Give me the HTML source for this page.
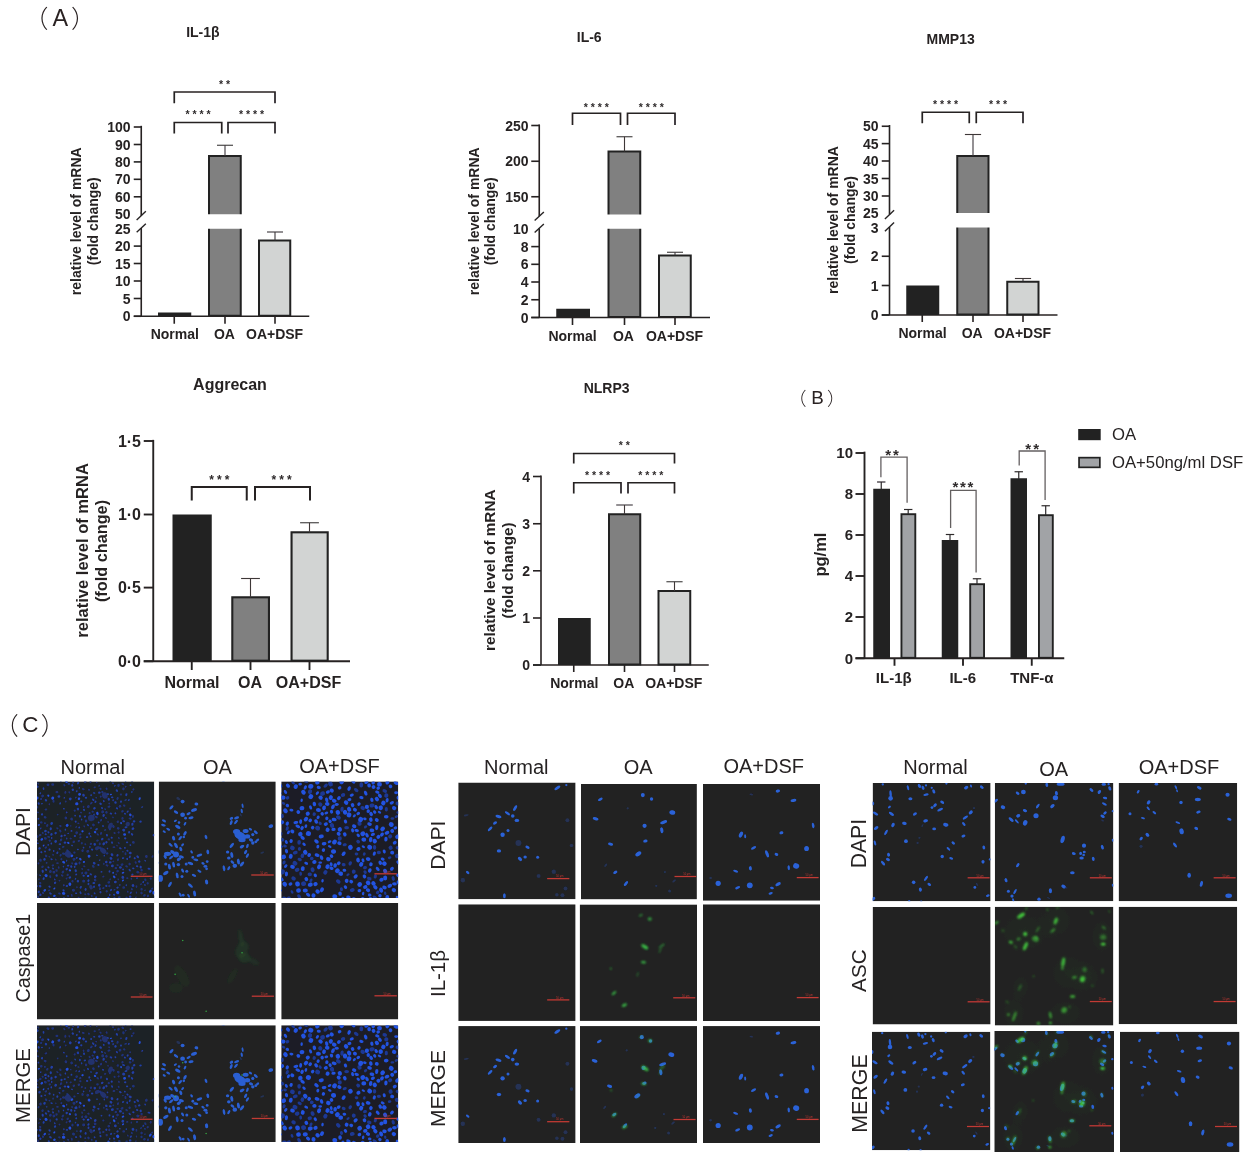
<!DOCTYPE html>
<html lang="en"><head><meta charset="utf-8"><title>Figure</title>
<style>html,body{margin:0;padding:0;background:#fff;overflow:hidden}svg{display:block}text{font-family:"Liberation Sans","Noto Sans CJK SC",sans-serif}</style></head><body>
<svg width="1248" height="1152" viewBox="0 0 1248 1152">
<defs><filter id="b1" x="-5%" y="-5%" width="110%" height="110%"><feGaussianBlur stdDeviation="0.55"/></filter><filter id="b0" filterUnits="userSpaceOnUse" x="0" y="0" width="1248" height="1152"><feGaussianBlur stdDeviation="0.38"/></filter><filter id="b2" x="-5%" y="-5%" width="110%" height="110%"><feGaussianBlur stdDeviation="0.9"/></filter><filter id="b3" x="-5%" y="-5%" width="110%" height="110%"><feGaussianBlur stdDeviation="1.6"/></filter><filter id="b4" x="-20%" y="-20%" width="140%" height="140%"><feGaussianBlur stdDeviation="7"/></filter></defs>
<rect width="1248" height="1152" fill="#fff"/>
<g id="charts" filter="url(#b0)">
<rect x="158" y="312.5" width="33.25" height="3.75" fill="#222222"/>
<rect x="209" y="156" width="31.75" height="159.75" fill="#808080" stroke="#222222" stroke-width="2"/>
<rect x="259" y="240.5" width="31.25" height="75.25" fill="#d2d4d3" stroke="#222222" stroke-width="2"/>
<rect x="145.25" y="214.25" width="164" height="14.5" fill="#fff"/>
<line x1="141.25" y1="125.8" x2="141.25" y2="215.6" stroke="#262324" stroke-width="1.6"/>
<line x1="141.25" y1="228" x2="141.25" y2="316.25" stroke="#262324" stroke-width="1.6"/>
<line x1="136.65" y1="219.9" x2="145.85" y2="211.3" stroke="#262324" stroke-width="1.4"/>
<line x1="136.65" y1="232.3" x2="145.85" y2="223.7" stroke="#262324" stroke-width="1.4"/>
<line x1="133.75" y1="316.25" x2="309.25" y2="316.25" stroke="#262324" stroke-width="1.6"/>
<line x1="133.75" y1="127" x2="141.25" y2="127" stroke="#262324" stroke-width="1.6"/>
<text x="130.5" y="132.01" font-size="14" font-weight="bold" text-anchor="end" fill="#262324">100</text>
<line x1="133.75" y1="144.5" x2="141.25" y2="144.5" stroke="#262324" stroke-width="1.6"/>
<text x="130.5" y="149.51" font-size="14" font-weight="bold" text-anchor="end" fill="#262324">90</text>
<line x1="133.75" y1="161.9" x2="141.25" y2="161.9" stroke="#262324" stroke-width="1.6"/>
<text x="130.5" y="166.91" font-size="14" font-weight="bold" text-anchor="end" fill="#262324">80</text>
<line x1="133.75" y1="179.3" x2="141.25" y2="179.3" stroke="#262324" stroke-width="1.6"/>
<text x="130.5" y="184.31" font-size="14" font-weight="bold" text-anchor="end" fill="#262324">70</text>
<line x1="133.75" y1="196.8" x2="141.25" y2="196.8" stroke="#262324" stroke-width="1.6"/>
<text x="130.5" y="201.81" font-size="14" font-weight="bold" text-anchor="end" fill="#262324">60</text>
<text x="130.5" y="219.26" font-size="14" font-weight="bold" text-anchor="end" fill="#262324">50</text>
<text x="130.5" y="233.76" font-size="14" font-weight="bold" text-anchor="end" fill="#262324">25</text>
<line x1="133.75" y1="246.1" x2="141.25" y2="246.1" stroke="#262324" stroke-width="1.6"/>
<text x="130.5" y="251.11" font-size="14" font-weight="bold" text-anchor="end" fill="#262324">20</text>
<line x1="133.75" y1="263.5" x2="141.25" y2="263.5" stroke="#262324" stroke-width="1.6"/>
<text x="130.5" y="268.51" font-size="14" font-weight="bold" text-anchor="end" fill="#262324">15</text>
<line x1="133.75" y1="281" x2="141.25" y2="281" stroke="#262324" stroke-width="1.6"/>
<text x="130.5" y="286.01" font-size="14" font-weight="bold" text-anchor="end" fill="#262324">10</text>
<line x1="133.75" y1="298.5" x2="141.25" y2="298.5" stroke="#262324" stroke-width="1.6"/>
<text x="130.5" y="303.51" font-size="14" font-weight="bold" text-anchor="end" fill="#262324">5</text>
<line x1="133.75" y1="316.25" x2="141.25" y2="316.25" stroke="#262324" stroke-width="1.6"/>
<text x="130.5" y="321.26" font-size="14" font-weight="bold" text-anchor="end" fill="#262324">0</text>
<line x1="174.25" y1="316.25" x2="174.25" y2="323.75" stroke="#262324" stroke-width="1.6"/>
<text x="174.75" y="338.75" font-size="14" font-weight="bold" text-anchor="middle" fill="#262324">Normal</text>
<line x1="225" y1="316.25" x2="225" y2="323.75" stroke="#262324" stroke-width="1.6"/>
<text x="224.4" y="338.75" font-size="14" font-weight="bold" text-anchor="middle" fill="#262324">OA</text>
<line x1="275" y1="316.25" x2="275" y2="323.75" stroke="#262324" stroke-width="1.6"/>
<text x="274.6" y="338.75" font-size="14" font-weight="bold" text-anchor="middle" fill="#262324">OA+DSF</text>
<line x1="225" y1="145.25" x2="225" y2="156" stroke="#3c3839" stroke-width="1.1"/>
<line x1="217" y1="145.25" x2="233" y2="145.25" stroke="#3c3839" stroke-width="1.1"/>
<line x1="275" y1="232" x2="275" y2="240.5" stroke="#3c3839" stroke-width="1.1"/>
<line x1="267" y1="232" x2="283" y2="232" stroke="#3c3839" stroke-width="1.1"/>
<polyline points="174.25,103.2 174.25,92 275,92 275,103.2" fill="none" stroke="#262324" stroke-width="1.7" stroke-linejoin="miter"/>
<polyline points="174.25,133.4 174.25,122.5 221.75,122.5 221.75,133.4" fill="none" stroke="#262324" stroke-width="1.7" stroke-linejoin="miter"/>
<polyline points="228,133.4 228,122.5 275,122.5 275,133.4" fill="none" stroke="#262324" stroke-width="1.7" stroke-linejoin="miter"/>
<text x="225.95" y="88.36" font-size="10.5" font-weight="bold" text-anchor="middle" fill="#2e2a2b" letter-spacing="2.9">**</text>
<text x="199.45" y="118.36" font-size="10.5" font-weight="bold" text-anchor="middle" fill="#2e2a2b" letter-spacing="2.9">****</text>
<text x="252.95" y="118.36" font-size="10.5" font-weight="bold" text-anchor="middle" fill="#2e2a2b" letter-spacing="2.9">****</text>
<text x="81.25" y="221.25" font-size="14" font-weight="bold" text-anchor="middle" fill="#262324" transform="rotate(-90 81.25 221.25)">relative level of mRNA</text>
<text x="98" y="221.2" font-size="14" font-weight="bold" text-anchor="middle" fill="#262324" transform="rotate(-90 98 221.2)">(fold change)</text>
<text x="202.9" y="37" font-size="14" font-weight="bold" text-anchor="middle" fill="#262324">IL-1β</text>
<rect x="556.25" y="308.75" width="33.75" height="8.75" fill="#222222"/>
<rect x="608.5" y="151.5" width="31.75" height="165.5" fill="#808080" stroke="#222222" stroke-width="2"/>
<rect x="659" y="255.5" width="31.75" height="61.5" fill="#d2d4d3" stroke="#222222" stroke-width="2"/>
<rect x="543.25" y="214.5" width="166.75" height="14.25" fill="#fff"/>
<line x1="539.25" y1="124.4" x2="539.25" y2="216.3" stroke="#262324" stroke-width="1.6"/>
<line x1="539.25" y1="228.3" x2="539.25" y2="317.5" stroke="#262324" stroke-width="1.6"/>
<line x1="534.65" y1="220.6" x2="543.85" y2="212" stroke="#262324" stroke-width="1.4"/>
<line x1="534.65" y1="232.6" x2="543.85" y2="224" stroke="#262324" stroke-width="1.4"/>
<line x1="531.25" y1="317.5" x2="710" y2="317.5" stroke="#262324" stroke-width="1.6"/>
<line x1="531.25" y1="125.5" x2="539.25" y2="125.5" stroke="#262324" stroke-width="1.6"/>
<text x="528.5" y="130.51" font-size="14" font-weight="bold" text-anchor="end" fill="#262324">250</text>
<line x1="531.25" y1="161.25" x2="539.25" y2="161.25" stroke="#262324" stroke-width="1.6"/>
<text x="528.5" y="166.26" font-size="14" font-weight="bold" text-anchor="end" fill="#262324">200</text>
<line x1="531.25" y1="196.75" x2="539.25" y2="196.75" stroke="#262324" stroke-width="1.6"/>
<text x="528.5" y="201.76" font-size="14" font-weight="bold" text-anchor="end" fill="#262324">150</text>
<text x="528.5" y="234.26" font-size="14" font-weight="bold" text-anchor="end" fill="#262324">10</text>
<line x1="531.25" y1="246.6" x2="539.25" y2="246.6" stroke="#262324" stroke-width="1.6"/>
<text x="528.5" y="251.61" font-size="14" font-weight="bold" text-anchor="end" fill="#262324">8</text>
<line x1="531.25" y1="264.3" x2="539.25" y2="264.3" stroke="#262324" stroke-width="1.6"/>
<text x="528.5" y="269.31" font-size="14" font-weight="bold" text-anchor="end" fill="#262324">6</text>
<line x1="531.25" y1="282" x2="539.25" y2="282" stroke="#262324" stroke-width="1.6"/>
<text x="528.5" y="287.01" font-size="14" font-weight="bold" text-anchor="end" fill="#262324">4</text>
<line x1="531.25" y1="299.75" x2="539.25" y2="299.75" stroke="#262324" stroke-width="1.6"/>
<text x="528.5" y="304.76" font-size="14" font-weight="bold" text-anchor="end" fill="#262324">2</text>
<line x1="531.25" y1="317.5" x2="539.25" y2="317.5" stroke="#262324" stroke-width="1.6"/>
<text x="528.5" y="322.51" font-size="14" font-weight="bold" text-anchor="end" fill="#262324">0</text>
<line x1="572.5" y1="317.5" x2="572.5" y2="325" stroke="#262324" stroke-width="1.6"/>
<text x="572.5" y="340.5" font-size="14" font-weight="bold" text-anchor="middle" fill="#262324">Normal</text>
<line x1="624.5" y1="317.5" x2="624.5" y2="325" stroke="#262324" stroke-width="1.6"/>
<text x="623.4" y="340.5" font-size="14" font-weight="bold" text-anchor="middle" fill="#262324">OA</text>
<line x1="675" y1="317.5" x2="675" y2="325" stroke="#262324" stroke-width="1.6"/>
<text x="674.5" y="340.5" font-size="14" font-weight="bold" text-anchor="middle" fill="#262324">OA+DSF</text>
<line x1="624.5" y1="136.75" x2="624.5" y2="151.5" stroke="#3c3839" stroke-width="1.1"/>
<line x1="616.5" y1="136.75" x2="632.5" y2="136.75" stroke="#3c3839" stroke-width="1.1"/>
<line x1="675" y1="252.25" x2="675" y2="255.5" stroke="#3c3839" stroke-width="1.1"/>
<line x1="667" y1="252.25" x2="683" y2="252.25" stroke="#3c3839" stroke-width="1.1"/>
<polyline points="572.5,125 572.5,113.25 620.5,113.25 620.5,125" fill="none" stroke="#262324" stroke-width="1.7" stroke-linejoin="miter"/>
<polyline points="627.5,125 627.5,113.25 675,113.25 675,125" fill="none" stroke="#262324" stroke-width="1.7" stroke-linejoin="miter"/>
<text x="597.7" y="110.61" font-size="10.5" font-weight="bold" text-anchor="middle" fill="#2e2a2b" letter-spacing="2.9">****</text>
<text x="652.7" y="110.61" font-size="10.5" font-weight="bold" text-anchor="middle" fill="#2e2a2b" letter-spacing="2.9">****</text>
<text x="478.75" y="221.25" font-size="14" font-weight="bold" text-anchor="middle" fill="#262324" transform="rotate(-90 478.75 221.25)">relative level of mRNA</text>
<text x="495" y="221.2" font-size="14" font-weight="bold" text-anchor="middle" fill="#262324" transform="rotate(-90 495 221.2)">(fold change)</text>
<text x="589.2" y="42" font-size="14" font-weight="bold" text-anchor="middle" fill="#262324">IL-6</text>
<rect x="906.25" y="285.5" width="33" height="29.5" fill="#222222"/>
<rect x="957.25" y="156" width="31.25" height="158.5" fill="#808080" stroke="#222222" stroke-width="2"/>
<rect x="1007.25" y="281.75" width="31.25" height="32.75" fill="#d2d4d3" stroke="#222222" stroke-width="2"/>
<rect x="893.5" y="213" width="164" height="14.5" fill="#fff"/>
<line x1="889.5" y1="125" x2="889.5" y2="214.6" stroke="#262324" stroke-width="1.6"/>
<line x1="889.5" y1="226.9" x2="889.5" y2="315" stroke="#262324" stroke-width="1.6"/>
<line x1="884.9" y1="218.9" x2="894.1" y2="210.3" stroke="#262324" stroke-width="1.4"/>
<line x1="884.9" y1="231.2" x2="894.1" y2="222.6" stroke="#262324" stroke-width="1.4"/>
<line x1="881.75" y1="315" x2="1057.5" y2="315" stroke="#262324" stroke-width="1.6"/>
<line x1="881.75" y1="126.25" x2="889.5" y2="126.25" stroke="#262324" stroke-width="1.6"/>
<text x="878.5" y="131.26" font-size="14" font-weight="bold" text-anchor="end" fill="#262324">50</text>
<line x1="881.75" y1="143.6" x2="889.5" y2="143.6" stroke="#262324" stroke-width="1.6"/>
<text x="878.5" y="148.61" font-size="14" font-weight="bold" text-anchor="end" fill="#262324">45</text>
<line x1="881.75" y1="161" x2="889.5" y2="161" stroke="#262324" stroke-width="1.6"/>
<text x="878.5" y="166.01" font-size="14" font-weight="bold" text-anchor="end" fill="#262324">40</text>
<line x1="881.75" y1="178.5" x2="889.5" y2="178.5" stroke="#262324" stroke-width="1.6"/>
<text x="878.5" y="183.51" font-size="14" font-weight="bold" text-anchor="end" fill="#262324">35</text>
<line x1="881.75" y1="196" x2="889.5" y2="196" stroke="#262324" stroke-width="1.6"/>
<text x="878.5" y="201.01" font-size="14" font-weight="bold" text-anchor="end" fill="#262324">30</text>
<text x="878.5" y="218.01" font-size="14" font-weight="bold" text-anchor="end" fill="#262324">25</text>
<text x="878.5" y="232.51" font-size="14" font-weight="bold" text-anchor="end" fill="#262324">3</text>
<line x1="881.75" y1="256.25" x2="889.5" y2="256.25" stroke="#262324" stroke-width="1.6"/>
<text x="878.5" y="261.26" font-size="14" font-weight="bold" text-anchor="end" fill="#262324">2</text>
<line x1="881.75" y1="285.5" x2="889.5" y2="285.5" stroke="#262324" stroke-width="1.6"/>
<text x="878.5" y="290.51" font-size="14" font-weight="bold" text-anchor="end" fill="#262324">1</text>
<line x1="881.75" y1="315" x2="889.5" y2="315" stroke="#262324" stroke-width="1.6"/>
<text x="878.5" y="320.01" font-size="14" font-weight="bold" text-anchor="end" fill="#262324">0</text>
<line x1="922.25" y1="315" x2="922.25" y2="322" stroke="#262324" stroke-width="1.6"/>
<text x="922.5" y="337.5" font-size="14" font-weight="bold" text-anchor="middle" fill="#262324">Normal</text>
<line x1="973" y1="315" x2="973" y2="322" stroke="#262324" stroke-width="1.6"/>
<text x="972.2" y="337.5" font-size="14" font-weight="bold" text-anchor="middle" fill="#262324">OA</text>
<line x1="1023" y1="315" x2="1023" y2="322" stroke="#262324" stroke-width="1.6"/>
<text x="1022.5" y="337.5" font-size="14" font-weight="bold" text-anchor="middle" fill="#262324">OA+DSF</text>
<line x1="973" y1="134.5" x2="973" y2="156" stroke="#3c3839" stroke-width="1.1"/>
<line x1="964.9" y1="134.5" x2="981.1" y2="134.5" stroke="#3c3839" stroke-width="1.1"/>
<line x1="1023" y1="278.5" x2="1023" y2="281.5" stroke="#3c3839" stroke-width="1.1"/>
<line x1="1014.9" y1="278.5" x2="1031.1" y2="278.5" stroke="#3c3839" stroke-width="1.1"/>
<polyline points="922.25,123.2 922.25,112.25 969.25,112.25 969.25,123.2" fill="none" stroke="#262324" stroke-width="1.7" stroke-linejoin="miter"/>
<polyline points="976.25,123.2 976.25,112.25 1023,112.25 1023,123.2" fill="none" stroke="#262324" stroke-width="1.7" stroke-linejoin="miter"/>
<text x="946.95" y="107.86" font-size="10.5" font-weight="bold" text-anchor="middle" fill="#2e2a2b" letter-spacing="2.9">****</text>
<text x="999.45" y="107.86" font-size="10.5" font-weight="bold" text-anchor="middle" fill="#2e2a2b" letter-spacing="2.9">***</text>
<text x="837.5" y="220" font-size="14" font-weight="bold" text-anchor="middle" fill="#262324" transform="rotate(-90 837.5 220)">relative level of mRNA</text>
<text x="855" y="220" font-size="14" font-weight="bold" text-anchor="middle" fill="#262324" transform="rotate(-90 855 220)">(fold change)</text>
<text x="950.6" y="44.2" font-size="14" font-weight="bold" text-anchor="middle" fill="#262324">MMP13</text>
<rect x="172.5" y="514.5" width="39.25" height="146.75" fill="#222222"/>
<rect x="232.3" y="597.3" width="36.65" height="63.4" fill="#808080" stroke="#222222" stroke-width="2.1"/>
<rect x="291.55" y="532.3" width="36.15" height="128.4" fill="#d2d4d3" stroke="#222222" stroke-width="2.1"/>
<line x1="153.25" y1="439.85" x2="153.25" y2="661.25" stroke="#262324" stroke-width="1.9"/>
<line x1="143.75" y1="661.25" x2="350" y2="661.25" stroke="#262324" stroke-width="1.9"/>
<line x1="143.75" y1="441" x2="153.25" y2="441" stroke="#262324" stroke-width="1.9"/>
<text x="141" y="446.73" font-size="16" font-weight="bold" text-anchor="end" fill="#262324">1·5</text>
<line x1="143.75" y1="514.5" x2="153.25" y2="514.5" stroke="#262324" stroke-width="1.9"/>
<text x="141" y="520.23" font-size="16" font-weight="bold" text-anchor="end" fill="#262324">1·0</text>
<line x1="143.75" y1="587.6" x2="153.25" y2="587.6" stroke="#262324" stroke-width="1.9"/>
<text x="141" y="593.33" font-size="16" font-weight="bold" text-anchor="end" fill="#262324">0·5</text>
<line x1="143.75" y1="661.25" x2="153.25" y2="661.25" stroke="#262324" stroke-width="1.9"/>
<text x="141" y="666.98" font-size="16" font-weight="bold" text-anchor="end" fill="#262324">0·0</text>
<line x1="191.75" y1="661.25" x2="191.75" y2="670" stroke="#262324" stroke-width="1.9"/>
<text x="192" y="687.5" font-size="16" font-weight="bold" text-anchor="middle" fill="#262324">Normal</text>
<line x1="250.5" y1="661.25" x2="250.5" y2="670" stroke="#262324" stroke-width="1.9"/>
<text x="250" y="687.5" font-size="16" font-weight="bold" text-anchor="middle" fill="#262324">OA</text>
<line x1="309.5" y1="661.25" x2="309.5" y2="670" stroke="#262324" stroke-width="1.9"/>
<text x="308.5" y="687.5" font-size="16" font-weight="bold" text-anchor="middle" fill="#262324">OA+DSF</text>
<line x1="250.5" y1="578.5" x2="250.5" y2="597.5" stroke="#3c3839" stroke-width="1.1"/>
<line x1="241.1" y1="578.5" x2="259.9" y2="578.5" stroke="#3c3839" stroke-width="1.1"/>
<line x1="309.5" y1="522.75" x2="309.5" y2="532.5" stroke="#3c3839" stroke-width="1.1"/>
<line x1="300.1" y1="522.75" x2="318.9" y2="522.75" stroke="#3c3839" stroke-width="1.1"/>
<polyline points="191.75,500.5 191.75,487 246.75,487 246.75,500.5" fill="none" stroke="#262324" stroke-width="2" stroke-linejoin="miter"/>
<polyline points="255,500.5 255,487 310,487 310,500.5" fill="none" stroke="#262324" stroke-width="2" stroke-linejoin="miter"/>
<text x="220.8" y="483.62" font-size="12" font-weight="bold" text-anchor="middle" fill="#2e2a2b" letter-spacing="3.1">***</text>
<text x="283.05" y="483.62" font-size="12" font-weight="bold" text-anchor="middle" fill="#2e2a2b" letter-spacing="3.1">***</text>
<text x="88" y="550.4" font-size="16.55" font-weight="bold" text-anchor="middle" fill="#262324" transform="rotate(-90 88 550.4)">relative level of mRNA</text>
<text x="107.4" y="551" font-size="16.3" font-weight="bold" text-anchor="middle" fill="#262324" transform="rotate(-90 107.4 551)">(fold change)</text>
<text x="230" y="390.3" font-size="16" font-weight="bold" text-anchor="middle" fill="#262324">Aggrecan</text>
<rect x="558" y="618" width="32.75" height="47" fill="#222222"/>
<rect x="609" y="514.25" width="31.25" height="150.25" fill="#808080" stroke="#222222" stroke-width="2"/>
<rect x="658.5" y="591" width="31.75" height="73.5" fill="#d2d4d3" stroke="#222222" stroke-width="2"/>
<line x1="541" y1="475.6" x2="541" y2="665" stroke="#262324" stroke-width="1.6"/>
<line x1="533" y1="665" x2="708.75" y2="665" stroke="#262324" stroke-width="1.6"/>
<line x1="533" y1="476.5" x2="541" y2="476.5" stroke="#262324" stroke-width="1.6"/>
<text x="530" y="481.51" font-size="14" font-weight="bold" text-anchor="end" fill="#262324">4</text>
<line x1="533" y1="523.75" x2="541" y2="523.75" stroke="#262324" stroke-width="1.6"/>
<text x="530" y="528.76" font-size="14" font-weight="bold" text-anchor="end" fill="#262324">3</text>
<line x1="533" y1="570.8" x2="541" y2="570.8" stroke="#262324" stroke-width="1.6"/>
<text x="530" y="575.81" font-size="14" font-weight="bold" text-anchor="end" fill="#262324">2</text>
<line x1="533" y1="618" x2="541" y2="618" stroke="#262324" stroke-width="1.6"/>
<text x="530" y="623.01" font-size="14" font-weight="bold" text-anchor="end" fill="#262324">1</text>
<line x1="533" y1="665" x2="541" y2="665" stroke="#262324" stroke-width="1.6"/>
<text x="530" y="670.01" font-size="14" font-weight="bold" text-anchor="end" fill="#262324">0</text>
<line x1="573.75" y1="665" x2="573.75" y2="672" stroke="#262324" stroke-width="1.6"/>
<text x="574.25" y="687.5" font-size="14" font-weight="bold" text-anchor="middle" fill="#262324">Normal</text>
<line x1="624.5" y1="665" x2="624.5" y2="672" stroke="#262324" stroke-width="1.6"/>
<text x="623.75" y="687.5" font-size="14" font-weight="bold" text-anchor="middle" fill="#262324">OA</text>
<line x1="674.5" y1="665" x2="674.5" y2="672" stroke="#262324" stroke-width="1.6"/>
<text x="673.75" y="687.5" font-size="14" font-weight="bold" text-anchor="middle" fill="#262324">OA+DSF</text>
<line x1="624.5" y1="505" x2="624.5" y2="514.3" stroke="#3c3839" stroke-width="1.1"/>
<line x1="616.2" y1="505" x2="632.8" y2="505" stroke="#3c3839" stroke-width="1.1"/>
<line x1="674.5" y1="581.75" x2="674.5" y2="591" stroke="#3c3839" stroke-width="1.1"/>
<line x1="666.4" y1="581.75" x2="682.6" y2="581.75" stroke="#3c3839" stroke-width="1.1"/>
<polyline points="573.75,463.4 573.75,453.5 674.5,453.5 674.5,463.4" fill="none" stroke="#262324" stroke-width="1.7" stroke-linejoin="miter"/>
<polyline points="573.75,493.4 573.75,482.75 621,482.75 621,493.4" fill="none" stroke="#262324" stroke-width="1.7" stroke-linejoin="miter"/>
<polyline points="628,493.4 628,482.75 674.5,482.75 674.5,493.4" fill="none" stroke="#262324" stroke-width="1.7" stroke-linejoin="miter"/>
<text x="625.7" y="448.61" font-size="10.5" font-weight="bold" text-anchor="middle" fill="#2e2a2b" letter-spacing="2.9">**</text>
<text x="598.95" y="478.61" font-size="10.5" font-weight="bold" text-anchor="middle" fill="#2e2a2b" letter-spacing="2.9">****</text>
<text x="652.2" y="478.61" font-size="10.5" font-weight="bold" text-anchor="middle" fill="#2e2a2b" letter-spacing="2.9">****</text>
<text x="495" y="570.25" font-size="15.3" font-weight="bold" text-anchor="middle" fill="#262324" transform="rotate(-90 495 570.25)">relative level of mRNA</text>
<text x="512.6" y="570.4" font-size="15.3" font-weight="bold" text-anchor="middle" fill="#262324" transform="rotate(-90 512.6 570.4)">(fold change)</text>
<text x="606.6" y="392.6" font-size="14" font-weight="bold" text-anchor="middle" fill="#262324">NLRP3</text>
<rect x="873.25" y="488.75" width="16.75" height="169.5" fill="#222222"/>
<rect x="901.45" y="514.2" width="13.85" height="143.6" fill="#a1a3a6" stroke="#222222" stroke-width="1.9"/>
<rect x="941.75" y="540" width="16.5" height="118.25" fill="#222222"/>
<rect x="970.2" y="584.2" width="13.85" height="73.6" fill="#a1a3a6" stroke="#222222" stroke-width="1.9"/>
<rect x="1010.5" y="478.25" width="16.5" height="180" fill="#222222"/>
<rect x="1038.95" y="515.2" width="13.85" height="142.6" fill="#a1a3a6" stroke="#222222" stroke-width="1.9"/>
<line x1="864.5" y1="451.65" x2="864.5" y2="658.25" stroke="#262324" stroke-width="1.9"/>
<line x1="855.5" y1="658.25" x2="1064.25" y2="658.25" stroke="#262324" stroke-width="1.9"/>
<line x1="855.5" y1="453" x2="864.5" y2="453" stroke="#262324" stroke-width="1.9"/>
<text x="853" y="458.3" font-size="15" font-weight="bold" text-anchor="end" fill="#262324">10</text>
<line x1="855.5" y1="494" x2="864.5" y2="494" stroke="#262324" stroke-width="1.9"/>
<text x="853" y="499.3" font-size="15" font-weight="bold" text-anchor="end" fill="#262324">8</text>
<line x1="855.5" y1="535" x2="864.5" y2="535" stroke="#262324" stroke-width="1.9"/>
<text x="853" y="540.3" font-size="15" font-weight="bold" text-anchor="end" fill="#262324">6</text>
<line x1="855.5" y1="576" x2="864.5" y2="576" stroke="#262324" stroke-width="1.9"/>
<text x="853" y="581.3" font-size="15" font-weight="bold" text-anchor="end" fill="#262324">4</text>
<line x1="855.5" y1="617" x2="864.5" y2="617" stroke="#262324" stroke-width="1.9"/>
<text x="853" y="622.3" font-size="15" font-weight="bold" text-anchor="end" fill="#262324">2</text>
<line x1="855.5" y1="658.25" x2="864.5" y2="658.25" stroke="#262324" stroke-width="1.9"/>
<text x="853" y="663.55" font-size="15" font-weight="bold" text-anchor="end" fill="#262324">0</text>
<line x1="894.5" y1="658.25" x2="894.5" y2="665.75" stroke="#262324" stroke-width="1.9"/>
<text x="893.75" y="682.5" font-size="15" font-weight="bold" text-anchor="middle" fill="#262324">IL-1β</text>
<line x1="963" y1="658.25" x2="963" y2="665.75" stroke="#262324" stroke-width="1.9"/>
<text x="962.75" y="682.5" font-size="15" font-weight="bold" text-anchor="middle" fill="#262324">IL-6</text>
<line x1="1031.75" y1="658.25" x2="1031.75" y2="665.75" stroke="#262324" stroke-width="1.9"/>
<text x="1031.9" y="682.5" font-size="15" font-weight="bold" text-anchor="middle" fill="#262324">TNF-α</text>
<line x1="881.25" y1="482" x2="881.25" y2="489.5" stroke="#2e2b2c" stroke-width="1.2"/>
<line x1="877.05" y1="482" x2="885.45" y2="482" stroke="#2e2b2c" stroke-width="1.2"/>
<line x1="908.2" y1="509.5" x2="908.2" y2="514" stroke="#2e2b2c" stroke-width="1.2"/>
<line x1="904" y1="509.5" x2="912.4" y2="509.5" stroke="#2e2b2c" stroke-width="1.2"/>
<line x1="950" y1="534.5" x2="950" y2="541" stroke="#2e2b2c" stroke-width="1.2"/>
<line x1="945.8" y1="534.5" x2="954.2" y2="534.5" stroke="#2e2b2c" stroke-width="1.2"/>
<line x1="977" y1="578.75" x2="977" y2="584" stroke="#2e2b2c" stroke-width="1.2"/>
<line x1="972.8" y1="578.75" x2="981.2" y2="578.75" stroke="#2e2b2c" stroke-width="1.2"/>
<line x1="1018.75" y1="471.75" x2="1018.75" y2="479" stroke="#2e2b2c" stroke-width="1.2"/>
<line x1="1014.55" y1="471.75" x2="1022.95" y2="471.75" stroke="#2e2b2c" stroke-width="1.2"/>
<line x1="1045.7" y1="505.75" x2="1045.7" y2="515" stroke="#2e2b2c" stroke-width="1.2"/>
<line x1="1041.5" y1="505.75" x2="1049.9" y2="505.75" stroke="#2e2b2c" stroke-width="1.2"/>
<polyline points="880.9,477.2 880.9,457.1 907.1,457.1 907.1,502.8" fill="none" stroke="#646061" stroke-width="1.3" stroke-linejoin="miter"/>
<polyline points="950.6,528 950.6,490.4 976.1,490.4 976.1,572.5" fill="none" stroke="#646061" stroke-width="1.3" stroke-linejoin="miter"/>
<polyline points="1019.2,465.5 1019.2,451 1045.1,451 1045.1,500" fill="none" stroke="#646061" stroke-width="1.3" stroke-linejoin="miter"/>
<text x="893" y="459.65" font-size="15" font-weight="bold" text-anchor="middle" fill="#2f2b2c" letter-spacing="2">**</text>
<text x="963.75" y="492.45" font-size="15" font-weight="bold" text-anchor="middle" fill="#2f2b2c" letter-spacing="1.7">***</text>
<text x="1033.2" y="453.65" font-size="15" font-weight="bold" text-anchor="middle" fill="#2f2b2c" letter-spacing="2">**</text>
<text x="826.4" y="554.6" font-size="16.5" font-weight="bold" text-anchor="middle" fill="#262324" transform="rotate(-90 826.4 554.6)">pg/ml</text>
<rect x="1078.2" y="429" width="22.5" height="11.2" fill="#222222"/>
<rect x="1079.05" y="457.65" width="20.8" height="9.7" fill="#a1a3a6" stroke="#222222" stroke-width="1.7"/>
<text x="1112" y="440.3" font-size="16.7" text-anchor="start" fill="#262324">OA</text>
<text x="1112" y="468.3" font-size="16.7" text-anchor="start" fill="#262324">OA+50ng/ml DSF</text>
<text font-size="24.7" fill="#2a2324" font-weight="300"><tspan x="23.71" y="28.49">（</tspan><tspan x="60.4" y="26.25" font-size="23.4" text-anchor="middle">A</tspan><tspan x="71.08" y="28.49">）</tspan></text>
<text font-size="18.3" fill="#2a2324" font-weight="300"><tspan x="788.31" y="404.95">（</tspan><tspan x="817.5" y="403.6" font-size="18.8" text-anchor="middle">B</tspan><tspan x="826.98" y="404.95">）</tspan></text>
<text font-size="24.2" fill="#2a2324" font-weight="300"><tspan x="-5.43" y="734.32">（</tspan><tspan x="30.4" y="732" font-size="22.4" text-anchor="middle">C</tspan><tspan x="40.72" y="734.32">）</tspan></text>
</g>
<g id="micro" filter="url(#b0)">
<defs>
<g id="g1c1" filter="url(#b1)">
<ellipse cx="52.83" cy="65.61" rx="1.2" ry="0.95" fill="#1f378c" opacity="0.85" transform="rotate(105.73 52.83 65.61)"/>
<ellipse cx="59.92" cy="73.96" rx="0.96" ry="0.69" fill="#2143b4" opacity="0.9" transform="rotate(16.32 59.92 73.96)"/>
<ellipse cx="81.52" cy="3.98" rx="1.53" ry="1.28" fill="#1f378c" opacity="0.85" transform="rotate(110.8 81.52 3.98)"/>
<ellipse cx="0.79" cy="61.88" rx="1.02" ry="0.72" fill="#2143b4" opacity="0.9" transform="rotate(5.41 0.79 61.88)"/>
<ellipse cx="51.42" cy="99.25" rx="1.32" ry="1.03" fill="#2143b4" opacity="0.9" transform="rotate(119.24 51.42 99.25)"/>
<ellipse cx="32.1" cy="117.72" rx="1.45" ry="1.23" fill="#1f378c" opacity="0.85" transform="rotate(56.75 32.1 117.72)"/>
<ellipse cx="46.65" cy="99.74" rx="1.52" ry="1.37" fill="#1f378c" opacity="0.85" transform="rotate(0.1 46.65 99.74)"/>
<ellipse cx="46.29" cy="7.69" rx="1.41" ry="1" fill="#1f378c" opacity="0.85" transform="rotate(15.69 46.29 7.69)"/>
<ellipse cx="28.32" cy="11.02" rx="1.42" ry="0.96" fill="#1f378c" opacity="0.85" transform="rotate(100.67 28.32 11.02)"/>
<ellipse cx="21.69" cy="86.1" rx="1.32" ry="0.87" fill="#1f378c" opacity="0.85" transform="rotate(75.74 21.69 86.1)"/>
<ellipse cx="31.11" cy="114.54" rx="1.1" ry="1" fill="#1f378c" opacity="0.85" transform="rotate(37.93 31.11 114.54)"/>
<ellipse cx="100.67" cy="75.38" rx="1.54" ry="1.07" fill="#2143b4" opacity="0.9" transform="rotate(46.49 100.67 75.38)"/>
<ellipse cx="38.15" cy="34.26" rx="0.96" ry="0.78" fill="#2143b4" opacity="0.9" transform="rotate(43.74 38.15 34.26)"/>
<ellipse cx="43.23" cy="52.93" rx="1.21" ry="0.98" fill="#1f378c" opacity="0.85" transform="rotate(155.97 43.23 52.93)"/>
<ellipse cx="17.34" cy="107.1" rx="1.22" ry="0.83" fill="#2450dc" transform="rotate(133.1 17.34 107.1)"/>
<ellipse cx="22.39" cy="112.07" rx="1.29" ry="0.98" fill="#1f378c" opacity="0.85" transform="rotate(18.69 22.39 112.07)"/>
<ellipse cx="29.58" cy="97.02" rx="1.09" ry="0.74" fill="#1f378c" opacity="0.85" transform="rotate(129.66 29.58 97.02)"/>
<ellipse cx="26.18" cy="65.56" rx="1.3" ry="0.93" fill="#1f378c" opacity="0.85" transform="rotate(165.12 26.18 65.56)"/>
<ellipse cx="0.97" cy="31.03" rx="0.94" ry="0.64" fill="#2143b4" opacity="0.9" transform="rotate(66.38 0.97 31.03)"/>
<ellipse cx="14.66" cy="42.1" rx="1.54" ry="1.29" fill="#2143b4" opacity="0.9" transform="rotate(124.42 14.66 42.1)"/>
<ellipse cx="15.7" cy="3.17" rx="1.49" ry="1.27" fill="#1f378c" opacity="0.85" transform="rotate(173.3 15.7 3.17)"/>
<ellipse cx="74.71" cy="56.39" rx="1.11" ry="1.05" fill="#2143b4" opacity="0.9" transform="rotate(13.55 74.71 56.39)"/>
<ellipse cx="86.7" cy="106.12" rx="1.36" ry="1.2" fill="#1f378c" opacity="0.85" transform="rotate(164.7 86.7 106.12)"/>
<ellipse cx="80.53" cy="106.2" rx="1.17" ry="1.03" fill="#2143b4" opacity="0.9" transform="rotate(155.43 80.53 106.2)"/>
<ellipse cx="73.37" cy="44.5" rx="3.37" ry="2.18" fill="#22388a" opacity="0.7" transform="rotate(115.09 73.37 44.5)"/>
<ellipse cx="103.7" cy="85.66" rx="1.38" ry="1.12" fill="#2143b4" opacity="0.9" transform="rotate(79.29 103.7 85.66)"/>
<ellipse cx="8.97" cy="88.28" rx="1.29" ry="1.01" fill="#2143b4" opacity="0.9" transform="rotate(41.44 8.97 88.28)"/>
<ellipse cx="29.44" cy="0.35" rx="1.54" ry="1.06" fill="#2450dc" transform="rotate(30.53 29.44 0.35)"/>
<ellipse cx="77.54" cy="51.59" rx="1.11" ry="0.93" fill="#1f378c" opacity="0.85" transform="rotate(35.73 77.54 51.59)"/>
<ellipse cx="94.91" cy="107.79" rx="1.15" ry="0.93" fill="#1f378c" opacity="0.85" transform="rotate(56.97 94.91 107.79)"/>
<ellipse cx="58.08" cy="98.61" rx="1.36" ry="1.27" fill="#1f378c" opacity="0.85" transform="rotate(49.82 58.08 98.61)"/>
<ellipse cx="52.63" cy="31.74" rx="1.17" ry="0.97" fill="#1f378c" opacity="0.85" transform="rotate(88.9 52.63 31.74)"/>
<ellipse cx="98.86" cy="115.86" rx="0.95" ry="0.6" fill="#1f378c" opacity="0.85" transform="rotate(157.11 98.86 115.86)"/>
<ellipse cx="83.33" cy="66.9" rx="1.41" ry="0.89" fill="#2143b4" opacity="0.9" transform="rotate(24.46 83.33 66.9)"/>
<ellipse cx="1.94" cy="97.73" rx="0.99" ry="0.63" fill="#1f378c" opacity="0.85" transform="rotate(113.25 1.94 97.73)"/>
<ellipse cx="73.97" cy="76.95" rx="1.52" ry="1.29" fill="#2143b4" opacity="0.9" transform="rotate(35.88 73.97 76.95)"/>
<ellipse cx="83.99" cy="20.31" rx="1.12" ry="0.96" fill="#2143b4" opacity="0.9" transform="rotate(93.68 83.99 20.31)"/>
<ellipse cx="88.99" cy="45.83" rx="1.49" ry="0.97" fill="#2143b4" opacity="0.9" transform="rotate(167.87 88.99 45.83)"/>
<ellipse cx="14.46" cy="52.97" rx="1.49" ry="1.11" fill="#2143b4" opacity="0.9" transform="rotate(102.39 14.46 52.97)"/>
<ellipse cx="93.82" cy="111.37" rx="1.32" ry="0.91" fill="#2143b4" opacity="0.9" transform="rotate(129.95 93.82 111.37)"/>
<ellipse cx="75.35" cy="84.4" rx="1.48" ry="1.4" fill="#2143b4" opacity="0.9" transform="rotate(175.92 75.35 84.4)"/>
<ellipse cx="93.1" cy="37.13" rx="1.46" ry="1.07" fill="#1f378c" opacity="0.85" transform="rotate(14.9 93.1 37.13)"/>
<ellipse cx="64.49" cy="90.42" rx="0.92" ry="0.81" fill="#2143b4" opacity="0.9" transform="rotate(11.53 64.49 90.42)"/>
<ellipse cx="15.72" cy="16.69" rx="1.58" ry="1.41" fill="#2450dc" transform="rotate(124.09 15.72 16.69)"/>
<ellipse cx="57.62" cy="111.95" rx="1.04" ry="0.83" fill="#2143b4" opacity="0.9" transform="rotate(52.23 57.62 111.95)"/>
<ellipse cx="75.03" cy="61.21" rx="1.26" ry="0.91" fill="#2143b4" opacity="0.9" transform="rotate(68.62 75.03 61.21)"/>
<ellipse cx="22.92" cy="62.77" rx="1.29" ry="0.81" fill="#2143b4" opacity="0.9" transform="rotate(174.49 22.92 62.77)"/>
<ellipse cx="46.67" cy="94.33" rx="1.22" ry="1.03" fill="#2143b4" opacity="0.9" transform="rotate(11.86 46.67 94.33)"/>
<ellipse cx="48.24" cy="112.87" rx="1.07" ry="0.83" fill="#1f378c" opacity="0.85" transform="rotate(22.85 48.24 112.87)"/>
<ellipse cx="1.71" cy="22.1" rx="1.35" ry="0.98" fill="#2143b4" opacity="0.9" transform="rotate(63.96 1.71 22.1)"/>
<ellipse cx="11.48" cy="85.98" rx="1.23" ry="0.87" fill="#2143b4" opacity="0.9" transform="rotate(35.59 11.48 85.98)"/>
<ellipse cx="50.98" cy="43.71" rx="1.24" ry="0.84" fill="#2143b4" opacity="0.9" transform="rotate(36.77 50.98 43.71)"/>
<ellipse cx="71.79" cy="100.95" rx="1.38" ry="1.23" fill="#1f378c" opacity="0.85" transform="rotate(162.48 71.79 100.95)"/>
<ellipse cx="36.48" cy="108.81" rx="1.55" ry="1.41" fill="#1f378c" opacity="0.85" transform="rotate(24.11 36.48 108.81)"/>
<ellipse cx="85.46" cy="29.88" rx="1.44" ry="1.09" fill="#1f378c" opacity="0.85" transform="rotate(142.19 85.46 29.88)"/>
<ellipse cx="46.93" cy="80.54" rx="1.19" ry="1" fill="#2450dc" transform="rotate(164.05 46.93 80.54)"/>
<ellipse cx="12.73" cy="59.18" rx="1.23" ry="1.04" fill="#1f378c" opacity="0.85" transform="rotate(34.02 12.73 59.18)"/>
<ellipse cx="60.26" cy="66.68" rx="2.65" ry="1.82" fill="#22388a" opacity="0.7" transform="rotate(151.24 60.26 66.68)"/>
<ellipse cx="37.89" cy="54.57" rx="1.18" ry="0.97" fill="#2143b4" opacity="0.9" transform="rotate(2.38 37.89 54.57)"/>
<ellipse cx="18.64" cy="59.99" rx="1.48" ry="1.31" fill="#2143b4" opacity="0.9" transform="rotate(126.84 18.64 59.99)"/>
<ellipse cx="59.01" cy="115.94" rx="1.07" ry="0.98" fill="#2143b4" opacity="0.9" transform="rotate(134 59.01 115.94)"/>
<ellipse cx="95.94" cy="47.27" rx="1.47" ry="1.25" fill="#2143b4" opacity="0.9" transform="rotate(138.11 95.94 47.27)"/>
<ellipse cx="47.28" cy="84.99" rx="1.12" ry="0.87" fill="#1f378c" opacity="0.85" transform="rotate(1.91 47.28 84.99)"/>
<ellipse cx="75.01" cy="73.26" rx="1.51" ry="1.27" fill="#2143b4" opacity="0.9" transform="rotate(60.81 75.01 73.26)"/>
<ellipse cx="66.78" cy="62.44" rx="1.55" ry="1.29" fill="#2143b4" opacity="0.9" transform="rotate(126.23 66.78 62.44)"/>
<ellipse cx="5" cy="22.26" rx="0.96" ry="0.68" fill="#2143b4" opacity="0.9" transform="rotate(163.02 5 22.26)"/>
<ellipse cx="8.07" cy="70.11" rx="0.93" ry="0.86" fill="#2143b4" opacity="0.9" transform="rotate(28.79 8.07 70.11)"/>
<ellipse cx="5.97" cy="111.49" rx="1.24" ry="1.02" fill="#1f378c" opacity="0.85" transform="rotate(65.8 5.97 111.49)"/>
<ellipse cx="76.96" cy="65.72" rx="1.37" ry="0.98" fill="#1f378c" opacity="0.85" transform="rotate(2.52 76.96 65.72)"/>
<ellipse cx="4.09" cy="17.63" rx="1.15" ry="1.06" fill="#1f378c" opacity="0.85" transform="rotate(134.71 4.09 17.63)"/>
<ellipse cx="116.66" cy="111.39" rx="1.71" ry="1.3" fill="#2450dc" transform="rotate(85.97 116.66 111.39)"/>
<ellipse cx="28" cy="61.28" rx="1.37" ry="1.06" fill="#2143b4" opacity="0.9" transform="rotate(176.19 28 61.28)"/>
<ellipse cx="70.83" cy="12.7" rx="1.2" ry="0.82" fill="#2143b4" opacity="0.9" transform="rotate(9.37 70.83 12.7)"/>
<ellipse cx="48.92" cy="91.58" rx="1.55" ry="1.45" fill="#1f378c" opacity="0.85" transform="rotate(132.17 48.92 91.58)"/>
<ellipse cx="12.55" cy="105.23" rx="1.31" ry="0.96" fill="#2143b4" opacity="0.9" transform="rotate(48.87 12.55 105.23)"/>
<ellipse cx="66.22" cy="69.41" rx="3.61" ry="2.47" fill="#22388a" opacity="0.7" transform="rotate(44.81 66.22 69.41)"/>
<ellipse cx="107.97" cy="103.57" rx="0.94" ry="0.67" fill="#2143b4" opacity="0.9" transform="rotate(76.53 107.97 103.57)"/>
<ellipse cx="11.19" cy="63.46" rx="0.96" ry="0.81" fill="#2143b4" opacity="0.9" transform="rotate(99.11 11.19 63.46)"/>
<ellipse cx="43.41" cy="55.95" rx="1.12" ry="0.97" fill="#1f378c" opacity="0.85" transform="rotate(150.94 43.41 55.95)"/>
<ellipse cx="13.25" cy="95.29" rx="1.4" ry="0.97" fill="#1f378c" opacity="0.85" transform="rotate(76.38 13.25 95.29)"/>
<ellipse cx="95.38" cy="42.91" rx="1.54" ry="1.12" fill="#2143b4" opacity="0.9" transform="rotate(98.75 95.38 42.91)"/>
<ellipse cx="8.88" cy="66.14" rx="1.35" ry="0.97" fill="#1f378c" opacity="0.85" transform="rotate(139.59 8.88 66.14)"/>
<ellipse cx="24.38" cy="77.79" rx="1.1" ry="0.94" fill="#1f378c" opacity="0.85" transform="rotate(124.92 24.38 77.79)"/>
<ellipse cx="42.6" cy="12.97" rx="1.46" ry="1.35" fill="#2450dc" transform="rotate(169.19 42.6 12.97)"/>
<ellipse cx="51.12" cy="94.56" rx="1.27" ry="0.96" fill="#2450dc" transform="rotate(168.24 51.12 94.56)"/>
<ellipse cx="42.23" cy="46.08" rx="1.03" ry="0.83" fill="#2143b4" opacity="0.9" transform="rotate(143.47 42.23 46.08)"/>
<ellipse cx="89.31" cy="103.83" rx="0.91" ry="0.72" fill="#2143b4" opacity="0.9" transform="rotate(97.95 89.31 103.83)"/>
<ellipse cx="6.62" cy="64.07" rx="1.1" ry="0.71" fill="#2450dc" transform="rotate(132.67 6.62 64.07)"/>
<ellipse cx="9.08" cy="74.46" rx="1.38" ry="1.16" fill="#1f378c" opacity="0.85" transform="rotate(44.18 9.08 74.46)"/>
<ellipse cx="90.08" cy="61.06" rx="1.16" ry="0.85" fill="#2143b4" opacity="0.9" transform="rotate(174.29 90.08 61.06)"/>
<ellipse cx="57.75" cy="62.94" rx="1.36" ry="1.25" fill="#2143b4" opacity="0.9" transform="rotate(73.91 57.75 62.94)"/>
<ellipse cx="78.34" cy="100.57" rx="1.44" ry="1.32" fill="#2143b4" opacity="0.9" transform="rotate(172.4 78.34 100.57)"/>
<ellipse cx="61.34" cy="83.5" rx="1.17" ry="0.89" fill="#2143b4" opacity="0.9" transform="rotate(26.31 61.34 83.5)"/>
<ellipse cx="23.32" cy="49.57" rx="1.53" ry="0.98" fill="#1f378c" opacity="0.85" transform="rotate(55.52 23.32 49.57)"/>
<ellipse cx="76.11" cy="91.34" rx="1.08" ry="0.83" fill="#2450dc" transform="rotate(105.13 76.11 91.34)"/>
<ellipse cx="3.33" cy="11.93" rx="1.04" ry="0.73" fill="#2143b4" opacity="0.9" transform="rotate(129.1 3.33 11.93)"/>
<ellipse cx="19.53" cy="89.14" rx="1.26" ry="1.12" fill="#1f378c" opacity="0.85" transform="rotate(86.31 19.53 89.14)"/>
<ellipse cx="104.6" cy="107.8" rx="1.26" ry="1.18" fill="#1f378c" opacity="0.85" transform="rotate(86.87 104.6 107.8)"/>
<ellipse cx="44.81" cy="61.78" rx="1.08" ry="1.02" fill="#1f378c" opacity="0.85" transform="rotate(118.36 44.81 61.78)"/>
<ellipse cx="0.29" cy="55.24" rx="1.42" ry="1.21" fill="#1f378c" opacity="0.85" transform="rotate(109.09 0.29 55.24)"/>
<ellipse cx="16.93" cy="90.67" rx="1.43" ry="1.29" fill="#1f378c" opacity="0.85" transform="rotate(147.98 16.93 90.67)"/>
<ellipse cx="31.12" cy="84.27" rx="1.21" ry="0.94" fill="#2143b4" opacity="0.9" transform="rotate(171.99 31.12 84.27)"/>
<ellipse cx="48.62" cy="108.09" rx="1.44" ry="0.99" fill="#2143b4" opacity="0.9" transform="rotate(97.81 48.62 108.09)"/>
<ellipse cx="17.75" cy="98.01" rx="1.1" ry="0.71" fill="#2143b4" opacity="0.9" transform="rotate(55.03 17.75 98.01)"/>
<ellipse cx="84.1" cy="41.81" rx="1.11" ry="0.84" fill="#2450dc" transform="rotate(83.12 84.1 41.81)"/>
<ellipse cx="97.74" cy="76.82" rx="1.15" ry="0.98" fill="#2143b4" opacity="0.9" transform="rotate(42.75 97.74 76.82)"/>
<ellipse cx="53.51" cy="0.25" rx="1.42" ry="0.98" fill="#1f378c" opacity="0.85" transform="rotate(110.89 53.51 0.25)"/>
<ellipse cx="39.15" cy="45.67" rx="1.07" ry="0.73" fill="#1f378c" opacity="0.85" transform="rotate(131.66 39.15 45.67)"/>
<ellipse cx="38.47" cy="97.4" rx="0.99" ry="0.65" fill="#2143b4" opacity="0.9" transform="rotate(121.99 38.47 97.4)"/>
<ellipse cx="20.4" cy="46.87" rx="1.29" ry="0.84" fill="#1f378c" opacity="0.85" transform="rotate(40.78 20.4 46.87)"/>
<ellipse cx="13.77" cy="47.41" rx="1.5" ry="1.14" fill="#2143b4" opacity="0.9" transform="rotate(92.08 13.77 47.41)"/>
<ellipse cx="90.26" cy="96.71" rx="1.12" ry="0.84" fill="#1f378c" opacity="0.85" transform="rotate(2.78 90.26 96.71)"/>
<ellipse cx="82.29" cy="115.85" rx="1.33" ry="1.09" fill="#1f378c" opacity="0.85" transform="rotate(3.34 82.29 115.85)"/>
<ellipse cx="39.73" cy="76.44" rx="1.15" ry="0.9" fill="#2143b4" opacity="0.9" transform="rotate(141.94 39.73 76.44)"/>
<ellipse cx="71.76" cy="17.84" rx="1.49" ry="1.19" fill="#2143b4" opacity="0.9" transform="rotate(63.46 71.76 17.84)"/>
<ellipse cx="15.87" cy="83.9" rx="1.24" ry="1.06" fill="#1f378c" opacity="0.85" transform="rotate(150.39 15.87 83.9)"/>
<ellipse cx="8.91" cy="28.11" rx="1.35" ry="0.99" fill="#1f378c" opacity="0.85" transform="rotate(167.23 8.91 28.11)"/>
<ellipse cx="54.1" cy="13.76" rx="0.99" ry="0.91" fill="#2143b4" opacity="0.9" transform="rotate(97.82 54.1 13.76)"/>
<ellipse cx="65.68" cy="30.46" rx="1.54" ry="1.37" fill="#1f378c" opacity="0.85" transform="rotate(108.27 65.68 30.46)"/>
<ellipse cx="78.88" cy="86.78" rx="1.28" ry="1.14" fill="#1f378c" opacity="0.85" transform="rotate(2.94 78.88 86.78)"/>
<ellipse cx="66.77" cy="19.67" rx="1.07" ry="0.87" fill="#2143b4" opacity="0.9" transform="rotate(59.78 66.77 19.67)"/>
<ellipse cx="3.51" cy="78.85" rx="1.52" ry="1.25" fill="#1f378c" opacity="0.85" transform="rotate(84.58 3.51 78.85)"/>
<ellipse cx="73.23" cy="81.03" rx="1.39" ry="1.08" fill="#2143b4" opacity="0.9" transform="rotate(179.03 73.23 81.03)"/>
<ellipse cx="66.35" cy="106.72" rx="1.24" ry="0.95" fill="#1f378c" opacity="0.85" transform="rotate(162.77 66.35 106.72)"/>
<ellipse cx="5.51" cy="85.34" rx="1.38" ry="1.12" fill="#1f378c" opacity="0.85" transform="rotate(135.34 5.51 85.34)"/>
<ellipse cx="69.62" cy="7.31" rx="1.19" ry="0.94" fill="#1f378c" opacity="0.85" transform="rotate(71.41 69.62 7.31)"/>
<ellipse cx="81.69" cy="61.62" rx="1.1" ry="0.82" fill="#1f378c" opacity="0.85" transform="rotate(42.46 81.69 61.62)"/>
<ellipse cx="107.44" cy="114.01" rx="1.46" ry="1.11" fill="#1f378c" opacity="0.85" transform="rotate(144.95 107.44 114.01)"/>
<ellipse cx="87.85" cy="66.45" rx="0.96" ry="0.85" fill="#2143b4" opacity="0.9" transform="rotate(22.28 87.85 66.45)"/>
<ellipse cx="34.61" cy="37.65" rx="1.48" ry="1.32" fill="#1f378c" opacity="0.85" transform="rotate(71.51 34.61 37.65)"/>
<ellipse cx="103.69" cy="117.45" rx="1.31" ry="0.9" fill="#1f378c" opacity="0.85" transform="rotate(158.43 103.69 117.45)"/>
<ellipse cx="51.97" cy="8.4" rx="1.1" ry="0.94" fill="#1f378c" opacity="0.85" transform="rotate(35.36 51.97 8.4)"/>
<ellipse cx="43.33" cy="77.78" rx="1.48" ry="1.03" fill="#2450dc" transform="rotate(54.17 43.33 77.78)"/>
<ellipse cx="78.38" cy="31.94" rx="0.96" ry="0.91" fill="#2143b4" opacity="0.9" transform="rotate(79.26 78.38 31.94)"/>
<ellipse cx="62.17" cy="4.4" rx="1.08" ry="0.76" fill="#1f378c" opacity="0.85" transform="rotate(144.58 62.17 4.4)"/>
<ellipse cx="32.93" cy="88.93" rx="1.24" ry="1" fill="#2450dc" transform="rotate(33.54 32.93 88.93)"/>
<ellipse cx="58.49" cy="20.41" rx="1.32" ry="0.97" fill="#2143b4" opacity="0.9" transform="rotate(118.49 58.49 20.41)"/>
<ellipse cx="60.49" cy="59.17" rx="1.34" ry="1.06" fill="#1f378c" opacity="0.85" transform="rotate(171.28 60.49 59.17)"/>
<ellipse cx="91.78" cy="18.66" rx="1.05" ry="0.81" fill="#2143b4" opacity="0.9" transform="rotate(139.15 91.78 18.66)"/>
<ellipse cx="93.14" cy="27.08" rx="1.04" ry="0.85" fill="#1f378c" opacity="0.85" transform="rotate(89.81 93.14 27.08)"/>
<ellipse cx="70.02" cy="84.05" rx="1.47" ry="1" fill="#1f378c" opacity="0.85" transform="rotate(27.33 70.02 84.05)"/>
<ellipse cx="58.04" cy="50.72" rx="1.23" ry="1.09" fill="#2450dc" transform="rotate(13.06 58.04 50.72)"/>
<ellipse cx="27.32" cy="16.4" rx="0.93" ry="0.67" fill="#2143b4" opacity="0.9" transform="rotate(111.82 27.32 16.4)"/>
<ellipse cx="30.5" cy="69.05" rx="1.43" ry="0.97" fill="#1f378c" opacity="0.85" transform="rotate(45.87 30.5 69.05)"/>
<ellipse cx="81.19" cy="97.88" rx="0.94" ry="0.71" fill="#1f378c" opacity="0.85" transform="rotate(65.6 81.19 97.88)"/>
<ellipse cx="89.59" cy="116.36" rx="1.2" ry="1.04" fill="#1f378c" opacity="0.85" transform="rotate(7.06 89.59 116.36)"/>
<circle cx="34.47" cy="49.51" r="0.92" fill="#2143b4" opacity="0.9"/>
<ellipse cx="27.76" cy="53.93" rx="1.14" ry="0.83" fill="#2143b4" opacity="0.9" transform="rotate(176.62 27.76 53.93)"/>
<ellipse cx="3.72" cy="46.96" rx="0.94" ry="0.69" fill="#2143b4" opacity="0.9" transform="rotate(125.04 3.72 46.96)"/>
<ellipse cx="69.29" cy="104.48" rx="1.16" ry="1.04" fill="#2143b4" opacity="0.9" transform="rotate(68.6 69.29 104.48)"/>
<ellipse cx="24.52" cy="54.66" rx="1.19" ry="1.13" fill="#2143b4" opacity="0.9" transform="rotate(122.26 24.52 54.66)"/>
<ellipse cx="23.35" cy="44.57" rx="1.35" ry="1" fill="#1f378c" opacity="0.85" transform="rotate(49.41 23.35 44.57)"/>
<ellipse cx="41.97" cy="17.27" rx="1.3" ry="1.14" fill="#2450dc" transform="rotate(130.22 41.97 17.27)"/>
<ellipse cx="1.43" cy="37.33" rx="0.95" ry="0.87" fill="#2143b4" opacity="0.9" transform="rotate(58.54 1.43 37.33)"/>
<ellipse cx="27.36" cy="3.86" rx="1.29" ry="0.81" fill="#1f378c" opacity="0.85" transform="rotate(56.21 27.36 3.86)"/>
<ellipse cx="63.73" cy="15.18" rx="1.07" ry="0.92" fill="#1f378c" opacity="0.85" transform="rotate(119.91 63.73 15.18)"/>
<ellipse cx="47.23" cy="44.99" rx="1.05" ry="0.75" fill="#1f378c" opacity="0.85" transform="rotate(62.09 47.23 44.99)"/>
<ellipse cx="66.35" cy="95.24" rx="1.09" ry="0.92" fill="#1f378c" opacity="0.85" transform="rotate(165.43 66.35 95.24)"/>
<ellipse cx="81.02" cy="78.32" rx="1.46" ry="1.02" fill="#1f378c" opacity="0.85" transform="rotate(113.85 81.02 78.32)"/>
<ellipse cx="44.62" cy="38.05" rx="1.08" ry="0.73" fill="#2143b4" opacity="0.9" transform="rotate(72.44 44.62 38.05)"/>
<ellipse cx="18.84" cy="78.16" rx="0.96" ry="0.7" fill="#1f378c" opacity="0.85" transform="rotate(76.01 18.84 78.16)"/>
<ellipse cx="42.35" cy="6.49" rx="0.94" ry="0.73" fill="#2143b4" opacity="0.9" transform="rotate(105.46 42.35 6.49)"/>
<ellipse cx="37.74" cy="29.15" rx="1.13" ry="1.03" fill="#1f378c" opacity="0.85" transform="rotate(101.83 37.74 29.15)"/>
<ellipse cx="78.5" cy="21.13" rx="1.3" ry="1.22" fill="#2143b4" opacity="0.9" transform="rotate(65.27 78.5 21.13)"/>
<ellipse cx="72.88" cy="47.9" rx="1.08" ry="0.96" fill="#1f378c" opacity="0.85" transform="rotate(158.35 72.88 47.9)"/>
<ellipse cx="59.34" cy="35.72" rx="1.54" ry="1.03" fill="#1f378c" opacity="0.85" transform="rotate(34.64 59.34 35.72)"/>
<ellipse cx="79.94" cy="26.91" rx="1.25" ry="0.94" fill="#2143b4" opacity="0.9" transform="rotate(43.08 79.94 26.91)"/>
<ellipse cx="38.69" cy="40.25" rx="1.1" ry="0.95" fill="#2143b4" opacity="0.9" transform="rotate(125.17 38.69 40.25)"/>
<ellipse cx="113.71" cy="97.1" rx="1.3" ry="1.02" fill="#1f378c" opacity="0.85" transform="rotate(101.49 113.71 97.1)"/>
<ellipse cx="6.53" cy="7.17" rx="1.36" ry="0.89" fill="#2143b4" opacity="0.9" transform="rotate(81.28 6.53 7.17)"/>
<ellipse cx="56.2" cy="18.35" rx="1.47" ry="0.93" fill="#2143b4" opacity="0.9" transform="rotate(45.7 56.2 18.35)"/>
<ellipse cx="38.73" cy="89.35" rx="1.44" ry="1.16" fill="#2143b4" opacity="0.9" transform="rotate(75.71 38.73 89.35)"/>
<ellipse cx="73.14" cy="97.89" rx="0.98" ry="0.73" fill="#1f378c" opacity="0.85" transform="rotate(120.48 73.14 97.89)"/>
<ellipse cx="110.98" cy="114.48" rx="1.35" ry="1.02" fill="#1f378c" opacity="0.85" transform="rotate(113.66 110.98 114.48)"/>
<ellipse cx="83.88" cy="13.09" rx="1.09" ry="0.94" fill="#1f378c" opacity="0.85" transform="rotate(178.85 83.88 13.09)"/>
<ellipse cx="56.48" cy="43.44" rx="1.42" ry="1.27" fill="#1f378c" opacity="0.85" transform="rotate(51.07 56.48 43.44)"/>
<ellipse cx="72.51" cy="90.08" rx="1.15" ry="0.98" fill="#2143b4" opacity="0.9" transform="rotate(98.27 72.51 90.08)"/>
<ellipse cx="16.48" cy="19.83" rx="1.51" ry="1.06" fill="#1f378c" opacity="0.85" transform="rotate(87.89 16.48 19.83)"/>
<ellipse cx="16.09" cy="73.41" rx="1.05" ry="0.82" fill="#1f378c" opacity="0.85" transform="rotate(65.85 16.09 73.41)"/>
<ellipse cx="35.81" cy="8.33" rx="1.21" ry="1.15" fill="#2143b4" opacity="0.9" transform="rotate(36.4 35.81 8.33)"/>
<ellipse cx="110.73" cy="101.89" rx="1.19" ry="1.06" fill="#1f378c" opacity="0.85" transform="rotate(130.49 110.73 101.89)"/>
<ellipse cx="7.88" cy="41.71" rx="1.1" ry="0.87" fill="#1f378c" opacity="0.85" transform="rotate(1.89 7.88 41.71)"/>
<ellipse cx="95.4" cy="93.28" rx="1.16" ry="1.03" fill="#2143b4" opacity="0.9" transform="rotate(148.98 95.4 93.28)"/>
<ellipse cx="77.18" cy="95.48" rx="1.51" ry="1.11" fill="#2450dc" transform="rotate(50.26 77.18 95.48)"/>
<ellipse cx="87.25" cy="24.15" rx="1.26" ry="1.06" fill="#1f378c" opacity="0.85" transform="rotate(31.91 87.25 24.15)"/>
<ellipse cx="0.12" cy="58.81" rx="1.11" ry="0.88" fill="#1f378c" opacity="0.85" transform="rotate(171.41 0.12 58.81)"/>
<ellipse cx="11.89" cy="116.51" rx="1.53" ry="1.06" fill="#2143b4" opacity="0.9" transform="rotate(73.48 11.89 116.51)"/>
<ellipse cx="41.51" cy="116.75" rx="1.31" ry="0.98" fill="#1f378c" opacity="0.85" transform="rotate(115.9 41.51 116.75)"/>
<ellipse cx="72.34" cy="104.63" rx="1.31" ry="1.03" fill="#1f378c" opacity="0.85" transform="rotate(102.19 72.34 104.63)"/>
<ellipse cx="98.66" cy="81.09" rx="1.33" ry="1.01" fill="#1f378c" opacity="0.85" transform="rotate(69.24 98.66 81.09)"/>
<ellipse cx="70.48" cy="67.16" rx="0.92" ry="0.76" fill="#2143b4" opacity="0.9" transform="rotate(80.43 70.48 67.16)"/>
<ellipse cx="69.75" cy="109.86" rx="1.2" ry="1.14" fill="#1f378c" opacity="0.85" transform="rotate(132.84 69.75 109.86)"/>
<ellipse cx="57.44" cy="26.86" rx="1.32" ry="1.23" fill="#2143b4" opacity="0.9" transform="rotate(149.27 57.44 26.86)"/>
<ellipse cx="95.05" cy="53.03" rx="1.46" ry="1" fill="#2143b4" opacity="0.9" transform="rotate(50.33 95.05 53.03)"/>
<ellipse cx="100.75" cy="90.73" rx="1.49" ry="1.31" fill="#1f378c" opacity="0.85" transform="rotate(27.32 100.75 90.73)"/>
<ellipse cx="10.94" cy="3.38" rx="1.46" ry="1.31" fill="#1f378c" opacity="0.85" transform="rotate(21.13 10.94 3.38)"/>
<ellipse cx="23.6" cy="73.88" rx="1.37" ry="0.94" fill="#1f378c" opacity="0.85" transform="rotate(120.31 23.6 73.88)"/>
<ellipse cx="73.94" cy="32.15" rx="1.35" ry="0.92" fill="#2143b4" opacity="0.9" transform="rotate(23.05 73.94 32.15)"/>
<ellipse cx="22.34" cy="117.39" rx="1.38" ry="1.02" fill="#1f378c" opacity="0.85" transform="rotate(55.85 22.34 117.39)"/>
<ellipse cx="32.9" cy="102.84" rx="1.67" ry="1.41" fill="#2450dc" transform="rotate(81.89 32.9 102.84)"/>
<ellipse cx="45.13" cy="87.45" rx="1.19" ry="0.76" fill="#1f378c" opacity="0.85" transform="rotate(75.44 45.13 87.45)"/>
<ellipse cx="51.47" cy="112.59" rx="1.35" ry="1.14" fill="#1f378c" opacity="0.85" transform="rotate(44.05 51.47 112.59)"/>
<ellipse cx="49.06" cy="39.65" rx="1.45" ry="1.18" fill="#1f378c" opacity="0.85" transform="rotate(98.27 49.06 39.65)"/>
<ellipse cx="39.92" cy="105.85" rx="0.92" ry="0.76" fill="#1f378c" opacity="0.85" transform="rotate(84.45 39.92 105.85)"/>
<ellipse cx="54.32" cy="36.61" rx="3.36" ry="3.16" fill="#22388a" opacity="0.7" transform="rotate(175.76 54.32 36.61)"/>
<ellipse cx="54.01" cy="46.75" rx="1.04" ry="0.99" fill="#1f378c" opacity="0.85" transform="rotate(37.7 54.01 46.75)"/>
<ellipse cx="8.94" cy="18.86" rx="1.3" ry="1.13" fill="#2143b4" opacity="0.9" transform="rotate(45.61 8.94 18.86)"/>
<ellipse cx="85.97" cy="91.34" rx="1.39" ry="0.87" fill="#2450dc" transform="rotate(154.74 85.97 91.34)"/>
<ellipse cx="62.77" cy="62.51" rx="1.41" ry="1.02" fill="#1f378c" opacity="0.85" transform="rotate(91.32 62.77 62.51)"/>
<ellipse cx="28.37" cy="48.26" rx="1.04" ry="0.8" fill="#2143b4" opacity="0.9" transform="rotate(100.46 28.37 48.26)"/>
<ellipse cx="17.43" cy="114.47" rx="1.34" ry="1.1" fill="#2450dc" transform="rotate(155.49 17.43 114.47)"/>
<ellipse cx="48.19" cy="0.27" rx="1.43" ry="1.23" fill="#1f378c" opacity="0.85" transform="rotate(128.27 48.19 0.27)"/>
<ellipse cx="34.79" cy="113.98" rx="1.45" ry="0.92" fill="#1f378c" opacity="0.85" transform="rotate(74.9 34.79 113.98)"/>
<ellipse cx="104.52" cy="111.63" rx="1.23" ry="1.13" fill="#1f378c" opacity="0.85" transform="rotate(71 104.52 111.63)"/>
<ellipse cx="50.08" cy="55.75" rx="1.18" ry="0.91" fill="#2143b4" opacity="0.9" transform="rotate(8.92 50.08 55.75)"/>
<ellipse cx="46.57" cy="25.5" rx="1.14" ry="0.83" fill="#1f378c" opacity="0.85" transform="rotate(87.12 46.57 25.5)"/>
<ellipse cx="88.19" cy="57" rx="1.16" ry="1.09" fill="#2143b4" opacity="0.9" transform="rotate(1.27 88.19 57)"/>
<ellipse cx="42.9" cy="34.84" rx="1.28" ry="0.93" fill="#2143b4" opacity="0.9" transform="rotate(89.57 42.9 34.84)"/>
<ellipse cx="88.7" cy="5.31" rx="1.06" ry="0.75" fill="#1f378c" opacity="0.85" transform="rotate(143.22 88.7 5.31)"/>
<ellipse cx="79.91" cy="9.17" rx="1.44" ry="1.05" fill="#2143b4" opacity="0.9" transform="rotate(57.13 79.91 9.17)"/>
<ellipse cx="92.81" cy="75.43" rx="1.4" ry="0.89" fill="#2143b4" opacity="0.9" transform="rotate(112.45 92.81 75.43)"/>
<ellipse cx="109.35" cy="75" rx="1.51" ry="1.31" fill="#1f378c" opacity="0.85" transform="rotate(104.37 109.35 75)"/>
<ellipse cx="86.69" cy="48.78" rx="1.54" ry="1.42" fill="#2143b4" opacity="0.9" transform="rotate(13.49 86.69 48.78)"/>
<ellipse cx="51.42" cy="88.44" rx="1.19" ry="0.91" fill="#1f378c" opacity="0.85" transform="rotate(21.24 51.42 88.44)"/>
<ellipse cx="86.43" cy="7.5" rx="1.44" ry="1.21" fill="#1f378c" opacity="0.85" transform="rotate(98.66 86.43 7.5)"/>
<ellipse cx="48.36" cy="62.82" rx="0.98" ry="0.89" fill="#1f378c" opacity="0.85" transform="rotate(85.03 48.36 62.82)"/>
<ellipse cx="45.17" cy="91.65" rx="1.38" ry="0.93" fill="#1f378c" opacity="0.85" transform="rotate(105.45 45.17 91.65)"/>
<ellipse cx="69.38" cy="60.88" rx="1.27" ry="1.14" fill="#2143b4" opacity="0.9" transform="rotate(64.49 69.38 60.88)"/>
<ellipse cx="6.64" cy="97.16" rx="1.37" ry="1.04" fill="#2143b4" opacity="0.9" transform="rotate(111.17 6.64 97.16)"/>
<ellipse cx="115.11" cy="107.25" rx="1.22" ry="0.85" fill="#1f378c" opacity="0.85" transform="rotate(135.56 115.11 107.25)"/>
<ellipse cx="35.48" cy="99.84" rx="1.35" ry="1.09" fill="#1f378c" opacity="0.85" transform="rotate(99.27 35.48 99.84)"/>
<ellipse cx="94.88" cy="10.62" rx="1.04" ry="0.71" fill="#2143b4" opacity="0.9" transform="rotate(96.29 94.88 10.62)"/>
<ellipse cx="13.38" cy="90.02" rx="1.48" ry="1.37" fill="#1f378c" opacity="0.85" transform="rotate(124.07 13.38 90.02)"/>
<ellipse cx="14.66" cy="56.7" rx="1.09" ry="0.77" fill="#2143b4" opacity="0.9" transform="rotate(91.66 14.66 56.7)"/>
<ellipse cx="18.05" cy="101.29" rx="1.3" ry="1.04" fill="#2143b4" opacity="0.9" transform="rotate(132.11 18.05 101.29)"/>
<ellipse cx="77.53" cy="108.39" rx="1.07" ry="0.68" fill="#1f378c" opacity="0.85" transform="rotate(168.6 77.53 108.39)"/>
<ellipse cx="26.63" cy="112.03" rx="1.74" ry="1.45" fill="#2450dc" transform="rotate(12.92 26.63 112.03)"/>
<ellipse cx="2.53" cy="66.94" rx="1.35" ry="1.21" fill="#2143b4" opacity="0.9" transform="rotate(141.27 2.53 66.94)"/>
<ellipse cx="61.68" cy="41.15" rx="1.03" ry="0.88" fill="#2143b4" opacity="0.9" transform="rotate(75.11 61.68 41.15)"/>
<ellipse cx="8.36" cy="56.95" rx="1.53" ry="1.23" fill="#1f378c" opacity="0.85" transform="rotate(24.28 8.36 56.95)"/>
<ellipse cx="38.94" cy="82.55" rx="1.53" ry="1.43" fill="#2143b4" opacity="0.9" transform="rotate(166.56 38.94 82.55)"/>
<ellipse cx="69.29" cy="80.6" rx="1.3" ry="1.21" fill="#2143b4" opacity="0.9" transform="rotate(15.55 69.29 80.6)"/>
<ellipse cx="95.13" cy="-0.92" rx="1.42" ry="1.33" fill="#1f378c" opacity="0.85" transform="rotate(150.01 95.13 -0.92)"/>
<ellipse cx="90.65" cy="30.21" rx="1.24" ry="0.91" fill="#2143b4" opacity="0.9" transform="rotate(121.48 90.65 30.21)"/>
<ellipse cx="26.89" cy="103.94" rx="1" ry="0.7" fill="#2143b4" opacity="0.9" transform="rotate(86.22 26.89 103.94)"/>
<ellipse cx="79.22" cy="93.05" rx="0.95" ry="0.83" fill="#1f378c" opacity="0.85" transform="rotate(44 79.22 93.05)"/>
<ellipse cx="48.31" cy="116.79" rx="1.13" ry="1.04" fill="#1f378c" opacity="0.85" transform="rotate(178.28 48.31 116.79)"/>
<ellipse cx="39.24" cy="93.06" rx="1.09" ry="0.89" fill="#2143b4" opacity="0.9" transform="rotate(133.47 39.24 93.06)"/>
<ellipse cx="113.3" cy="109.85" rx="1.73" ry="1.15" fill="#2450dc" transform="rotate(128.61 113.3 109.85)"/>
<ellipse cx="21.93" cy="15.15" rx="1.47" ry="1.27" fill="#2143b4" opacity="0.9" transform="rotate(170.87 21.93 15.15)"/>
<ellipse cx="63.3" cy="66.56" rx="1.24" ry="1.16" fill="#1f378c" opacity="0.85" transform="rotate(14.67 63.3 66.56)"/>
<ellipse cx="8.13" cy="35.82" rx="1.5" ry="1.18" fill="#1f378c" opacity="0.85" transform="rotate(28.86 8.13 35.82)"/>
<ellipse cx="66.64" cy="34.04" rx="1.53" ry="1.18" fill="#2143b4" opacity="0.9" transform="rotate(108.56 66.64 34.04)"/>
<ellipse cx="54.34" cy="21.7" rx="1.54" ry="0.96" fill="#1f378c" opacity="0.85" transform="rotate(137.29 54.34 21.7)"/>
<ellipse cx="25.15" cy="94.1" rx="1.32" ry="1.02" fill="#1f378c" opacity="0.85" transform="rotate(32.86 25.15 94.1)"/>
<ellipse cx="35.21" cy="3.94" rx="1.3" ry="0.97" fill="#2143b4" opacity="0.9" transform="rotate(85.13 35.21 3.94)"/>
<ellipse cx="68.14" cy="48.62" rx="1.2" ry="0.88" fill="#1f378c" opacity="0.85" transform="rotate(164.47 68.14 48.62)"/>
<ellipse cx="80.79" cy="40.31" rx="1.22" ry="1.13" fill="#1f378c" opacity="0.85" transform="rotate(92.56 80.79 40.31)"/>
<ellipse cx="67.33" cy="74.19" rx="0.96" ry="0.75" fill="#2143b4" opacity="0.9" transform="rotate(86.72 67.33 74.19)"/>
<ellipse cx="9.07" cy="94.19" rx="1.65" ry="1.46" fill="#2450dc" transform="rotate(45.84 9.07 94.19)"/>
<ellipse cx="39.76" cy="22.38" rx="1.66" ry="1.47" fill="#2450dc" transform="rotate(176.16 39.76 22.38)"/>
<ellipse cx="95.95" cy="35.09" rx="1.5" ry="0.94" fill="#1f378c" opacity="0.85" transform="rotate(92.13 95.95 35.09)"/>
<ellipse cx="93.22" cy="71.65" rx="1.51" ry="1.25" fill="#2143b4" opacity="0.9" transform="rotate(11.61 93.22 71.65)"/>
<ellipse cx="41.05" cy="1.72" rx="1.42" ry="0.99" fill="#2143b4" opacity="0.9" transform="rotate(117.65 41.05 1.72)"/>
<ellipse cx="80.67" cy="111.12" rx="1.73" ry="1.59" fill="#2450dc" transform="rotate(52.3 80.67 111.12)"/>
<ellipse cx="72.71" cy="113.54" rx="1.12" ry="0.8" fill="#2143b4" opacity="0.9" transform="rotate(94.06 72.71 113.54)"/>
<ellipse cx="3.21" cy="101.64" rx="1.21" ry="1.05" fill="#1f378c" opacity="0.85" transform="rotate(44.96 3.21 101.64)"/>
<ellipse cx="68.11" cy="27.72" rx="0.95" ry="0.6" fill="#2143b4" opacity="0.9" transform="rotate(63.96 68.11 27.72)"/>
<ellipse cx="80.59" cy="89.73" rx="1.32" ry="1.22" fill="#1f378c" opacity="0.85" transform="rotate(162.46 80.59 89.73)"/>
<ellipse cx="63.4" cy="117.68" rx="1.02" ry="0.89" fill="#1f378c" opacity="0.85" transform="rotate(10.25 63.4 117.68)"/>
<ellipse cx="85.49" cy="37" rx="1.32" ry="1.13" fill="#1f378c" opacity="0.85" transform="rotate(82.19 85.49 37)"/>
<ellipse cx="11.68" cy="55.51" rx="1.48" ry="0.94" fill="#1f378c" opacity="0.85" transform="rotate(12.79 11.68 55.51)"/>
<ellipse cx="81.64" cy="51.07" rx="1.18" ry="0.95" fill="#1f378c" opacity="0.85" transform="rotate(133.96 81.64 51.07)"/>
<ellipse cx="76.31" cy="80.08" rx="0.93" ry="0.79" fill="#1f378c" opacity="0.85" transform="rotate(23.14 76.31 80.08)"/>
<ellipse cx="68.95" cy="36.56" rx="0.98" ry="0.7" fill="#2143b4" opacity="0.9" transform="rotate(39.77 68.95 36.56)"/>
<ellipse cx="59.55" cy="47.84" rx="1.48" ry="1.04" fill="#2143b4" opacity="0.9" transform="rotate(142.43 59.55 47.84)"/>
<ellipse cx="47.93" cy="35.14" rx="1.2" ry="0.93" fill="#2143b4" opacity="0.9" transform="rotate(158.32 47.93 35.14)"/>
<ellipse cx="43.74" cy="105.86" rx="1.41" ry="1.06" fill="#2143b4" opacity="0.9" transform="rotate(120.81 43.74 105.86)"/>
<ellipse cx="34.25" cy="85.16" rx="1.33" ry="1.11" fill="#2143b4" opacity="0.9" transform="rotate(78.32 34.25 85.16)"/>
<ellipse cx="25.89" cy="90.67" rx="1.54" ry="1.13" fill="#1f378c" opacity="0.85" transform="rotate(128.1 25.89 90.67)"/>
<ellipse cx="72.01" cy="25.29" rx="1.55" ry="1.06" fill="#1f378c" opacity="0.85" transform="rotate(164.29 72.01 25.29)"/>
<ellipse cx="45.56" cy="69.25" rx="1.4" ry="1.21" fill="#1f378c" opacity="0.85" transform="rotate(104.2 45.56 69.25)"/>
<ellipse cx="37.65" cy="85.46" rx="1.08" ry="0.87" fill="#2143b4" opacity="0.9" transform="rotate(95.09 37.65 85.46)"/>
<ellipse cx="48.98" cy="16.28" rx="1.2" ry="0.95" fill="#2143b4" opacity="0.9" transform="rotate(178.41 48.98 16.28)"/>
<ellipse cx="1.87" cy="43.57" rx="1.15" ry="0.83" fill="#2450dc" transform="rotate(157.07 1.87 43.57)"/>
<ellipse cx="28.72" cy="20.17" rx="0.96" ry="0.84" fill="#1f378c" opacity="0.85" transform="rotate(133.02 28.72 20.17)"/>
<ellipse cx="57.2" cy="81.75" rx="1.43" ry="1.29" fill="#2143b4" opacity="0.9" transform="rotate(38.03 57.2 81.75)"/>
<ellipse cx="71.51" cy="116.45" rx="1.2" ry="0.99" fill="#2450dc" transform="rotate(27.04 71.51 116.45)"/>
<ellipse cx="39.61" cy="51.37" rx="1.44" ry="1.33" fill="#1f378c" opacity="0.85" transform="rotate(121.86 39.61 51.37)"/>
<ellipse cx="104.04" cy="102.8" rx="1.14" ry="0.79" fill="#1f378c" opacity="0.85" transform="rotate(129.34 104.04 102.8)"/>
<ellipse cx="4.27" cy="41.02" rx="1.29" ry="1.17" fill="#1f378c" opacity="0.85" transform="rotate(11.28 4.27 41.02)"/>
<ellipse cx="1.49" cy="81.94" rx="1.08" ry="0.91" fill="#1f378c" opacity="0.85" transform="rotate(125.19 1.49 81.94)"/>
<ellipse cx="41.35" cy="41.84" rx="1.09" ry="0.77" fill="#1f378c" opacity="0.85" transform="rotate(2.92 41.35 41.84)"/>
<ellipse cx="69.45" cy="30.97" rx="1.45" ry="1.12" fill="#1f378c" opacity="0.85" transform="rotate(92.12 69.45 30.97)"/>
<ellipse cx="104.56" cy="88.73" rx="1.33" ry="1.13" fill="#1f378c" opacity="0.85" transform="rotate(90.09 104.56 88.73)"/>
<ellipse cx="105.22" cy="25.65" rx="1.1" ry="0.69" fill="#2143b4" opacity="0.9" transform="rotate(143.35 105.22 25.65)"/>
<ellipse cx="87.6" cy="53.1" rx="1.45" ry="1.32" fill="#2450dc" transform="rotate(178.45 87.6 53.1)"/>
<ellipse cx="0.59" cy="16.64" rx="1.51" ry="0.99" fill="#2450dc" transform="rotate(101.23 0.59 16.64)"/>
<ellipse cx="3.07" cy="93.95" rx="1.03" ry="0.65" fill="#2143b4" opacity="0.9" transform="rotate(29.43 3.07 93.95)"/>
<ellipse cx="66.02" cy="44.56" rx="1.06" ry="0.91" fill="#2143b4" opacity="0.9" transform="rotate(33.35 66.02 44.56)"/>
<ellipse cx="108.18" cy="79.26" rx="1.02" ry="0.71" fill="#2143b4" opacity="0.9" transform="rotate(52.18 108.18 79.26)"/>
<ellipse cx="57.72" cy="6.01" rx="1.15" ry="0.91" fill="#1f378c" opacity="0.85" transform="rotate(8.77 57.72 6.01)"/>
<ellipse cx="16.65" cy="69.51" rx="1.02" ry="0.8" fill="#2143b4" opacity="0.9" transform="rotate(89.95 16.65 69.51)"/>
<ellipse cx="89.56" cy="84.96" rx="1.44" ry="0.96" fill="#1f378c" opacity="0.85" transform="rotate(29.22 89.56 84.96)"/>
<ellipse cx="12.35" cy="22.87" rx="1.01" ry="0.68" fill="#1f378c" opacity="0.85" transform="rotate(96.4 12.35 22.87)"/>
<ellipse cx="72.19" cy="22.01" rx="0.91" ry="0.83" fill="#1f378c" opacity="0.85" transform="rotate(105.77 72.19 22.01)"/>
<ellipse cx="63.48" cy="110.85" rx="1.15" ry="0.98" fill="#2143b4" opacity="0.9" transform="rotate(66.98 63.48 110.85)"/>
<ellipse cx="77.05" cy="113.28" rx="1.16" ry="0.94" fill="#2143b4" opacity="0.9" transform="rotate(23.69 77.05 113.28)"/>
<ellipse cx="37.42" cy="71.21" rx="1.19" ry="1.08" fill="#1f378c" opacity="0.85" transform="rotate(177.63 37.42 71.21)"/>
<ellipse cx="42.51" cy="81.56" rx="1.45" ry="1" fill="#1f378c" opacity="0.85" transform="rotate(100.21 42.51 81.56)"/>
<ellipse cx="-0.87" cy="-0.88" rx="1.11" ry="0.79" fill="#2143b4" opacity="0.9" transform="rotate(178.45 -0.87 -0.88)"/>
<ellipse cx="56.3" cy="84.99" rx="1.51" ry="1.14" fill="#1f378c" opacity="0.85" transform="rotate(57.19 56.3 84.99)"/>
<ellipse cx="80.58" cy="17.08" rx="1.53" ry="1.05" fill="#1f378c" opacity="0.85" transform="rotate(110.99 80.58 17.08)"/>
<ellipse cx="3.26" cy="53.67" rx="1.34" ry="1.08" fill="#1f378c" opacity="0.85" transform="rotate(154.11 3.26 53.67)"/>
<ellipse cx="12.44" cy="75.35" rx="1.05" ry="0.66" fill="#1f378c" opacity="0.85" transform="rotate(29.09 12.44 75.35)"/>
<ellipse cx="97.08" cy="39.98" rx="1.34" ry="1.15" fill="#2143b4" opacity="0.9" transform="rotate(159.12 97.08 39.98)"/>
<ellipse cx="55.7" cy="30.34" rx="1.23" ry="0.97" fill="#1f378c" opacity="0.85" transform="rotate(10.58 55.7 30.34)"/>
<ellipse cx="93.34" cy="33.52" rx="1.41" ry="1.25" fill="#2450dc" transform="rotate(71.01 93.34 33.52)"/>
<ellipse cx="38.89" cy="16.13" rx="0.97" ry="0.61" fill="#2143b4" opacity="0.9" transform="rotate(117.36 38.89 16.13)"/>
<ellipse cx="4.37" cy="70.8" rx="1.1" ry="1.01" fill="#2143b4" opacity="0.9" transform="rotate(37.52 4.37 70.8)"/>
<ellipse cx="7.75" cy="108.91" rx="1.5" ry="1.09" fill="#2450dc" transform="rotate(130.31 7.75 108.91)"/>
<ellipse cx="93.59" cy="3.85" rx="0.99" ry="0.79" fill="#2143b4" opacity="0.9" transform="rotate(171.01 93.59 3.85)"/>
<ellipse cx="70.15" cy="71.98" rx="1.3" ry="1.18" fill="#1f378c" opacity="0.85" transform="rotate(174.54 70.15 71.98)"/>
<ellipse cx="40.89" cy="99.77" rx="1.34" ry="1.2" fill="#2143b4" opacity="0.9" transform="rotate(69.49 40.89 99.77)"/>
<ellipse cx="28.9" cy="36.53" rx="1.42" ry="1.31" fill="#1f378c" opacity="0.85" transform="rotate(54.49 28.9 36.53)"/>
<ellipse cx="85.76" cy="2.59" rx="1.42" ry="1.03" fill="#1f378c" opacity="0.85" transform="rotate(34.47 85.76 2.59)"/>
<ellipse cx="65.31" cy="10.58" rx="1.17" ry="0.78" fill="#2143b4" opacity="0.9" transform="rotate(178.55 65.31 10.58)"/>
<ellipse cx="90.48" cy="69.31" rx="1.17" ry="0.93" fill="#2143b4" opacity="0.9" transform="rotate(36.59 90.48 69.31)"/>
<ellipse cx="29.61" cy="79.39" rx="0.99" ry="0.68" fill="#2143b4" opacity="0.9" transform="rotate(95.92 29.61 79.39)"/>
<ellipse cx="-0.65" cy="116.47" rx="2.98" ry="2.01" fill="#22388a" opacity="0.7" transform="rotate(148.66 -0.65 116.47)"/>
<ellipse cx="40.95" cy="27.7" rx="1.37" ry="1.2" fill="#2143b4" opacity="0.9" transform="rotate(78.67 40.95 27.7)"/>
<ellipse cx="80.55" cy="83.64" rx="1.27" ry="0.85" fill="#1f378c" opacity="0.85" transform="rotate(8.14 80.55 83.64)"/>
<ellipse cx="26.47" cy="85.15" rx="0.95" ry="0.65" fill="#2143b4" opacity="0.9" transform="rotate(56.77 26.47 85.15)"/>
<ellipse cx="19.37" cy="116.98" rx="1.42" ry="0.94" fill="#1f378c" opacity="0.85" transform="rotate(54.48 19.37 116.98)"/>
<ellipse cx="5.03" cy="32.99" rx="1.17" ry="1.09" fill="#2143b4" opacity="0.9" transform="rotate(107.12 5.03 32.99)"/>
<ellipse cx="46.59" cy="66.24" rx="0.91" ry="0.77" fill="#2143b4" opacity="0.9" transform="rotate(60.43 46.59 66.24)"/>
<ellipse cx="43.95" cy="31.13" rx="1.09" ry="0.78" fill="#1f378c" opacity="0.85" transform="rotate(20.69 43.95 31.13)"/>
<ellipse cx="65.22" cy="57.7" rx="1.39" ry="1.09" fill="#2143b4" opacity="0.9" transform="rotate(142.62 65.22 57.7)"/>
<ellipse cx="53.93" cy="62.47" rx="1.24" ry="1.11" fill="#1f378c" opacity="0.85" transform="rotate(154.46 53.93 62.47)"/>
<ellipse cx="88.49" cy="72.33" rx="1.49" ry="0.95" fill="#1f378c" opacity="0.85" transform="rotate(85.51 88.49 72.33)"/>
<ellipse cx="-0.16" cy="25.73" rx="1.47" ry="1.29" fill="#1f378c" opacity="0.85" transform="rotate(49.52 -0.16 25.73)"/>
<ellipse cx="83.41" cy="86.04" rx="1.51" ry="1.2" fill="#2143b4" opacity="0.9" transform="rotate(6.03 83.41 86.04)"/>
<ellipse cx="50.79" cy="69.93" rx="1.51" ry="1.38" fill="#1f378c" opacity="0.85" transform="rotate(149.21 50.79 69.93)"/>
<ellipse cx="71.15" cy="40.6" rx="1.1" ry="0.69" fill="#1f378c" opacity="0.85" transform="rotate(16.34 71.15 40.6)"/>
<ellipse cx="85.97" cy="99.05" rx="1.21" ry="0.85" fill="#2450dc" transform="rotate(141.58 85.97 99.05)"/>
<ellipse cx="31.28" cy="61.49" rx="1.28" ry="1.06" fill="#2450dc" transform="rotate(26.41 31.28 61.49)"/>
<ellipse cx="99.98" cy="96.72" rx="0.95" ry="0.82" fill="#2143b4" opacity="0.9" transform="rotate(150.44 99.98 96.72)"/>
<ellipse cx="57.06" cy="105.35" rx="1.19" ry="1" fill="#2143b4" opacity="0.9" transform="rotate(119.72 57.06 105.35)"/>
<ellipse cx="79.99" cy="64.23" rx="0.9" ry="0.68" fill="#1f378c" opacity="0.85" transform="rotate(44.08 79.99 64.23)"/>
<ellipse cx="7.49" cy="78.02" rx="1.34" ry="1.24" fill="#2143b4" opacity="0.9" transform="rotate(120.22 7.49 78.02)"/>
<ellipse cx="116.82" cy="53.69" rx="1.3" ry="1.08" fill="#2143b4" opacity="0.9" transform="rotate(155.35 116.82 53.69)"/>
<ellipse cx="54.01" cy="105.77" rx="2.36" ry="1.72" fill="#22388a" opacity="0.7" transform="rotate(63.23 54.01 105.77)"/>
<ellipse cx="33.69" cy="57.12" rx="1.07" ry="0.85" fill="#1f378c" opacity="0.85" transform="rotate(11.77 33.69 57.12)"/>
<ellipse cx="32.86" cy="96.04" rx="1.36" ry="1.11" fill="#2143b4" opacity="0.9" transform="rotate(155.97 32.86 96.04)"/>
<ellipse cx="5.58" cy="14.52" rx="1.45" ry="1.37" fill="#1f378c" opacity="0.85" transform="rotate(139.54 5.58 14.52)"/>
<ellipse cx="37.06" cy="78.09" rx="1.54" ry="1.41" fill="#1f378c" opacity="0.85" transform="rotate(165.86 37.06 78.09)"/>
<ellipse cx="-0.86" cy="93.39" rx="1.48" ry="1.31" fill="#1f378c" opacity="0.85" transform="rotate(89.33 -0.86 93.39)"/>
<ellipse cx="90.77" cy="42.65" rx="2.34" ry="2.2" fill="#22388a" opacity="0.7" transform="rotate(135.29 90.77 42.65)"/>
<ellipse cx="62.36" cy="11.24" rx="1.3" ry="1.18" fill="#2143b4" opacity="0.9" transform="rotate(9.06 62.36 11.24)"/>
<ellipse cx="26.66" cy="80.77" rx="1.58" ry="1.11" fill="#2450dc" transform="rotate(28.09 26.66 80.77)"/>
<ellipse cx="107.97" cy="108.89" rx="0.93" ry="0.69" fill="#1f378c" opacity="0.85" transform="rotate(163.8 107.97 108.89)"/>
<ellipse cx="5.68" cy="51.54" rx="1.07" ry="0.95" fill="#1f378c" opacity="0.85" transform="rotate(43.93 5.68 51.54)"/>
<ellipse cx="9.66" cy="81.57" rx="0.93" ry="0.62" fill="#2143b4" opacity="0.9" transform="rotate(168.33 9.66 81.57)"/>
<ellipse cx="23.82" cy="-0.5" rx="0.95" ry="0.84" fill="#2143b4" opacity="0.9" transform="rotate(109.1 23.82 -0.5)"/>
<ellipse cx="94.31" cy="97.38" rx="1.1" ry="0.73" fill="#1f378c" opacity="0.85" transform="rotate(88.41 94.31 97.38)"/>
<ellipse cx="102.25" cy="80.12" rx="1.22" ry="1.12" fill="#2143b4" opacity="0.9" transform="rotate(150.28 102.25 80.12)"/>
<ellipse cx="5.7" cy="89.96" rx="1.54" ry="1.1" fill="#2143b4" opacity="0.9" transform="rotate(77.6 5.7 89.96)"/>
<ellipse cx="59.19" cy="16.35" rx="0.94" ry="0.73" fill="#1f378c" opacity="0.85" transform="rotate(14.42 59.19 16.35)"/>
<ellipse cx="96.32" cy="86.99" rx="1.2" ry="0.92" fill="#2143b4" opacity="0.9" transform="rotate(9.9 96.32 86.99)"/>
<ellipse cx="8.44" cy="49.57" rx="1.44" ry="1.18" fill="#2143b4" opacity="0.9" transform="rotate(156.04 8.44 49.57)"/>
<ellipse cx="99.46" cy="111.27" rx="1.07" ry="0.68" fill="#1f378c" opacity="0.85" transform="rotate(100.59 99.46 111.27)"/>
<ellipse cx="102.67" cy="17.3" rx="1.47" ry="1.03" fill="#2450dc" transform="rotate(110.62 102.67 17.3)"/>
<ellipse cx="87.91" cy="32.32" rx="1.09" ry="0.95" fill="#2143b4" opacity="0.9" transform="rotate(46.47 87.91 32.32)"/>
<ellipse cx="75.98" cy="35.95" rx="0.93" ry="0.76" fill="#1f378c" opacity="0.85" transform="rotate(43.54 75.98 35.95)"/>
<ellipse cx="60.69" cy="53.03" rx="1.41" ry="0.92" fill="#1f378c" opacity="0.85" transform="rotate(41.03 60.69 53.03)"/>
<ellipse cx="23.17" cy="22.01" rx="1.24" ry="0.84" fill="#2143b4" opacity="0.9" transform="rotate(115.67 23.17 22.01)"/>
<ellipse cx="92.15" cy="50.91" rx="1.29" ry="1.07" fill="#2143b4" opacity="0.9" transform="rotate(98.71 92.15 50.91)"/>
<ellipse cx="51.49" cy="102.5" rx="1.25" ry="0.97" fill="#2143b4" opacity="0.9" transform="rotate(99.51 51.49 102.5)"/>
<ellipse cx="57.02" cy="33.27" rx="1.05" ry="0.8" fill="#2143b4" opacity="0.9" transform="rotate(75.95 57.02 33.27)"/>
<ellipse cx="31.17" cy="72.78" rx="3.68" ry="3.26" fill="#22388a" opacity="0.7" transform="rotate(42.69 31.17 72.78)"/>
<ellipse cx="64.02" cy="38.86" rx="1.36" ry="1.04" fill="#1f378c" opacity="0.85" transform="rotate(123.08 64.02 38.86)"/>
<ellipse cx="112.05" cy="87.4" rx="1.54" ry="0.96" fill="#2143b4" opacity="0.9" transform="rotate(9.49 112.05 87.4)"/>
<ellipse cx="31.79" cy="2.5" rx="1.22" ry="1.1" fill="#1f378c" opacity="0.85" transform="rotate(3.57 31.79 2.5)"/>
<ellipse cx="0.51" cy="5.37" rx="1.22" ry="1.15" fill="#2143b4" opacity="0.9" transform="rotate(116.67 0.51 5.37)"/>
<ellipse cx="12.08" cy="108.98" rx="1.03" ry="0.81" fill="#1f378c" opacity="0.85" transform="rotate(144.94 12.08 108.98)"/>
<ellipse cx="63.56" cy="22.32" rx="1.4" ry="1.07" fill="#2143b4" opacity="0.9" transform="rotate(26.5 63.56 22.32)"/>
<ellipse cx="11.34" cy="14.27" rx="1.17" ry="0.94" fill="#2450dc" transform="rotate(51.11 11.34 14.27)"/>
<ellipse cx="46.52" cy="13.79" rx="1.5" ry="1.27" fill="#2143b4" opacity="0.9" transform="rotate(57.05 46.52 13.79)"/>
<ellipse cx="47" cy="28.49" rx="1.18" ry="1" fill="#2143b4" opacity="0.9" transform="rotate(76.53 47 28.49)"/>
<ellipse cx="73.92" cy="13.07" rx="1.13" ry="0.71" fill="#2450dc" transform="rotate(163.33 73.92 13.07)"/>
<ellipse cx="77.88" cy="4.41" rx="0.94" ry="0.66" fill="#2143b4" opacity="0.9" transform="rotate(140.17 77.88 4.41)"/>
<ellipse cx="69.92" cy="53.77" rx="1.27" ry="1.06" fill="#2143b4" opacity="0.9" transform="rotate(73.98 69.92 53.77)"/>
<ellipse cx="62.25" cy="103.77" rx="1.44" ry="1.26" fill="#2143b4" opacity="0.9" transform="rotate(124.2 62.25 103.77)"/>
<ellipse cx="35.13" cy="81.92" rx="1.11" ry="0.8" fill="#1f378c" opacity="0.85" transform="rotate(80.6 35.13 81.92)"/>
<ellipse cx="52.39" cy="52.15" rx="1.1" ry="0.99" fill="#2143b4" opacity="0.9" transform="rotate(75.21 52.39 52.15)"/>
<ellipse cx="10.24" cy="44.09" rx="1.43" ry="1.02" fill="#1f378c" opacity="0.85" transform="rotate(119.96 10.24 44.09)"/>
<ellipse cx="40.88" cy="68.1" rx="1.06" ry="0.7" fill="#2143b4" opacity="0.9" transform="rotate(4.88 40.88 68.1)"/>
<ellipse cx="62.67" cy="78.73" rx="0.95" ry="0.69" fill="#2143b4" opacity="0.9" transform="rotate(130.14 62.67 78.73)"/>
<ellipse cx="20.68" cy="33.14" rx="0.92" ry="0.73" fill="#1f378c" opacity="0.85" transform="rotate(136.42 20.68 33.14)"/>
<ellipse cx="3.37" cy="113.45" rx="1.25" ry="1.17" fill="#2143b4" opacity="0.9" transform="rotate(97.09 3.37 113.45)"/>
<ellipse cx="11.46" cy="50.92" rx="1.17" ry="0.97" fill="#2143b4" opacity="0.9" transform="rotate(61.8 11.46 50.92)"/>
<ellipse cx="86.12" cy="88.01" rx="0.98" ry="0.84" fill="#2143b4" opacity="0.9" transform="rotate(31.56 86.12 88.01)"/>
<ellipse cx="52.08" cy="74.83" rx="1.47" ry="1.37" fill="#2450dc" transform="rotate(48.88 52.08 74.83)"/>
<ellipse cx="103.52" cy="40.2" rx="1.29" ry="1.06" fill="#2143b4" opacity="0.9" transform="rotate(172.76 103.52 40.2)"/>
<ellipse cx="92.7" cy="88.71" rx="1.41" ry="0.9" fill="#2143b4" opacity="0.9" transform="rotate(50.61 92.7 88.71)"/>
<ellipse cx="63.52" cy="7.37" rx="1.24" ry="0.89" fill="#1f378c" opacity="0.85" transform="rotate(40.16 63.52 7.37)"/>
<ellipse cx="29.74" cy="87.73" rx="1.29" ry="1.11" fill="#2143b4" opacity="0.9" transform="rotate(143.89 29.74 87.73)"/>
<ellipse cx="76.45" cy="45.08" rx="1.42" ry="1.13" fill="#1f378c" opacity="0.85" transform="rotate(61.3 76.45 45.08)"/>
<ellipse cx="76.03" cy="1.91" rx="1.12" ry="0.94" fill="#1f378c" opacity="0.85" transform="rotate(14.21 76.03 1.91)"/>
<ellipse cx="89.35" cy="13.26" rx="1.5" ry="1.04" fill="#2143b4" opacity="0.9" transform="rotate(107.1 89.35 13.26)"/>
<ellipse cx="96.44" cy="8.03" rx="1.13" ry="1.05" fill="#1f378c" opacity="0.85" transform="rotate(111.78 96.44 8.03)"/>
<ellipse cx="75.16" cy="16.02" rx="1.29" ry="0.9" fill="#2143b4" opacity="0.9" transform="rotate(4.98 75.16 16.02)"/>
<ellipse cx="26.82" cy="27.38" rx="0.94" ry="0.76" fill="#2143b4" opacity="0.9" transform="rotate(15.54 26.82 27.38)"/>
<ellipse cx="73.25" cy="-0.32" rx="1.13" ry="0.82" fill="#1f378c" opacity="0.85" transform="rotate(12.09 73.25 -0.32)"/>
<ellipse cx="26.57" cy="108.99" rx="1.22" ry="1.08" fill="#2143b4" opacity="0.9" transform="rotate(63.61 26.57 108.99)"/>
<ellipse cx="58.21" cy="95.24" rx="1.49" ry="1.28" fill="#2143b4" opacity="0.9" transform="rotate(124.67 58.21 95.24)"/>
<ellipse cx="94.82" cy="117.75" rx="1.19" ry="0.83" fill="#2450dc" transform="rotate(147.35 94.82 117.75)"/>
<ellipse cx="93.17" cy="115.21" rx="1.31" ry="1.13" fill="#2143b4" opacity="0.9" transform="rotate(172.16 93.17 115.21)"/>
<ellipse cx="32.34" cy="11" rx="1.07" ry="0.86" fill="#1f378c" opacity="0.85" transform="rotate(58.09 32.34 11)"/>
<ellipse cx="86.61" cy="39.82" rx="1.51" ry="0.97" fill="#2143b4" opacity="0.9" transform="rotate(14.79 86.61 39.82)"/>
<ellipse cx="53.74" cy="92.89" rx="1.33" ry="0.85" fill="#2143b4" opacity="0.9" transform="rotate(35.88 53.74 92.89)"/>
<ellipse cx="-0.08" cy="104.7" rx="1.07" ry="0.85" fill="#2143b4" opacity="0.9" transform="rotate(10.28 -0.08 104.7)"/>
<ellipse cx="14.3" cy="62.12" rx="1.08" ry="0.83" fill="#2143b4" opacity="0.9" transform="rotate(98.01 14.3 62.12)"/>
<ellipse cx="55.1" cy="68.21" rx="1.17" ry="1" fill="#2143b4" opacity="0.9" transform="rotate(15.17 55.1 68.21)"/>
<ellipse cx="22.57" cy="67.59" rx="1.05" ry="0.75" fill="#2143b4" opacity="0.9" transform="rotate(32.58 22.57 67.59)"/>
<ellipse cx="1.07" cy="2.25" rx="1.18" ry="0.73" fill="#1f378c" opacity="0.85" transform="rotate(63.07 1.07 2.25)"/>
<ellipse cx="51.31" cy="25.24" rx="1.55" ry="1.32" fill="#1f378c" opacity="0.85" transform="rotate(132.55 51.31 25.24)"/>
<ellipse cx="56.89" cy="101.67" rx="1.43" ry="1" fill="#2143b4" opacity="0.9" transform="rotate(177.23 56.89 101.67)"/>
<ellipse cx="1.75" cy="110.48" rx="1.4" ry="1.12" fill="#2143b4" opacity="0.9" transform="rotate(87.88 1.75 110.48)"/>
<ellipse cx="108.31" cy="98.37" rx="1.45" ry="0.99" fill="#1f378c" opacity="0.85" transform="rotate(62.86 108.31 98.37)"/>
<ellipse cx="67.8" cy="14.05" rx="3.28" ry="2.84" fill="#22388a" opacity="0.7" transform="rotate(73.28 67.8 14.05)"/>
<ellipse cx="95.97" cy="104.11" rx="1.47" ry="1.38" fill="#2143b4" opacity="0.9" transform="rotate(64.04 95.97 104.11)"/>
<ellipse cx="82.97" cy="24.89" rx="1.48" ry="1.3" fill="#1f378c" opacity="0.85" transform="rotate(128.34 82.97 24.89)"/>
<ellipse cx="85.01" cy="83.16" rx="1.52" ry="1.26" fill="#1f378c" opacity="0.85" transform="rotate(159.09 85.01 83.16)"/>
<ellipse cx="57.21" cy="11.52" rx="1.14" ry="0.8" fill="#2143b4" opacity="0.9" transform="rotate(14.73 57.21 11.52)"/>
<ellipse cx="39.06" cy="111.84" rx="1.18" ry="0.79" fill="#2143b4" opacity="0.9" transform="rotate(8.8 39.06 111.84)"/>
<ellipse cx="71.83" cy="57.9" rx="1.17" ry="1.07" fill="#1f378c" opacity="0.85" transform="rotate(9.99 71.83 57.9)"/>
<ellipse cx="39.75" cy="9.79" rx="1.05" ry="0.87" fill="#2143b4" opacity="0.9" transform="rotate(117.97 39.75 9.79)"/>
<ellipse cx="85.91" cy="70.32" rx="0.92" ry="0.68" fill="#1f378c" opacity="0.85" transform="rotate(177.22 85.91 70.32)"/>
<ellipse cx="81.85" cy="56.57" rx="1.15" ry="0.82" fill="#1f378c" opacity="0.85" transform="rotate(52.42 81.85 56.57)"/>
<ellipse cx="59.74" cy="1.09" rx="0.92" ry="0.61" fill="#1f378c" opacity="0.85" transform="rotate(21.73 59.74 1.09)"/>
<ellipse cx="13.46" cy="112.05" rx="1.49" ry="0.99" fill="#2143b4" opacity="0.9" transform="rotate(36.31 13.46 112.05)"/>
<ellipse cx="92.62" cy="82.54" rx="1.27" ry="1.18" fill="#1f378c" opacity="0.85" transform="rotate(102.92 92.62 82.54)"/>
<ellipse cx="96.38" cy="60.91" rx="1.45" ry="1.3" fill="#1f378c" opacity="0.85" transform="rotate(28.31 96.38 60.91)"/>
<ellipse cx="3.1" cy="104.76" rx="1.37" ry="1.28" fill="#2143b4" opacity="0.9" transform="rotate(57.87 3.1 104.76)"/>
<ellipse cx="90.19" cy="77.49" rx="1.21" ry="0.92" fill="#2143b4" opacity="0.9" transform="rotate(82.69 90.19 77.49)"/>
<ellipse cx="81.19" cy="46.86" rx="1.44" ry="1.21" fill="#1f378c" opacity="0.85" transform="rotate(34.78 81.19 46.86)"/>
<ellipse cx="80.48" cy="73.96" rx="1.27" ry="0.97" fill="#2143b4" opacity="0.9" transform="rotate(122.44 80.48 73.96)"/>
<ellipse cx="4.78" cy="57.99" rx="1.47" ry="1.14" fill="#2450dc" transform="rotate(136.96 4.78 57.99)"/>
<ellipse cx="63.02" cy="107.35" rx="1.43" ry="1.18" fill="#1f378c" opacity="0.85" transform="rotate(91.99 63.02 107.35)"/>
<ellipse cx="18.63" cy="51.71" rx="1.26" ry="1.19" fill="#2143b4" opacity="0.9" transform="rotate(143.98 18.63 51.71)"/>
<ellipse cx="74.07" cy="108.59" rx="1.21" ry="0.91" fill="#2143b4" opacity="0.9" transform="rotate(128.7 74.07 108.59)"/>
<ellipse cx="76.11" cy="18.88" rx="1.06" ry="0.76" fill="#2143b4" opacity="0.9" transform="rotate(101.81 76.11 18.88)"/>
<ellipse cx="45.51" cy="49.93" rx="1.19" ry="1.03" fill="#2450dc" transform="rotate(165.79 45.51 49.93)"/>
<ellipse cx="20.34" cy="71.36" rx="1.25" ry="0.99" fill="#2143b4" opacity="0.9" transform="rotate(111.01 20.34 71.36)"/>
<ellipse cx="8.72" cy="52.86" rx="1.05" ry="0.99" fill="#2143b4" opacity="0.9" transform="rotate(52.07 8.72 52.86)"/>
<ellipse cx="54.76" cy="114.53" rx="1.06" ry="0.88" fill="#1f378c" opacity="0.85" transform="rotate(65.2 54.76 114.53)"/>
<ellipse cx="27.07" cy="116.39" rx="0.92" ry="0.65" fill="#2143b4" opacity="0.9" transform="rotate(65.29 27.07 116.39)"/>
<ellipse cx="35.01" cy="64.1" rx="0.98" ry="0.75" fill="#2143b4" opacity="0.9" transform="rotate(23.89 35.01 64.1)"/>
<ellipse cx="43.51" cy="111.37" rx="1.47" ry="0.94" fill="#2143b4" opacity="0.9" transform="rotate(69.96 43.51 111.37)"/>
<ellipse cx="99.48" cy="105.16" rx="1.41" ry="0.89" fill="#1f378c" opacity="0.85" transform="rotate(89.97 99.48 105.16)"/>
<ellipse cx="36.15" cy="1.05" rx="1.06" ry="0.91" fill="#1f378c" opacity="0.85" transform="rotate(133.1 36.15 1.05)"/>
<ellipse cx="82.84" cy="103.54" rx="0.91" ry="0.75" fill="#2143b4" opacity="0.9" transform="rotate(158.58 82.84 103.54)"/>
<ellipse cx="115.5" cy="75.12" rx="1.24" ry="0.94" fill="#1f378c" opacity="0.85" transform="rotate(107.77 115.5 75.12)"/>
<ellipse cx="29.91" cy="104.63" rx="1.25" ry="0.96" fill="#2143b4" opacity="0.9" transform="rotate(169.59 29.91 104.63)"/>
<ellipse cx="31.15" cy="51.94" rx="0.95" ry="0.7" fill="#2143b4" opacity="0.9" transform="rotate(4.91 31.15 51.94)"/>
<ellipse cx="41.88" cy="59.48" rx="1.25" ry="1.04" fill="#1f378c" opacity="0.85" transform="rotate(152.32 41.88 59.48)"/>
<ellipse cx="30.15" cy="43.97" rx="1.57" ry="1.4" fill="#2450dc" transform="rotate(132.49 30.15 43.97)"/>
<ellipse cx="86.08" cy="76.72" rx="1.24" ry="0.85" fill="#2143b4" opacity="0.9" transform="rotate(154.53 86.08 76.72)"/>
<ellipse cx="64.06" cy="52.03" rx="1.49" ry="1.09" fill="#1f378c" opacity="0.85" transform="rotate(110.09 64.06 52.03)"/>
<ellipse cx="14.54" cy="77.89" rx="1.21" ry="0.84" fill="#2143b4" opacity="0.9" transform="rotate(27.31 14.54 77.89)"/>
<ellipse cx="33.72" cy="44.41" rx="0.93" ry="0.64" fill="#1f378c" opacity="0.85" transform="rotate(3.03 33.72 44.41)"/>
<ellipse cx="60.38" cy="32.14" rx="1.72" ry="1.21" fill="#2450dc" transform="rotate(76.38 60.38 32.14)"/>
<ellipse cx="100.11" cy="84.79" rx="1.21" ry="1.05" fill="#2143b4" opacity="0.9" transform="rotate(7.93 100.11 84.79)"/>
<ellipse cx="88.62" cy="18.55" rx="1.44" ry="0.9" fill="#1f378c" opacity="0.85" transform="rotate(155.36 88.62 18.55)"/>
<ellipse cx="33.24" cy="17.53" rx="1.48" ry="1.4" fill="#2143b4" opacity="0.9" transform="rotate(129.21 33.24 17.53)"/>
<ellipse cx="90.8" cy="110.32" rx="1.04" ry="0.77" fill="#1f378c" opacity="0.85" transform="rotate(57.66 90.8 110.32)"/>
<ellipse cx="88.55" cy="-0.34" rx="0.99" ry="0.71" fill="#2143b4" opacity="0.9" transform="rotate(52.55 88.55 -0.34)"/>
<ellipse cx="36.8" cy="60.42" rx="1.26" ry="1.13" fill="#1f378c" opacity="0.85" transform="rotate(152.58 36.8 60.42)"/>
<ellipse cx="65" cy="26.71" rx="1.14" ry="0.89" fill="#2143b4" opacity="0.9" transform="rotate(31.89 65 26.71)"/>
<ellipse cx="26.49" cy="72.2" rx="1.47" ry="1.16" fill="#1f378c" opacity="0.85" transform="rotate(10.83 26.49 72.2)"/>
<ellipse cx="34.97" cy="74.38" rx="1.41" ry="1.17" fill="#2450dc" transform="rotate(128.02 34.97 74.38)"/>
<ellipse cx="22.52" cy="99.29" rx="0.91" ry="0.79" fill="#1f378c" opacity="0.85" transform="rotate(24.14 22.52 99.29)"/>
<ellipse cx="30.73" cy="93.46" rx="1.27" ry="1.07" fill="#1f378c" opacity="0.85" transform="rotate(129.2 30.73 93.46)"/>
<ellipse cx="12.56" cy="68.31" rx="1.13" ry="1.07" fill="#2143b4" opacity="0.9" transform="rotate(80.17 12.56 68.31)"/>
<ellipse cx="16.04" cy="87.12" rx="1.09" ry="0.79" fill="#2143b4" opacity="0.9" transform="rotate(49.72 16.04 87.12)"/>
<ellipse cx="19.9" cy="10.68" rx="1.46" ry="1.16" fill="#1f378c" opacity="0.85" transform="rotate(3.51 19.9 10.68)"/>
<ellipse cx="24.01" cy="58.48" rx="1.53" ry="1.05" fill="#1f378c" opacity="0.85" transform="rotate(122.79 24.01 58.48)"/>
<ellipse cx="19.63" cy="94.16" rx="1.2" ry="1.14" fill="#2143b4" opacity="0.9" transform="rotate(83.58 19.63 94.16)"/>
<ellipse cx="29.81" cy="57.19" rx="0.97" ry="0.66" fill="#2143b4" opacity="0.9" transform="rotate(84.8 29.81 57.19)"/>
<ellipse cx="20.47" cy="81.64" rx="1.36" ry="0.85" fill="#1f378c" opacity="0.85" transform="rotate(3.67 20.47 81.64)"/>
<ellipse cx="93.29" cy="63.65" rx="0.94" ry="0.77" fill="#2143b4" opacity="0.9" transform="rotate(26.86 93.29 63.65)"/>
<ellipse cx="117.92" cy="115.43" rx="1.35" ry="0.91" fill="#2143b4" opacity="0.9" transform="rotate(83.2 117.92 115.43)"/>
<ellipse cx="77.4" cy="116.64" rx="1.26" ry="1.06" fill="#1f378c" opacity="0.85" transform="rotate(129.57 77.4 116.64)"/>
<ellipse cx="44.29" cy="20.07" rx="1.11" ry="0.98" fill="#2143b4" opacity="0.9" transform="rotate(7.93 44.29 20.07)"/>
<ellipse cx="53.63" cy="54.94" rx="1.06" ry="0.72" fill="#2143b4" opacity="0.9" transform="rotate(50.54 53.63 54.94)"/>
<ellipse cx="29.69" cy="31.04" rx="0.94" ry="0.87" fill="#2143b4" opacity="0.9" transform="rotate(78.93 29.69 31.04)"/>
<ellipse cx="66.86" cy="82.51" rx="1.09" ry="0.77" fill="#1f378c" opacity="0.85" transform="rotate(86.66 66.86 82.51)"/>
<ellipse cx="106.26" cy="100.62" rx="1.14" ry="0.83" fill="#2143b4" opacity="0.9" transform="rotate(119.58 106.26 100.62)"/>
<ellipse cx="85.82" cy="95.97" rx="1.5" ry="1.41" fill="#2143b4" opacity="0.9" transform="rotate(111.69 85.82 95.97)"/>
</g>
<g id="g1c2" filter="url(#b1)">
<ellipse cx="23.85" cy="20.2" rx="2" ry="1.8" fill="#2a5ed2"/>
<ellipse cx="19.65" cy="17.2" rx="2.2" ry="1.4" fill="#24407f" opacity="0.55" transform="rotate(30 19.65 17.2)"/>
<ellipse cx="37.65" cy="22.6" rx="1.9" ry="1.5" fill="#2a5ed2" transform="rotate(10 37.65 22.6)"/>
<ellipse cx="12.69" cy="25.96" rx="2.6" ry="1.3" fill="#2a5ed2" transform="rotate(-45 12.69 25.96)"/>
<ellipse cx="17.25" cy="30.76" rx="2.5" ry="1.3" fill="#2a5ed2" transform="rotate(35 17.25 30.76)"/>
<ellipse cx="35.25" cy="28.6" rx="3.1" ry="1.7" fill="#2a5ed2" transform="rotate(-20 35.25 28.6)"/>
<ellipse cx="23.85" cy="33.4" rx="2.4" ry="2.2" fill="#2a5ed2"/>
<ellipse cx="29.85" cy="32.2" rx="2.3" ry="1.2" fill="#2a5ed2" transform="rotate(-30 29.85 32.2)"/>
<ellipse cx="32.25" cy="36.4" rx="2.6" ry="1.4" fill="#2a5ed2" transform="rotate(-10 32.25 36.4)"/>
<circle cx="26.85" cy="36.76" r="1.4" fill="#2a5ed2"/>
<ellipse cx="5.25" cy="39.4" rx="2.2" ry="1.2" fill="#2a5ed2" transform="rotate(30 5.25 39.4)"/>
<ellipse cx="16.65" cy="39.4" rx="1.7" ry="1" fill="#2a5ed2" transform="rotate(-30 16.65 39.4)"/>
<circle cx="20.25" cy="41.2" r="1.3" fill="#2a5ed2"/>
<ellipse cx="26.25" cy="42.4" rx="2" ry="1.1" fill="#2a5ed2" transform="rotate(-60 26.25 42.4)"/>
<ellipse cx="4.65" cy="43.84" rx="2.4" ry="1.2" fill="#2a5ed2" transform="rotate(15 4.65 43.84)"/>
<ellipse cx="19.05" cy="45.4" rx="3" ry="1.6" fill="#2a5ed2" transform="rotate(30 19.05 45.4)"/>
<ellipse cx="9.45" cy="47.8" rx="2.2" ry="1.1" fill="#2a5ed2" transform="rotate(30 9.45 47.8)"/>
<ellipse cx="5.49" cy="50.2" rx="1.7" ry="1.1" fill="#2a5ed2" transform="rotate(30 5.49 50.2)"/>
<ellipse cx="26.25" cy="52" rx="2.5" ry="1.4" fill="#2a5ed2" transform="rotate(-60 26.25 52)"/>
<circle cx="19.65" cy="52.6" r="1.5" fill="#2a5ed2"/>
<ellipse cx="14.85" cy="56.8" rx="2.4" ry="1.5" fill="#2a5ed2" transform="rotate(70 14.85 56.8)"/>
<ellipse cx="21.45" cy="56.8" rx="2.5" ry="1.2" fill="#2a5ed2" transform="rotate(-50 21.45 56.8)"/>
<circle cx="25.05" cy="55.6" r="1.3" fill="#2a5ed2"/>
<ellipse cx="11.85" cy="63.4" rx="2.6" ry="1.2" fill="#2a5ed2" transform="rotate(40 11.85 63.4)"/>
<ellipse cx="17.25" cy="64" rx="3" ry="1.5" fill="#2a5ed2" transform="rotate(60 17.25 64)"/>
<ellipse cx="23.85" cy="63.4" rx="1.8" ry="1.1" fill="#2a5ed2" transform="rotate(-50 23.85 63.4)"/>
<ellipse cx="22.05" cy="67.6" rx="2.4" ry="1.4" fill="#2a5ed2" transform="rotate(70 22.05 67.6)"/>
<ellipse cx="8.85" cy="72.4" rx="3.6" ry="2.1" fill="#2a5ed2"/>
<circle cx="17.25" cy="73" r="3" fill="#2a5ed2"/>
<ellipse cx="12.45" cy="76" rx="2.6" ry="1.2" fill="#2a5ed2" transform="rotate(-40 12.45 76)"/>
<ellipse cx="22.65" cy="75.4" rx="2.6" ry="1.4" fill="#2a5ed2" transform="rotate(20 22.65 75.4)"/>
<ellipse cx="32.85" cy="70.6" rx="1.8" ry="1.1" fill="#2a5ed2" transform="rotate(60 32.85 70.6)"/>
<ellipse cx="40.65" cy="73.84" rx="3" ry="1.4" fill="#2a5ed2" transform="rotate(-20 40.65 73.84)"/>
<ellipse cx="49.05" cy="70.6" rx="2.4" ry="1.4" fill="#2a5ed2" transform="rotate(80 49.05 70.6)"/>
<circle cx="34.05" cy="76" r="1.4" fill="#2a5ed2"/>
<ellipse cx="37.05" cy="78.4" rx="2.6" ry="1.3" fill="#2a5ed2" transform="rotate(10 37.05 78.4)"/>
<circle cx="7.05" cy="82.6" r="1.6" fill="#2a5ed2"/>
<ellipse cx="10.65" cy="85.24" rx="3" ry="1.5" fill="#2a5ed2" transform="rotate(80 10.65 85.24)"/>
<ellipse cx="14.85" cy="83.2" rx="3" ry="1.4" fill="#2a5ed2" transform="rotate(80 14.85 83.2)"/>
<ellipse cx="19.65" cy="83.2" rx="1.8" ry="1.6" fill="#2a5ed2"/>
<ellipse cx="31.65" cy="82" rx="3" ry="1.4" fill="#2a5ed2" transform="rotate(20 31.65 82)"/>
<ellipse cx="44.25" cy="82" rx="1.8" ry="1.2" fill="#2a5ed2" transform="rotate(30 44.25 82)"/>
<circle cx="48.45" cy="80.2" r="1.4" fill="#2a5ed2"/>
<ellipse cx="46.65" cy="85" rx="2" ry="1.4" fill="#2a5ed2"/>
<circle cx="47.85" cy="87.4" r="1.4" fill="#2a5ed2"/>
<ellipse cx="23.85" cy="89.2" rx="2.2" ry="1.2" fill="#2a5ed2" transform="rotate(60 23.85 89.2)"/>
<circle cx="28.05" cy="89.8" r="1.5" fill="#2a5ed2"/>
<ellipse cx="40.65" cy="89.8" rx="2.2" ry="1.2" fill="#2a5ed2" transform="rotate(30 40.65 89.8)"/>
<ellipse cx="7.05" cy="91.6" rx="3" ry="1.6" fill="#2a5ed2" transform="rotate(-30 7.05 91.6)"/>
<ellipse cx="1.65" cy="97" rx="2.6" ry="3.4" fill="#2a5ed2"/>
<ellipse cx="18.45" cy="94" rx="3" ry="1.4" fill="#2a5ed2" transform="rotate(80 18.45 94)"/>
<circle cx="23.25" cy="95.2" r="1.5" fill="#2a5ed2"/>
<ellipse cx="35.25" cy="94" rx="2.3" ry="1.3" fill="#2a5ed2" transform="rotate(20 35.25 94)"/>
<ellipse cx="11.25" cy="103" rx="3" ry="1.3" fill="#2a5ed2" transform="rotate(-60 11.25 103)"/>
<ellipse cx="31.65" cy="104.2" rx="3" ry="1.3" fill="#2a5ed2" transform="rotate(40 31.65 104.2)"/>
<ellipse cx="47.85" cy="100.6" rx="2.5" ry="1.6" fill="#2a5ed2" transform="rotate(80 47.85 100.6)"/>
<ellipse cx="21.45" cy="113.2" rx="2.4" ry="1.2" fill="#2a5ed2" transform="rotate(60 21.45 113.2)"/>
<circle cx="24.45" cy="113.8" r="1.4" fill="#2a5ed2"/>
<ellipse cx="29.85" cy="114.4" rx="2.2" ry="1" fill="#2a5ed2" transform="rotate(60 29.85 114.4)"/>
<ellipse cx="35.85" cy="112" rx="3" ry="1.5" fill="#2a5ed2" transform="rotate(80 35.85 112)"/>
<ellipse cx="47.25" cy="55.6" rx="2.2" ry="1.3" fill="#2a5ed2" transform="rotate(70 47.25 55.6)"/>
<ellipse cx="-0.75" cy="70.6" rx="2" ry="1" fill="#2a5ed2" transform="rotate(90 -0.75 70.6)"/>
<circle cx="-0.75" cy="81.4" r="1.15" fill="#2a5ed2"/>
<ellipse cx="64.65" cy="-0.8" rx="2" ry="1" fill="#2a5ed2"/>
<ellipse cx="13.65" cy="70.6" rx="2.4" ry="1.6" fill="#2a5ed2" transform="rotate(30 13.65 70.6)"/>
<ellipse cx="20.25" cy="77.8" rx="2.4" ry="1.6" fill="#2a5ed2" transform="rotate(-30 20.25 77.8)"/>
<ellipse cx="6.45" cy="75.4" rx="2.2" ry="1.4" fill="#2a5ed2" transform="rotate(60 6.45 75.4)"/>
<circle cx="27.45" cy="82.6" r="1.5" fill="#2a5ed2"/>
<ellipse cx="83.85" cy="24.4" rx="2.3" ry="1" fill="#2a5ed2" transform="rotate(80 83.85 24.4)"/>
<ellipse cx="83.01" cy="29.56" rx="2.3" ry="1.1" fill="#2a5ed2" transform="rotate(80 83.01 29.56)"/>
<ellipse cx="82.05" cy="33.4" rx="1.8" ry="0.8" fill="#24407f" opacity="0.55" transform="rotate(60 82.05 33.4)"/>
<ellipse cx="72.69" cy="37" rx="1.9" ry="1.4" fill="#2a5ed2" transform="rotate(-30 72.69 37)"/>
<ellipse cx="77.85" cy="36.4" rx="2.6" ry="1.3" fill="#2a5ed2" transform="rotate(-20 77.85 36.4)"/>
<ellipse cx="72.45" cy="41.2" rx="2.6" ry="1.3" fill="#2a5ed2" transform="rotate(-70 72.45 41.2)"/>
<ellipse cx="77.25" cy="40.6" rx="2.6" ry="1.2" fill="#2a5ed2" transform="rotate(-50 77.25 40.6)"/>
<ellipse cx="91.65" cy="47.8" rx="1.8" ry="1.2" fill="#2a5ed2" transform="rotate(30 91.65 47.8)"/>
<ellipse cx="97.05" cy="50.8" rx="2.4" ry="1.3" fill="#2a5ed2" transform="rotate(40 97.05 50.8)"/>
<circle cx="94.05" cy="53.2" r="1.6" fill="#2a5ed2"/>
<ellipse cx="92.25" cy="58.6" rx="2.2" ry="1.5" fill="#2a5ed2" transform="rotate(20 92.25 58.6)"/>
<ellipse cx="98.85" cy="58.6" rx="1.8" ry="1.2" fill="#2a5ed2" transform="rotate(-40 98.85 58.6)"/>
<circle cx="94.05" cy="61.6" r="1.7" fill="#2a5ed2"/>
<circle cx="97.05" cy="60.4" r="1.4" fill="#2a5ed2"/>
<ellipse cx="73.05" cy="64" rx="3" ry="1.4" fill="#2a5ed2" transform="rotate(-50 73.05 64)"/>
<ellipse cx="83.25" cy="65.2" rx="2.5" ry="1.5" fill="#2a5ed2" transform="rotate(-30 83.25 65.2)"/>
<ellipse cx="88.65" cy="64.6" rx="2.3" ry="1.2" fill="#2a5ed2" transform="rotate(-70 88.65 64.6)"/>
<ellipse cx="86.85" cy="70.6" rx="2.4" ry="1.3" fill="#2a5ed2" transform="rotate(-60 86.85 70.6)"/>
<ellipse cx="88.65" cy="74.2" rx="2.5" ry="1.2" fill="#2a5ed2" transform="rotate(-60 88.65 74.2)"/>
<ellipse cx="68.85" cy="70.6" rx="1.7" ry="1.5" fill="#2a5ed2"/>
<ellipse cx="73.05" cy="73.6" rx="3" ry="1.5" fill="#2a5ed2" transform="rotate(80 73.05 73.6)"/>
<ellipse cx="70.05" cy="76.6" rx="1.8" ry="1.6" fill="#2a5ed2"/>
<ellipse cx="73.65" cy="80.8" rx="2.2" ry="1.3" fill="#2a5ed2" transform="rotate(40 73.65 80.8)"/>
<ellipse cx="79.65" cy="80.2" rx="3" ry="1.5" fill="#2a5ed2" transform="rotate(80 79.65 80.2)"/>
<ellipse cx="83.25" cy="82.6" rx="3" ry="1.4" fill="#2a5ed2" transform="rotate(-50 83.25 82.6)"/>
<ellipse cx="76.05" cy="84.4" rx="2.3" ry="2.1" fill="#2a5ed2"/>
<ellipse cx="65.25" cy="86.8" rx="3" ry="1.3" fill="#2a5ed2" transform="rotate(80 65.25 86.8)"/>
<ellipse cx="70.05" cy="86.8" rx="2.3" ry="1.2" fill="#2a5ed2" transform="rotate(-60 70.05 86.8)"/>
<ellipse cx="112.05" cy="44.8" rx="2.4" ry="1.8" fill="#2a5ed2" transform="rotate(-15 112.05 44.8)"/>
<ellipse cx="103.65" cy="71.2" rx="2.2" ry="0.9" fill="#24407f" opacity="0.55" transform="rotate(-20 103.65 71.2)"/>
<ellipse cx="81.45" cy="54.4" rx="6.2" ry="3.8" fill="#2a5ed2" transform="rotate(25 81.45 54.4)"/>
<ellipse cx="77.85" cy="50.2" rx="3.6" ry="2.6" fill="#2a5ed2"/>
<ellipse cx="86.85" cy="49.6" rx="3" ry="2" fill="#2a5ed2"/>
<ellipse cx="83.25" cy="58.6" rx="3.6" ry="2.2" fill="#2a5ed2"/>
<ellipse cx="88.65" cy="55" rx="2.8" ry="2.2" fill="#2a5ed2"/>
</g>
<g id="g1c3" filter="url(#b1)">
<ellipse cx="64.23" cy="40.15" rx="2" ry="1.57" fill="#2252e2" transform="rotate(61.89 64.23 40.15)"/>
<ellipse cx="114.89" cy="11.34" rx="1.94" ry="1.43" fill="#2252e2" transform="rotate(179.77 114.89 11.34)"/>
<ellipse cx="71.33" cy="48.93" rx="2.13" ry="1.44" fill="#2252e2" transform="rotate(78.1 71.33 48.93)"/>
<ellipse cx="93.33" cy="65.95" rx="2.32" ry="1.67" fill="#1d3fb0" opacity="0.8" transform="rotate(92.14 93.33 65.95)"/>
<ellipse cx="88.53" cy="89.05" rx="2.3" ry="1.73" fill="#2252e2" transform="rotate(111.23 88.53 89.05)"/>
<ellipse cx="10.8" cy="110.58" rx="1.87" ry="1.25" fill="#1d3fb0" opacity="0.8" transform="rotate(61.32 10.8 110.58)"/>
<ellipse cx="46.35" cy="48.4" rx="2.15" ry="1.99" fill="#2252e2" transform="rotate(118.69 46.35 48.4)"/>
<ellipse cx="103.11" cy="82.19" rx="2.37" ry="2.23" fill="#2252e2" transform="rotate(36.94 103.11 82.19)"/>
<ellipse cx="114.7" cy="1.6" rx="2.52" ry="1.68" fill="#2252e2" transform="rotate(27.14 114.7 1.6)"/>
<ellipse cx="113.21" cy="102.49" rx="2.4" ry="1.73" fill="#2252e2" transform="rotate(1.33 113.21 102.49)"/>
<ellipse cx="103.98" cy="111.92" rx="1.76" ry="1.19" fill="#1d3fb0" opacity="0.8" transform="rotate(80.84 103.98 111.92)"/>
<ellipse cx="2.29" cy="21.93" rx="1.86" ry="1.22" fill="#1d3fb0" opacity="0.8" transform="rotate(29.78 2.29 21.93)"/>
<ellipse cx="92.24" cy="102.01" rx="2.29" ry="2.08" fill="#2252e2" transform="rotate(43.85 92.24 102.01)"/>
<ellipse cx="103.89" cy="89.67" rx="2.42" ry="1.96" fill="#2252e2" transform="rotate(56.67 103.89 89.67)"/>
<ellipse cx="92.29" cy="5.6" rx="2" ry="1.83" fill="#2252e2" transform="rotate(51.86 92.29 5.6)"/>
<ellipse cx="50.75" cy="44.02" rx="2.51" ry="2.1" fill="#1d3fb0" opacity="0.8" transform="rotate(70.09 50.75 44.02)"/>
<ellipse cx="39.99" cy="55.03" rx="2.6" ry="1.89" fill="#2252e2" transform="rotate(169.22 39.99 55.03)"/>
<ellipse cx="51.71" cy="25.44" rx="2.53" ry="1.72" fill="#2252e2" transform="rotate(116.69 51.71 25.44)"/>
<ellipse cx="18.9" cy="2.73" rx="1.79" ry="1.44" fill="#2252e2" transform="rotate(174.86 18.9 2.73)"/>
<ellipse cx="36.13" cy="11.64" rx="2.02" ry="1.33" fill="#2252e2" transform="rotate(126.45 36.13 11.64)"/>
<ellipse cx="84.43" cy="11.75" rx="2.54" ry="1.58" fill="#2252e2" transform="rotate(66.57 84.43 11.75)"/>
<ellipse cx="28.96" cy="38.99" rx="2" ry="1.68" fill="#2252e2" transform="rotate(132.23 28.96 38.99)"/>
<ellipse cx="116.39" cy="93.97" rx="1.94" ry="1.28" fill="#2252e2" transform="rotate(49.56 116.39 93.97)"/>
<ellipse cx="88.31" cy="42.67" rx="2.37" ry="1.7" fill="#2252e2" transform="rotate(19.15 88.31 42.67)"/>
<ellipse cx="83.24" cy="95.05" rx="2.06" ry="1.72" fill="#2252e2" transform="rotate(66.03 83.24 95.05)"/>
<ellipse cx="13.74" cy="81.89" rx="2.52" ry="2.23" fill="#1d3fb0" opacity="0.8" transform="rotate(31.49 13.74 81.89)"/>
<ellipse cx="26.82" cy="113.39" rx="2.35" ry="1.62" fill="#2252e2" transform="rotate(38.21 26.82 113.39)"/>
<ellipse cx="62.39" cy="72.34" rx="2.47" ry="1.73" fill="#2252e2" transform="rotate(128.55 62.39 72.34)"/>
<ellipse cx="34.28" cy="102.62" rx="2.18" ry="1.98" fill="#2252e2" transform="rotate(149.05 34.28 102.62)"/>
<ellipse cx="27.91" cy="73.65" rx="2.01" ry="1.76" fill="#2252e2" transform="rotate(121.47 27.91 73.65)"/>
<ellipse cx="49.55" cy="16.12" rx="2.38" ry="2.03" fill="#2252e2" transform="rotate(115.72 49.55 16.12)"/>
<ellipse cx="67.85" cy="7.17" rx="2.43" ry="1.6" fill="#2252e2" transform="rotate(112.13 67.85 7.17)"/>
<ellipse cx="19.42" cy="92.36" rx="2.02" ry="1.35" fill="#1d3fb0" opacity="0.8" transform="rotate(82.97 19.42 92.36)"/>
<ellipse cx="79.94" cy="83.01" rx="2.42" ry="1.99" fill="#2252e2" transform="rotate(119.51 79.94 83.01)"/>
<ellipse cx="11.27" cy="85.42" rx="2.38" ry="1.98" fill="#2252e2" transform="rotate(15.2 11.27 85.42)"/>
<ellipse cx="9.22" cy="102.6" rx="1.97" ry="1.57" fill="#2252e2" transform="rotate(156.45 9.22 102.6)"/>
<ellipse cx="38.91" cy="41.85" rx="1.93" ry="1.4" fill="#1d3fb0" opacity="0.8" transform="rotate(50.54 38.91 41.85)"/>
<ellipse cx="24.64" cy="44.7" rx="1.97" ry="1.3" fill="#2252e2" transform="rotate(104.6 24.64 44.7)"/>
<ellipse cx="27.18" cy="52.17" rx="2.58" ry="2.42" fill="#2252e2" transform="rotate(20.12 27.18 52.17)"/>
<ellipse cx="94.95" cy="25.77" rx="2.18" ry="1.55" fill="#2252e2" transform="rotate(56.16 94.95 25.77)"/>
<ellipse cx="63.45" cy="63.38" rx="2.11" ry="1.46" fill="#1d3fb0" opacity="0.8" transform="rotate(164.84 63.45 63.38)"/>
<ellipse cx="14.63" cy="41.14" rx="2.45" ry="1.55" fill="#2252e2" transform="rotate(167.35 14.63 41.14)"/>
<ellipse cx="86.99" cy="29.71" rx="1.94" ry="1.69" fill="#2252e2" transform="rotate(97.42 86.99 29.71)"/>
<ellipse cx="36.03" cy="0.99" rx="2.25" ry="2.14" fill="#2252e2" transform="rotate(162.18 36.03 0.99)"/>
<ellipse cx="40.3" cy="76.23" rx="2.42" ry="1.66" fill="#2252e2" transform="rotate(68.78 40.3 76.23)"/>
<ellipse cx="33.12" cy="80.65" rx="2.17" ry="1.94" fill="#2252e2" transform="rotate(174.9 33.12 80.65)"/>
<ellipse cx="117.04" cy="30.98" rx="2.05" ry="1.5" fill="#1d3fb0" opacity="0.8" transform="rotate(177.69 117.04 30.98)"/>
<ellipse cx="56.99" cy="100.07" rx="2.54" ry="1.88" fill="#1d3fb0" opacity="0.8" transform="rotate(42.51 56.99 100.07)"/>
<ellipse cx="44.54" cy="42.63" rx="2.07" ry="1.75" fill="#2252e2" transform="rotate(159.78 44.54 42.63)"/>
<ellipse cx="32.25" cy="114.09" rx="2.34" ry="2.03" fill="#2252e2" transform="rotate(91.54 32.25 114.09)"/>
<ellipse cx="37.81" cy="85.39" rx="2.53" ry="1.95" fill="#2252e2" transform="rotate(114.33 37.81 85.39)"/>
<ellipse cx="29.68" cy="99.13" rx="2.03" ry="1.35" fill="#1d3fb0" opacity="0.8" transform="rotate(123.82 29.68 99.13)"/>
<ellipse cx="6.71" cy="4.29" rx="2.31" ry="1.79" fill="#2252e2" transform="rotate(43.67 6.71 4.29)"/>
<ellipse cx="17.27" cy="109.19" rx="2.4" ry="2.27" fill="#2252e2" transform="rotate(174.54 17.27 109.19)"/>
<ellipse cx="0.81" cy="40.89" rx="2.11" ry="1.9" fill="#2252e2" transform="rotate(148.78 0.81 40.89)"/>
<ellipse cx="37.51" cy="6.01" rx="2.02" ry="1.53" fill="#2252e2" transform="rotate(6.32 37.51 6.01)"/>
<ellipse cx="60.44" cy="0.52" rx="2.35" ry="2.16" fill="#2252e2" transform="rotate(119.61 60.44 0.52)"/>
<ellipse cx="88.43" cy="65.82" rx="2.55" ry="2.34" fill="#2252e2" transform="rotate(34.31 88.43 65.82)"/>
<ellipse cx="63.16" cy="88.94" rx="1.88" ry="1.5" fill="#2252e2" transform="rotate(4.32 63.16 88.94)"/>
<ellipse cx="24.06" cy="6.06" rx="2.21" ry="1.41" fill="#2252e2" transform="rotate(119.65 24.06 6.06)"/>
<ellipse cx="42.84" cy="62.36" rx="2.39" ry="1.68" fill="#2252e2" transform="rotate(173.83 42.84 62.36)"/>
<ellipse cx="2.83" cy="81.08" rx="2.1" ry="1.49" fill="#1d3fb0" opacity="0.8" transform="rotate(114.05 2.83 81.08)"/>
<ellipse cx="56.64" cy="31.06" rx="2.43" ry="2.21" fill="#2252e2" transform="rotate(60.6 56.64 31.06)"/>
<ellipse cx="16.28" cy="102.65" rx="2.5" ry="2.34" fill="#2252e2" transform="rotate(79.51 16.28 102.65)"/>
<ellipse cx="103.02" cy="70.03" rx="2.03" ry="1.49" fill="#2252e2" transform="rotate(74.75 103.02 70.03)"/>
<ellipse cx="6.01" cy="47" rx="2.38" ry="1.48" fill="#1d3fb0" opacity="0.8" transform="rotate(110.12 6.01 47)"/>
<ellipse cx="35.84" cy="73.71" rx="2.49" ry="1.77" fill="#2252e2" transform="rotate(14.47 35.84 73.71)"/>
<ellipse cx="42.19" cy="68.68" rx="1.92" ry="1.62" fill="#2252e2" transform="rotate(111.92 42.19 68.68)"/>
<ellipse cx="57.64" cy="16.71" rx="2.08" ry="1.7" fill="#2252e2" transform="rotate(132.49 57.64 16.71)"/>
<ellipse cx="30.52" cy="77.14" rx="1.91" ry="1.77" fill="#1d3fb0" opacity="0.8" transform="rotate(0.27 30.52 77.14)"/>
<ellipse cx="-0.79" cy="53" rx="2.53" ry="1.73" fill="#1d3fb0" opacity="0.8" transform="rotate(120.3 -0.79 53)"/>
<ellipse cx="78.26" cy="42.01" rx="2.41" ry="2.07" fill="#1d3fb0" opacity="0.8" transform="rotate(74.09 78.26 42.01)"/>
<ellipse cx="4.23" cy="29.38" rx="2.58" ry="2.11" fill="#2252e2" transform="rotate(48.92 4.23 29.38)"/>
<ellipse cx="50.25" cy="30.38" rx="1.93" ry="1.61" fill="#2252e2" transform="rotate(70.41 50.25 30.38)"/>
<ellipse cx="25.08" cy="97.69" rx="2.16" ry="1.79" fill="#2252e2" transform="rotate(62.73 25.08 97.69)"/>
<ellipse cx="95.63" cy="17.72" rx="2.32" ry="1.95" fill="#2252e2" transform="rotate(52.82 95.63 17.72)"/>
<ellipse cx="99.48" cy="26.38" rx="2.4" ry="2.23" fill="#2252e2" transform="rotate(83.26 99.48 26.38)"/>
<ellipse cx="4.2" cy="10.58" rx="2.24" ry="1.41" fill="#2252e2" transform="rotate(57.22 4.2 10.58)"/>
<ellipse cx="38.96" cy="81.21" rx="1.84" ry="1.17" fill="#2252e2" transform="rotate(176.67 38.96 81.21)"/>
<ellipse cx="64.85" cy="21.17" rx="2.42" ry="2.01" fill="#2252e2" transform="rotate(43.41 64.85 21.17)"/>
<ellipse cx="117.74" cy="16.17" rx="2.4" ry="2.09" fill="#2252e2" transform="rotate(165.63 117.74 16.17)"/>
<ellipse cx="64.22" cy="105.7" rx="1.98" ry="1.54" fill="#2252e2" transform="rotate(57.01 64.22 105.7)"/>
<ellipse cx="109.26" cy="4.99" rx="1.91" ry="1.79" fill="#2252e2" transform="rotate(59.46 109.26 4.99)"/>
<ellipse cx="87.99" cy="97.17" rx="2.26" ry="1.71" fill="#1d3fb0" opacity="0.8" transform="rotate(15.62 87.99 97.17)"/>
<ellipse cx="111.98" cy="97.02" rx="2.35" ry="1.56" fill="#1d3fb0" opacity="0.8" transform="rotate(72.5 111.98 97.02)"/>
<ellipse cx="11.13" cy="66.58" rx="2.38" ry="2.25" fill="#1d3fb0" opacity="0.8" transform="rotate(26.07 11.13 66.58)"/>
<ellipse cx="109.35" cy="66.34" rx="2.17" ry="2.04" fill="#1d3fb0" opacity="0.8" transform="rotate(58.32 109.35 66.34)"/>
<ellipse cx="0.54" cy="34.66" rx="2.23" ry="2.1" fill="#1d3fb0" opacity="0.8" transform="rotate(91.79 0.54 34.66)"/>
<ellipse cx="86.85" cy="101.47" rx="2.4" ry="2.21" fill="#2252e2" transform="rotate(57.41 86.85 101.47)"/>
<ellipse cx="17.94" cy="115.18" rx="2.56" ry="1.63" fill="#1d3fb0" opacity="0.8" transform="rotate(53.74 17.94 115.18)"/>
<ellipse cx="90.6" cy="18.5" rx="2.17" ry="1.61" fill="#2252e2" transform="rotate(76.65 90.6 18.5)"/>
<ellipse cx="19.08" cy="52.8" rx="2.36" ry="2.24" fill="#2252e2" transform="rotate(79.57 19.08 52.8)"/>
<ellipse cx="100.25" cy="98.3" rx="2.21" ry="1.9" fill="#2252e2" transform="rotate(153.42 100.25 98.3)"/>
<ellipse cx="83.57" cy="37.5" rx="1.79" ry="1.37" fill="#2252e2" transform="rotate(10.03 83.57 37.5)"/>
<ellipse cx="47.1" cy="77.78" rx="2.32" ry="2.08" fill="#2252e2" transform="rotate(20.44 47.1 77.78)"/>
<ellipse cx="53.52" cy="114.96" rx="2.51" ry="2.16" fill="#2252e2" transform="rotate(3.96 53.52 114.96)"/>
<ellipse cx="-0.33" cy="4.41" rx="1.99" ry="1.32" fill="#2252e2" transform="rotate(75.55 -0.33 4.41)"/>
<ellipse cx="82.54" cy="58.18" rx="2.44" ry="2.08" fill="#2252e2" transform="rotate(1.15 82.54 58.18)"/>
<ellipse cx="63.52" cy="53" rx="2.13" ry="1.74" fill="#2252e2" transform="rotate(62.17 63.52 53)"/>
<ellipse cx="-0.91" cy="65.02" rx="2.21" ry="1.45" fill="#2252e2" transform="rotate(12.7 -0.91 65.02)"/>
<ellipse cx="29.33" cy="26.05" rx="2.24" ry="1.41" fill="#2252e2" transform="rotate(65.84 29.33 26.05)"/>
<ellipse cx="58.52" cy="57.09" rx="2.21" ry="2.01" fill="#1d3fb0" opacity="0.8" transform="rotate(92.43 58.52 57.09)"/>
<ellipse cx="89.39" cy="58.25" rx="2.59" ry="1.71" fill="#2252e2" transform="rotate(100.61 89.39 58.25)"/>
<ellipse cx="50.24" cy="86.95" rx="2.11" ry="1.67" fill="#2252e2" transform="rotate(13.07 50.24 86.95)"/>
<ellipse cx="5.16" cy="92.5" rx="2.51" ry="1.63" fill="#2252e2" transform="rotate(93.48 5.16 92.5)"/>
<ellipse cx="19.4" cy="40.15" rx="2.38" ry="1.48" fill="#2252e2" transform="rotate(97.57 19.4 40.15)"/>
<ellipse cx="33.13" cy="22.57" rx="2.31" ry="1.72" fill="#2252e2" transform="rotate(75 33.13 22.57)"/>
<ellipse cx="68.99" cy="81.98" rx="2.13" ry="1.58" fill="#1d3fb0" opacity="0.8" transform="rotate(121.62 68.99 81.98)"/>
<ellipse cx="108.54" cy="104.41" rx="2.5" ry="1.84" fill="#2252e2" transform="rotate(146.79 108.54 104.41)"/>
<ellipse cx="53.88" cy="84.08" rx="2.26" ry="1.8" fill="#2252e2" transform="rotate(100.52 53.88 84.08)"/>
<ellipse cx="101.43" cy="77.69" rx="2.02" ry="1.43" fill="#2252e2" transform="rotate(23.96 101.43 77.69)"/>
<ellipse cx="80.06" cy="3.51" rx="2.59" ry="1.89" fill="#1d3fb0" opacity="0.8" transform="rotate(88.74 80.06 3.51)"/>
<ellipse cx="4.51" cy="84.71" rx="2.11" ry="1.36" fill="#2252e2" transform="rotate(127.94 4.51 84.71)"/>
<ellipse cx="0.89" cy="58.23" rx="2.23" ry="1.76" fill="#1d3fb0" opacity="0.8" transform="rotate(26.82 0.89 58.23)"/>
<ellipse cx="11.08" cy="50.08" rx="2.04" ry="1.83" fill="#2252e2" transform="rotate(26.57 11.08 50.08)"/>
<ellipse cx="21.49" cy="87.24" rx="2.37" ry="1.95" fill="#2252e2" transform="rotate(104.56 21.49 87.24)"/>
<ellipse cx="116.14" cy="66.32" rx="1.78" ry="1.56" fill="#1d3fb0" opacity="0.8" transform="rotate(37.59 116.14 66.32)"/>
<ellipse cx="72.51" cy="90.27" rx="2.13" ry="1.93" fill="#1d3fb0" opacity="0.8" transform="rotate(95.94 72.51 90.27)"/>
<ellipse cx="21.34" cy="56.49" rx="2.46" ry="1.58" fill="#2252e2" transform="rotate(36.77 21.34 56.49)"/>
<ellipse cx="55.36" cy="23.01" rx="2.09" ry="1.52" fill="#2252e2" transform="rotate(178.39 55.36 23.01)"/>
<ellipse cx="14.51" cy="5.24" rx="2.44" ry="2.06" fill="#2252e2" transform="rotate(120.64 14.51 5.24)"/>
<ellipse cx="70.52" cy="13.7" rx="2.09" ry="1.43" fill="#2252e2" transform="rotate(158.93 70.52 13.7)"/>
<ellipse cx="45.95" cy="22.53" rx="2.31" ry="1.95" fill="#2252e2" transform="rotate(6.27 45.95 22.53)"/>
<ellipse cx="93.47" cy="59.65" rx="2.28" ry="2.12" fill="#2252e2" transform="rotate(49.76 93.47 59.65)"/>
<ellipse cx="105.87" cy="18.78" rx="2.31" ry="1.53" fill="#2252e2" transform="rotate(100.74 105.87 18.78)"/>
<ellipse cx="110" cy="43.15" rx="2.54" ry="2.35" fill="#2252e2" transform="rotate(34.27 110 43.15)"/>
<ellipse cx="112.9" cy="26.67" rx="2.2" ry="2.04" fill="#2252e2" transform="rotate(19.57 112.9 26.67)"/>
<ellipse cx="102.08" cy="21.58" rx="2.33" ry="2.16" fill="#2252e2" transform="rotate(123.35 102.08 21.58)"/>
<ellipse cx="81.52" cy="117.95" rx="2.41" ry="2.12" fill="#2252e2" transform="rotate(79.11 81.52 117.95)"/>
<ellipse cx="41.27" cy="99.33" rx="1.8" ry="1.23" fill="#2252e2" transform="rotate(96.7 41.27 99.33)"/>
<ellipse cx="29.53" cy="4.98" rx="2.59" ry="2.42" fill="#2252e2" transform="rotate(15.57 29.53 4.98)"/>
<ellipse cx="105.08" cy="27.84" rx="2.28" ry="1.57" fill="#1d3fb0" opacity="0.8" transform="rotate(88.71 105.08 27.84)"/>
<ellipse cx="84.33" cy="45.38" rx="1.82" ry="1.34" fill="#1d3fb0" opacity="0.8" transform="rotate(142.59 84.33 45.38)"/>
<ellipse cx="93.55" cy="115.96" rx="2.4" ry="1.53" fill="#1d3fb0" opacity="0.8" transform="rotate(30.35 93.55 115.96)"/>
<ellipse cx="24.01" cy="109.15" rx="2.57" ry="2.04" fill="#2252e2" transform="rotate(179.01 24.01 109.15)"/>
<ellipse cx="70.99" cy="108.67" rx="2.45" ry="1.97" fill="#1d3fb0" opacity="0.8" transform="rotate(167.31 70.99 108.67)"/>
<ellipse cx="96.45" cy="87.48" rx="2.41" ry="1.5" fill="#2252e2" transform="rotate(48.1 96.45 87.48)"/>
<ellipse cx="98.23" cy="30.79" rx="1.82" ry="1.17" fill="#2252e2" transform="rotate(32.68 98.23 30.79)"/>
<ellipse cx="73.16" cy="117.61" rx="2.49" ry="1.63" fill="#2252e2" transform="rotate(37.29 73.16 117.61)"/>
<ellipse cx="95.47" cy="46.2" rx="2.55" ry="1.64" fill="#2252e2" transform="rotate(98.65 95.47 46.2)"/>
<ellipse cx="41.32" cy="12.16" rx="2.48" ry="2.21" fill="#1d3fb0" opacity="0.8" transform="rotate(159.01 41.32 12.16)"/>
<ellipse cx="81.44" cy="26.62" rx="2.29" ry="2.01" fill="#1d3fb0" opacity="0.8" transform="rotate(23.05 81.44 26.62)"/>
<ellipse cx="24" cy="70.9" rx="2.5" ry="2.1" fill="#2252e2" transform="rotate(56.95 24 70.9)"/>
<ellipse cx="81.76" cy="78.97" rx="2.05" ry="1.39" fill="#2252e2" transform="rotate(72.82 81.76 78.97)"/>
<ellipse cx="10.17" cy="28.8" rx="2" ry="1.36" fill="#2252e2" transform="rotate(8.64 10.17 28.8)"/>
<ellipse cx="116.56" cy="22.15" rx="2.31" ry="1.9" fill="#1d3fb0" opacity="0.8" transform="rotate(14 116.56 22.15)"/>
<ellipse cx="49.25" cy="2.58" rx="2.57" ry="2.29" fill="#1d3fb0" opacity="0.8" transform="rotate(68.51 49.25 2.58)"/>
<ellipse cx="20.84" cy="46.62" rx="2.15" ry="1.62" fill="#2252e2" transform="rotate(118.4 20.84 46.62)"/>
<ellipse cx="79.4" cy="38.11" rx="2.58" ry="2.36" fill="#2252e2" transform="rotate(115.56 79.4 38.11)"/>
<ellipse cx="95.52" cy="38.6" rx="1.98" ry="1.84" fill="#2252e2" transform="rotate(19.04 95.52 38.6)"/>
<ellipse cx="29.01" cy="103.3" rx="2.54" ry="2.02" fill="#2252e2" transform="rotate(164.13 29.01 103.3)"/>
<ellipse cx="61.78" cy="13.66" rx="2.21" ry="1.86" fill="#1d3fb0" opacity="0.8" transform="rotate(163.64 61.78 13.66)"/>
<ellipse cx="39.02" cy="23.07" rx="2.2" ry="2" fill="#1d3fb0" opacity="0.8" transform="rotate(46.47 39.02 23.07)"/>
<ellipse cx="84.03" cy="105.65" rx="2.22" ry="1.89" fill="#2252e2" transform="rotate(164.62 84.03 105.65)"/>
<ellipse cx="34.04" cy="94.01" rx="1.95" ry="1.53" fill="#2252e2" transform="rotate(58.29 34.04 94.01)"/>
<ellipse cx="44.42" cy="4.21" rx="2.51" ry="1.62" fill="#1d3fb0" opacity="0.8" transform="rotate(137.48 44.42 4.21)"/>
<ellipse cx="74.96" cy="8.69" rx="2.56" ry="1.64" fill="#1d3fb0" opacity="0.8" transform="rotate(36.28 74.96 8.69)"/>
<ellipse cx="97.13" cy="55.46" rx="2.05" ry="1.88" fill="#2252e2" transform="rotate(139.96 97.13 55.46)"/>
<ellipse cx="94.08" cy="95.07" rx="2.13" ry="1.56" fill="#1d3fb0" opacity="0.8" transform="rotate(106.45 94.08 95.07)"/>
<ellipse cx="103.27" cy="106.1" rx="2.25" ry="1.83" fill="#2252e2" transform="rotate(11.72 103.27 106.1)"/>
<ellipse cx="3.31" cy="117.15" rx="2.5" ry="1.94" fill="#1d3fb0" opacity="0.8" transform="rotate(12.73 3.31 117.15)"/>
<ellipse cx="50.47" cy="9.21" rx="2.13" ry="1.99" fill="#2252e2" transform="rotate(28.61 50.47 9.21)"/>
<ellipse cx="46.29" cy="85.25" rx="2.48" ry="2.06" fill="#2252e2" transform="rotate(121.57 46.29 85.25)"/>
<ellipse cx="99" cy="81.35" rx="2.29" ry="1.66" fill="#2252e2" transform="rotate(65.8 99 81.35)"/>
<ellipse cx="73.08" cy="34.41" rx="1.81" ry="1.27" fill="#2252e2" transform="rotate(134.34 73.08 34.41)"/>
<ellipse cx="75.41" cy="49.13" rx="2.3" ry="1.54" fill="#2252e2" transform="rotate(12.84 75.41 49.13)"/>
<ellipse cx="45.44" cy="18.44" rx="2.46" ry="1.57" fill="#2252e2" transform="rotate(73.14 45.44 18.44)"/>
<ellipse cx="15.85" cy="88.47" rx="2.39" ry="2.02" fill="#1d3fb0" opacity="0.8" transform="rotate(164.49 15.85 88.47)"/>
<ellipse cx="53.24" cy="60.58" rx="2.56" ry="2.2" fill="#2252e2" transform="rotate(119.05 53.24 60.58)"/>
<ellipse cx="1.13" cy="90.54" rx="2.59" ry="2.44" fill="#1d3fb0" opacity="0.8" transform="rotate(112.41 1.13 90.54)"/>
<ellipse cx="45.09" cy="31.62" rx="1.93" ry="1.33" fill="#2252e2" transform="rotate(165.64 45.09 31.62)"/>
<ellipse cx="37.16" cy="28.6" rx="2.51" ry="2" fill="#2252e2" transform="rotate(4 37.16 28.6)"/>
<ellipse cx="103.91" cy="96.55" rx="2.5" ry="2.04" fill="#2252e2" transform="rotate(87.32 103.91 96.55)"/>
<ellipse cx="67.76" cy="33.46" rx="2.55" ry="2.34" fill="#2252e2" transform="rotate(103.37 67.76 33.46)"/>
<ellipse cx="110.58" cy="21.44" rx="2.26" ry="1.53" fill="#2252e2" transform="rotate(153.47 110.58 21.44)"/>
<ellipse cx="70.02" cy="100.19" rx="1.95" ry="1.71" fill="#2252e2" transform="rotate(19.48 70.02 100.19)"/>
<ellipse cx="69.15" cy="65.97" rx="2.45" ry="2.31" fill="#2252e2" transform="rotate(56.65 69.15 65.97)"/>
<ellipse cx="45.59" cy="36.95" rx="1.86" ry="1.64" fill="#2252e2" transform="rotate(98.91 45.59 36.95)"/>
<ellipse cx="104.97" cy="35.34" rx="2.35" ry="1.81" fill="#2252e2" transform="rotate(178.94 104.97 35.34)"/>
<ellipse cx="5.08" cy="60.68" rx="2.1" ry="1.36" fill="#2252e2" transform="rotate(65.3 5.08 60.68)"/>
<ellipse cx="81.89" cy="112.12" rx="1.87" ry="1.23" fill="#2252e2" transform="rotate(98.38 81.89 112.12)"/>
<ellipse cx="44.12" cy="90.98" rx="2.37" ry="1.98" fill="#1d3fb0" opacity="0.8" transform="rotate(125.58 44.12 90.98)"/>
<ellipse cx="52.98" cy="19.39" rx="2.36" ry="1.93" fill="#2252e2" transform="rotate(17.34 52.98 19.39)"/>
<ellipse cx="110.94" cy="71.22" rx="2.01" ry="1.84" fill="#2252e2" transform="rotate(9.36 110.94 71.22)"/>
<ellipse cx="36.87" cy="35.96" rx="1.84" ry="1.5" fill="#2252e2" transform="rotate(117.42 36.87 35.96)"/>
<ellipse cx="2.41" cy="75.51" rx="2.45" ry="2.27" fill="#2252e2" transform="rotate(155.67 2.41 75.51)"/>
<ellipse cx="108.37" cy="76.33" rx="1.8" ry="1.37" fill="#1d3fb0" opacity="0.8" transform="rotate(168.46 108.37 76.33)"/>
<ellipse cx="105.71" cy="51.4" rx="2.49" ry="1.73" fill="#2252e2" transform="rotate(156.39 105.71 51.4)"/>
<ellipse cx="65.38" cy="46.32" rx="2.39" ry="1.65" fill="#1d3fb0" opacity="0.8" transform="rotate(0.39 65.38 46.32)"/>
<ellipse cx="1.9" cy="16.27" rx="2.37" ry="2.11" fill="#2252e2" transform="rotate(8.42 1.9 16.27)"/>
<ellipse cx="29.62" cy="15.2" rx="2.5" ry="2.31" fill="#2252e2" transform="rotate(120.76 29.62 15.2)"/>
<ellipse cx="24.7" cy="37.78" rx="2.47" ry="1.95" fill="#2252e2" transform="rotate(132.72 24.7 37.78)"/>
<ellipse cx="60.79" cy="27.88" rx="2.59" ry="1.66" fill="#1d3fb0" opacity="0.8" transform="rotate(99.56 60.79 27.88)"/>
<ellipse cx="22.79" cy="62.92" rx="1.94" ry="1.35" fill="#2252e2" transform="rotate(42.86 22.79 62.92)"/>
<ellipse cx="18.14" cy="67.45" rx="1.91" ry="1.53" fill="#1d3fb0" opacity="0.8" transform="rotate(100.78 18.14 67.45)"/>
<ellipse cx="77.73" cy="22.7" rx="1.91" ry="1.57" fill="#2252e2" transform="rotate(119.53 77.73 22.7)"/>
<ellipse cx="77.18" cy="67.57" rx="2.08" ry="1.91" fill="#2252e2" transform="rotate(159.1 77.18 67.57)"/>
<ellipse cx="48.36" cy="60.29" rx="1.94" ry="1.28" fill="#2252e2" transform="rotate(151.18 48.36 60.29)"/>
<ellipse cx="106" cy="116.18" rx="2.49" ry="1.89" fill="#2252e2" transform="rotate(91.32 106 116.18)"/>
<ellipse cx="36.42" cy="46.76" rx="2.51" ry="2.28" fill="#1d3fb0" opacity="0.8" transform="rotate(24.89 36.42 46.76)"/>
<ellipse cx="50.28" cy="74.7" rx="1.9" ry="1.71" fill="#2252e2" transform="rotate(56.49 50.28 74.7)"/>
<ellipse cx="24.95" cy="81.92" rx="2.05" ry="1.36" fill="#2252e2" transform="rotate(28.07 24.95 81.92)"/>
<ellipse cx="86.9" cy="77.69" rx="2.32" ry="1.83" fill="#2252e2" transform="rotate(11.97 86.9 77.69)"/>
<ellipse cx="96.43" cy="110.92" rx="1.94" ry="1.54" fill="#1d3fb0" opacity="0.8" transform="rotate(133.55 96.43 110.92)"/>
<ellipse cx="82.12" cy="65.38" rx="1.79" ry="1.11" fill="#2252e2" transform="rotate(32.19 82.12 65.38)"/>
<ellipse cx="77.02" cy="32.17" rx="1.89" ry="1.48" fill="#2252e2" transform="rotate(146.05 77.02 32.17)"/>
<ellipse cx="32.97" cy="32.77" rx="1.9" ry="1.64" fill="#1d3fb0" opacity="0.8" transform="rotate(109.85 32.97 32.77)"/>
<ellipse cx="9.5" cy="74.95" rx="2.48" ry="1.91" fill="#2252e2" transform="rotate(107.21 9.5 74.95)"/>
<ellipse cx="85.15" cy="0.88" rx="2.17" ry="1.52" fill="#2252e2" transform="rotate(160.05 85.15 0.88)"/>
<ellipse cx="40.71" cy="108.4" rx="2.52" ry="1.83" fill="#2252e2" transform="rotate(122.51 40.71 108.4)"/>
<ellipse cx="99.89" cy="108.73" rx="2.59" ry="1.91" fill="#2252e2" transform="rotate(65.8 99.89 108.73)"/>
<ellipse cx="89.58" cy="38.24" rx="2.32" ry="1.75" fill="#2252e2" transform="rotate(74.44 89.58 38.24)"/>
<ellipse cx="90.67" cy="49.01" rx="2.39" ry="1.82" fill="#2252e2" transform="rotate(10.1 90.67 49.01)"/>
<ellipse cx="7.47" cy="116.63" rx="2.07" ry="1.53" fill="#1d3fb0" opacity="0.8" transform="rotate(163.36 7.47 116.63)"/>
<ellipse cx="110.68" cy="87.36" rx="2.16" ry="1.6" fill="#2252e2" transform="rotate(136.17 110.68 87.36)"/>
<ellipse cx="6.02" cy="42.15" rx="2.14" ry="1.57" fill="#2252e2" transform="rotate(111.62 6.02 42.15)"/>
<ellipse cx="0.77" cy="97.9" rx="2.2" ry="1.39" fill="#2252e2" transform="rotate(53.25 0.77 97.9)"/>
<ellipse cx="39.35" cy="16.25" rx="2.27" ry="1.99" fill="#2252e2" transform="rotate(36.79 39.35 16.25)"/>
<ellipse cx="71.98" cy="0.21" rx="2.39" ry="1.52" fill="#2252e2" transform="rotate(43.27 71.98 0.21)"/>
<ellipse cx="60.2" cy="107.83" rx="2.01" ry="1.54" fill="#1d3fb0" opacity="0.8" transform="rotate(81.37 60.2 107.83)"/>
<ellipse cx="117.71" cy="101.21" rx="2.59" ry="1.91" fill="#2252e2" transform="rotate(51.15 117.71 101.21)"/>
<ellipse cx="57.14" cy="36.03" rx="2.59" ry="1.88" fill="#1d3fb0" opacity="0.8" transform="rotate(31.86 57.14 36.03)"/>
<ellipse cx="98.64" cy="14.48" rx="2.34" ry="1.68" fill="#2252e2" transform="rotate(50.12 98.64 14.48)"/>
<ellipse cx="31.38" cy="46.27" rx="1.88" ry="1.63" fill="#2252e2" transform="rotate(129.91 31.38 46.27)"/>
<ellipse cx="31.34" cy="88.35" rx="2.42" ry="1.91" fill="#1d3fb0" opacity="0.8" transform="rotate(67.95 31.34 88.35)"/>
<ellipse cx="90.78" cy="24.1" rx="2.6" ry="2.03" fill="#1d3fb0" opacity="0.8" transform="rotate(168.94 90.78 24.1)"/>
<ellipse cx="112.61" cy="108.77" rx="2.19" ry="2.01" fill="#2252e2" transform="rotate(21.45 112.61 108.77)"/>
<ellipse cx="12.32" cy="97.05" rx="2.27" ry="1.98" fill="#1d3fb0" opacity="0.8" transform="rotate(24.82 12.32 97.05)"/>
<ellipse cx="116.26" cy="55.19" rx="2.56" ry="2.01" fill="#2252e2" transform="rotate(143.86 116.26 55.19)"/>
<ellipse cx="17.09" cy="30.64" rx="1.92" ry="1.79" fill="#2252e2" transform="rotate(41.63 17.09 30.64)"/>
<ellipse cx="58.81" cy="112.22" rx="2.18" ry="1.75" fill="#2252e2" transform="rotate(83.97 58.81 112.22)"/>
<ellipse cx="78.41" cy="103.03" rx="2.44" ry="2.28" fill="#2252e2" transform="rotate(139.63 78.41 103.03)"/>
<ellipse cx="94.07" cy="105.87" rx="2.43" ry="1.85" fill="#2252e2" transform="rotate(44.9 94.07 105.87)"/>
<ellipse cx="17.87" cy="61.04" rx="2.35" ry="1.79" fill="#1d3fb0" opacity="0.8" transform="rotate(87.83 17.87 61.04)"/>
<ellipse cx="20.42" cy="18.85" rx="1.85" ry="1.19" fill="#2252e2" transform="rotate(93.82 20.42 18.85)"/>
<ellipse cx="-0.81" cy="12.07" rx="1.76" ry="1.21" fill="#1d3fb0" opacity="0.8" transform="rotate(161 -0.81 12.07)"/>
<ellipse cx="68.17" cy="18.27" rx="2.01" ry="1.6" fill="#2252e2" transform="rotate(162.01 68.17 18.27)"/>
<ellipse cx="35.23" cy="60.01" rx="2.55" ry="1.72" fill="#2252e2" transform="rotate(38.73 35.23 60.01)"/>
<ellipse cx="76.91" cy="60.25" rx="1.99" ry="1.75" fill="#1d3fb0" opacity="0.8" transform="rotate(35.29 76.91 60.25)"/>
<ellipse cx="83.77" cy="86.27" rx="1.97" ry="1.58" fill="#1d3fb0" opacity="0.8" transform="rotate(168.56 83.77 86.27)"/>
<ellipse cx="24.89" cy="-0.27" rx="2.23" ry="1.81" fill="#1d3fb0" opacity="0.8" transform="rotate(16.12 24.89 -0.27)"/>
<ellipse cx="114.08" cy="46.52" rx="1.87" ry="1.57" fill="#2252e2" transform="rotate(168.23 114.08 46.52)"/>
<ellipse cx="89.25" cy="117.84" rx="2.22" ry="2.11" fill="#2252e2" transform="rotate(118.01 89.25 117.84)"/>
<ellipse cx="96.98" cy="6.73" rx="1.82" ry="1.61" fill="#2252e2" transform="rotate(148.47 96.98 6.73)"/>
<ellipse cx="6.1" cy="24.13" rx="1.77" ry="1.61" fill="#2252e2" transform="rotate(29.17 6.1 24.13)"/>
<ellipse cx="86.72" cy="108.75" rx="2.2" ry="1.8" fill="#2252e2" transform="rotate(30.69 86.72 108.75)"/>
<ellipse cx="115.89" cy="116.2" rx="1.89" ry="1.34" fill="#2252e2" transform="rotate(74.84 115.89 116.2)"/>
<ellipse cx="89.86" cy="32.61" rx="2.22" ry="1.64" fill="#2252e2" transform="rotate(55.86 89.86 32.61)"/>
<ellipse cx="78.15" cy="109.28" rx="1.85" ry="1.65" fill="#2252e2" transform="rotate(168.46 78.15 109.28)"/>
<ellipse cx="98.21" cy="2.88" rx="2.45" ry="2.21" fill="#2252e2" transform="rotate(9.24 98.21 2.88)"/>
<ellipse cx="58.37" cy="6.46" rx="1.86" ry="1.6" fill="#2252e2" transform="rotate(149.91 58.37 6.46)"/>
<ellipse cx="36.37" cy="110.06" rx="2.31" ry="2.03" fill="#2252e2" transform="rotate(33.72 36.37 110.06)"/>
<ellipse cx="5.25" cy="69.82" rx="2.19" ry="1.58" fill="#2252e2" transform="rotate(76.4 5.25 69.82)"/>
<ellipse cx="104.67" cy="57.72" rx="2.48" ry="1.67" fill="#2252e2" transform="rotate(95.02 104.67 57.72)"/>
<ellipse cx="48.48" cy="65.14" rx="1.88" ry="1.18" fill="#2252e2" transform="rotate(27.97 48.48 65.14)"/>
<ellipse cx="46.59" cy="10.63" rx="2.09" ry="1.54" fill="#2252e2" transform="rotate(157.87 46.59 10.63)"/>
<ellipse cx="106.16" cy="1.03" rx="2.18" ry="1.87" fill="#2252e2" transform="rotate(125.38 106.16 1.03)"/>
<ellipse cx="63.79" cy="30.84" rx="2.47" ry="2.19" fill="#2252e2" transform="rotate(68.92 63.79 30.84)"/>
<ellipse cx="9.87" cy="59.7" rx="1.99" ry="1.6" fill="#2252e2" transform="rotate(109.36 9.87 59.7)"/>
<ellipse cx="101.39" cy="47.52" rx="2.56" ry="2.09" fill="#2252e2" transform="rotate(132.84 101.39 47.52)"/>
<ellipse cx="103.51" cy="9.64" rx="2.36" ry="1.72" fill="#1d3fb0" opacity="0.8" transform="rotate(23.71 103.51 9.64)"/>
<ellipse cx="85.73" cy="53.73" rx="2.44" ry="1.57" fill="#2252e2" transform="rotate(61.47 85.73 53.73)"/>
<ellipse cx="26.52" cy="32.29" rx="2.09" ry="1.98" fill="#2252e2" transform="rotate(142.77 26.52 32.29)"/>
<ellipse cx="-0.92" cy="109.05" rx="1.81" ry="1.17" fill="#2252e2" transform="rotate(2.82 -0.92 109.05)"/>
<ellipse cx="76.98" cy="53.97" rx="1.94" ry="1.39" fill="#2252e2" transform="rotate(42.9 76.98 53.97)"/>
<ellipse cx="67.14" cy="115.84" rx="2.22" ry="1.71" fill="#2252e2" transform="rotate(9.1 67.14 115.84)"/>
<ellipse cx="6.23" cy="16.44" rx="1.94" ry="1.62" fill="#1d3fb0" opacity="0.8" transform="rotate(148.86 6.23 16.44)"/>
<ellipse cx="66.71" cy="93.31" rx="1.78" ry="1.12" fill="#1d3fb0" opacity="0.8" transform="rotate(143.85 66.71 93.31)"/>
<ellipse cx="22.2" cy="10.83" rx="2.55" ry="2.14" fill="#2252e2" transform="rotate(52.19 22.2 10.83)"/>
<ellipse cx="89.69" cy="82.88" rx="2.03" ry="1.7" fill="#2252e2" transform="rotate(111.62 89.69 82.88)"/>
<ellipse cx="48.86" cy="39.87" rx="1.82" ry="1.58" fill="#2252e2" transform="rotate(56.26 48.86 39.87)"/>
<ellipse cx="76.78" cy="78.68" rx="2.48" ry="1.81" fill="#2252e2" transform="rotate(77.99 76.78 78.68)"/>
<ellipse cx="74.39" cy="95.04" rx="2.31" ry="1.75" fill="#2252e2" transform="rotate(136.36 74.39 95.04)"/>
<ellipse cx="83.84" cy="90.77" rx="1.92" ry="1.52" fill="#1d3fb0" opacity="0.8" transform="rotate(56.67 83.84 90.77)"/>
<ellipse cx="87.85" cy="3.9" rx="2.14" ry="1.82" fill="#2252e2" transform="rotate(84.61 87.85 3.9)"/>
<ellipse cx="72.95" cy="44.86" rx="2.2" ry="1.83" fill="#2252e2" transform="rotate(19.65 72.95 44.86)"/>
<ellipse cx="115.13" cy="35.18" rx="1.84" ry="1.33" fill="#1d3fb0" opacity="0.8" transform="rotate(153.3 115.13 35.18)"/>
<ellipse cx="20.73" cy="26.8" rx="2.43" ry="2.16" fill="#2252e2" transform="rotate(175.21 20.73 26.8)"/>
<ellipse cx="28.75" cy="10.24" rx="2.41" ry="2.1" fill="#1d3fb0" opacity="0.8" transform="rotate(109 28.75 10.24)"/>
<ellipse cx="83.01" cy="72.67" rx="1.78" ry="1.33" fill="#1d3fb0" opacity="0.8" transform="rotate(111.7 83.01 72.67)"/>
<ellipse cx="57.42" cy="52.4" rx="2.11" ry="1.82" fill="#2252e2" transform="rotate(40.38 57.42 52.4)"/>
<ellipse cx="117.32" cy="81.13" rx="2.38" ry="1.78" fill="#2252e2" transform="rotate(44.51 117.32 81.13)"/>
<ellipse cx="59.47" cy="92.33" rx="2.36" ry="2.17" fill="#2252e2" transform="rotate(9.76 59.47 92.33)"/>
<ellipse cx="93.45" cy="30.64" rx="1.86" ry="1.48" fill="#2252e2" transform="rotate(53.59 93.45 30.64)"/>
<ellipse cx="7.17" cy="50.97" rx="2.06" ry="1.35" fill="#2252e2" transform="rotate(121.74 7.17 50.97)"/>
<ellipse cx="49.97" cy="82.85" rx="2" ry="1.39" fill="#2252e2" transform="rotate(74.14 49.97 82.85)"/>
<ellipse cx="113.51" cy="61.31" rx="2.07" ry="1.69" fill="#2252e2" transform="rotate(152.4 113.51 61.31)"/>
<ellipse cx="61.97" cy="117.45" rx="2.15" ry="1.54" fill="#2252e2" transform="rotate(58 61.97 117.45)"/>
<ellipse cx="75.25" cy="72.51" rx="1.81" ry="1.49" fill="#1d3fb0" opacity="0.8" transform="rotate(5.67 75.25 72.51)"/>
<ellipse cx="97.63" cy="71.07" rx="2.08" ry="1.68" fill="#1d3fb0" opacity="0.8" transform="rotate(0.54 97.63 71.07)"/>
<ellipse cx="11.9" cy="1.29" rx="2.06" ry="1.3" fill="#1d3fb0" opacity="0.8" transform="rotate(35.01 11.9 1.29)"/>
<ellipse cx="36.6" cy="65.32" rx="1.86" ry="1.45" fill="#2252e2" transform="rotate(95.97 36.6 65.32)"/>
<ellipse cx="57.46" cy="81.82" rx="2.01" ry="1.67" fill="#2252e2" transform="rotate(138.7 57.46 81.82)"/>
<ellipse cx="28.52" cy="93" rx="2.17" ry="1.88" fill="#1d3fb0" opacity="0.8" transform="rotate(175.63 28.52 93)"/>
<ellipse cx="3.79" cy="64.66" rx="1.81" ry="1.45" fill="#1d3fb0" opacity="0.8" transform="rotate(10.3 3.79 64.66)"/>
<ellipse cx="71.35" cy="23.72" rx="2" ry="1.7" fill="#2252e2" transform="rotate(62.14 71.35 23.72)"/>
<ellipse cx="3.45" cy="102.78" rx="2.52" ry="2.17" fill="#2252e2" transform="rotate(50.85 3.45 102.78)"/>
<ellipse cx="67.88" cy="27.9" rx="2.56" ry="1.98" fill="#2252e2" transform="rotate(65.22 67.88 27.9)"/>
<ellipse cx="115.61" cy="74.65" rx="2.14" ry="1.97" fill="#1d3fb0" opacity="0.8" transform="rotate(61.68 115.61 74.65)"/>
<ellipse cx="93.05" cy="72.24" rx="2.14" ry="1.48" fill="#2252e2" transform="rotate(107.96 93.05 72.24)"/>
<ellipse cx="100.75" cy="53.14" rx="2.24" ry="1.7" fill="#2252e2" transform="rotate(127.66 100.75 53.14)"/>
<ellipse cx="80.15" cy="16.17" rx="2.14" ry="1.53" fill="#2252e2" transform="rotate(9.83 80.15 16.17)"/>
<ellipse cx="105.03" cy="14.15" rx="2.16" ry="2.04" fill="#1d3fb0" opacity="0.8" transform="rotate(114.21 105.03 14.15)"/>
<ellipse cx="110.96" cy="49.55" rx="2.01" ry="1.91" fill="#2252e2" transform="rotate(58.75 110.96 49.55)"/>
<ellipse cx="58.15" cy="61.8" rx="2.2" ry="1.83" fill="#2252e2" transform="rotate(28.2 58.15 61.8)"/>
<ellipse cx="62.41" cy="83.25" rx="1.94" ry="1.63" fill="#1d3fb0" opacity="0.8" transform="rotate(15.11 62.41 83.25)"/>
<ellipse cx="40.93" cy="32.38" rx="1.83" ry="1.7" fill="#2252e2" transform="rotate(62.33 40.93 32.38)"/>
<ellipse cx="56.12" cy="89.36" rx="2.55" ry="2.33" fill="#2252e2" transform="rotate(133.65 56.12 89.36)"/>
<ellipse cx="13.98" cy="71.15" rx="2.49" ry="1.71" fill="#1d3fb0" opacity="0.8" transform="rotate(165.53 13.98 71.15)"/>
<ellipse cx="91.62" cy="53.02" rx="2.12" ry="1.54" fill="#2252e2" transform="rotate(159.64 91.62 53.02)"/>
<ellipse cx="18.41" cy="78.1" rx="2.2" ry="1.63" fill="#1d3fb0" opacity="0.8" transform="rotate(26.42 18.41 78.1)"/>
<ellipse cx="22.35" cy="102.33" rx="2.46" ry="2.3" fill="#1d3fb0" opacity="0.8" transform="rotate(163.49 22.35 102.33)"/>
<ellipse cx="98.66" cy="114.31" rx="1.75" ry="1.66" fill="#2252e2" transform="rotate(34.31 98.66 114.31)"/>
<ellipse cx="88.45" cy="113.64" rx="1.77" ry="1.47" fill="#2252e2" transform="rotate(5.14 88.45 113.64)"/>
<ellipse cx="52.28" cy="70.15" rx="2.54" ry="2.31" fill="#2252e2" transform="rotate(175.66 52.28 70.15)"/>
<ellipse cx="65.38" cy="99.45" rx="2.08" ry="1.9" fill="#2252e2" transform="rotate(99.2 65.38 99.45)"/>
<ellipse cx="52.89" cy="38.15" rx="2.53" ry="1.73" fill="#2252e2" transform="rotate(8.29 52.89 38.15)"/>
<ellipse cx="58.59" cy="48.07" rx="2.3" ry="2.1" fill="#2252e2" transform="rotate(64.22 58.59 48.07)"/>
<ellipse cx="96.05" cy="10.69" rx="2.22" ry="1.5" fill="#2252e2" transform="rotate(21.28 96.05 10.69)"/>
<ellipse cx="42.78" cy="26.47" rx="2.37" ry="1.88" fill="#2252e2" transform="rotate(106.92 42.78 26.47)"/>
<ellipse cx="108.91" cy="54.99" rx="2.11" ry="1.94" fill="#1d3fb0" opacity="0.8" transform="rotate(145.9 108.91 54.99)"/>
<ellipse cx="91.98" cy="1.35" rx="1.81" ry="1.63" fill="#2252e2" transform="rotate(155.2 91.98 1.35)"/>
<ellipse cx="16.57" cy="44.88" rx="2.5" ry="1.56" fill="#2252e2" transform="rotate(26.12 16.57 44.88)"/>
<ellipse cx="73.7" cy="28.38" rx="2.05" ry="1.76" fill="#2252e2" transform="rotate(26.55 73.7 28.38)"/>
<ellipse cx="81.54" cy="52.29" rx="2.46" ry="2.33" fill="#2252e2" transform="rotate(147.35 81.54 52.29)"/>
<ellipse cx="85.63" cy="25.46" rx="2.21" ry="2.1" fill="#2252e2" transform="rotate(92.11 85.63 25.46)"/>
<ellipse cx="21.14" cy="74.4" rx="2.28" ry="1.79" fill="#1d3fb0" opacity="0.8" transform="rotate(101.71 21.14 74.4)"/>
<ellipse cx="111.17" cy="37.13" rx="1.92" ry="1.22" fill="#1d3fb0" opacity="0.8" transform="rotate(179.45 111.17 37.13)"/>
<ellipse cx="52.26" cy="47.99" rx="2.13" ry="1.53" fill="#2252e2" transform="rotate(173.55 52.26 47.99)"/>
<ellipse cx="34.9" cy="40.16" rx="2.33" ry="1.71" fill="#2252e2" transform="rotate(56.47 34.9 40.16)"/>
</g>
<g id="g1c2g" filter="url(#b3)">
<ellipse cx="83.25" cy="46.6" rx="9" ry="6" fill="#2f8a3c" opacity="0.16" transform="rotate(-60 83.25 46.6)"/>
<ellipse cx="82.05" cy="34.6" rx="9" ry="2.5" fill="#2f8a3c" opacity="0.16" transform="rotate(80 82.05 34.6)"/>
<ellipse cx="85.65" cy="55" rx="6" ry="5" fill="#2f8a3c" opacity="0.19"/>
<ellipse cx="23.25" cy="73" rx="12" ry="5" fill="#2f8a3c" opacity="0.1" transform="rotate(60 23.25 73)"/>
<ellipse cx="17.25" cy="85" rx="7" ry="5" fill="#2f8a3c" opacity="0.11"/>
<ellipse cx="95.25" cy="58.6" rx="6" ry="3" fill="#2f8a3c" opacity="0.13" transform="rotate(30 95.25 58.6)"/>
<ellipse cx="73.65" cy="73" rx="9" ry="3" fill="#2f8a3c" opacity="0.11" transform="rotate(-60 73.65 73)"/>
</g>
<g id="g1c2d" filter="url(#b1)">
<circle cx="23.98" cy="37.44" r="0.8" fill="#38c048" opacity="0.8"/>
<circle cx="83.3" cy="49.73" r="0.8" fill="#38c048" opacity="0.8"/>
<circle cx="16.38" cy="71.37" r="0.8" fill="#38c048" opacity="0.8"/>
<circle cx="47.39" cy="108.23" r="0.8" fill="#38c048" opacity="0.8"/>
</g>
<g id="g2c1" filter="url(#b1)">
<ellipse cx="99.11" cy="5.4" rx="3.4" ry="1.4" fill="#2c62d8" transform="rotate(-35 99.11 5.4)"/>
<circle cx="108.07" cy="2.57" r="1.15" fill="#2c62d8"/>
<ellipse cx="56.86" cy="25.58" rx="3.2" ry="1.4" fill="#2c62d8" transform="rotate(-60 56.86 25.58)"/>
<ellipse cx="49.19" cy="30.77" rx="3" ry="1.3" fill="#2c62d8" transform="rotate(35 49.19 30.77)"/>
<circle cx="54.5" cy="33.48" r="1.8" fill="#2c62d8"/>
<ellipse cx="40.22" cy="34.07" rx="3.1" ry="1.5" fill="#2c62d8" transform="rotate(15 40.22 34.07)"/>
<ellipse cx="58.63" cy="37.97" rx="2.3" ry="1.6" fill="#2c62d8"/>
<ellipse cx="36.8" cy="40.45" rx="2.2" ry="1.4" fill="#2c62d8" transform="rotate(-35 36.8 40.45)"/>
<ellipse cx="31.85" cy="46.35" rx="3" ry="1.3" fill="#2c62d8" transform="rotate(-45 31.85 46.35)"/>
<circle cx="49.78" cy="47.88" r="1.5" fill="#2c62d8"/>
<circle cx="44.35" cy="52.25" r="2.2" fill="#2c62d8"/>
<ellipse cx="69.25" cy="64.75" rx="2.2" ry="1.4" fill="#2c62d8" transform="rotate(25 69.25 64.75)"/>
<ellipse cx="40.7" cy="68.41" rx="2.2" ry="1.7" fill="#2c62d8"/>
<ellipse cx="66.89" cy="74.43" rx="1.7" ry="1.5" fill="#2c62d8"/>
<ellipse cx="61.7" cy="76.44" rx="2.5" ry="1.6" fill="#2c62d8" transform="rotate(45 61.7 76.44)"/>
<circle cx="79.4" cy="74.78" r="1.5" fill="#2c62d8"/>
<ellipse cx="9.43" cy="90.01" rx="2" ry="1.2" fill="#2c62d8" transform="rotate(40 9.43 90.01)"/>
<ellipse cx="46.12" cy="113.37" rx="2.5" ry="1.4" fill="#2c62d8" transform="rotate(90 46.12 113.37)"/>
<circle cx="60.17" cy="60.62" r="3" fill="#25407f" opacity="0.55"/>
<circle cx="109.14" cy="37.73" r="2" fill="#25407f" opacity="0.55"/>
<circle cx="113.27" cy="62.98" r="1.8" fill="#25407f" opacity="0.55"/>
<circle cx="95.57" cy="89.3" r="2.2" fill="#25407f" opacity="0.55"/>
<circle cx="80.34" cy="93.55" r="2" fill="#25407f" opacity="0.55"/>
<ellipse cx="4.59" cy="97.68" rx="2.2" ry="2.4" fill="#25407f" opacity="0.55"/>
<circle cx="107.25" cy="106.05" r="2" fill="#25407f" opacity="0.55"/>
<circle cx="104.18" cy="112.66" r="2" fill="#25407f" opacity="0.55"/>
<circle cx="98.63" cy="112.19" r="1.8" fill="#25407f" opacity="0.55"/>
<ellipse cx="8.01" cy="32.78" rx="2.5" ry="1" fill="#25407f" opacity="0.55" transform="rotate(-10 8.01 32.78)"/>
</g>
<g id="g2c2" filter="url(#b1)">
<ellipse cx="19.32" cy="15.28" rx="2.6" ry="1.3" fill="#2c62d8" transform="rotate(-30 19.32 15.28)"/>
<ellipse cx="61.8" cy="11.04" rx="2" ry="2.1" fill="#2c62d8"/>
<circle cx="70.54" cy="14.93" r="1.7" fill="#2c62d8"/>
<ellipse cx="91.3" cy="28.5" rx="3" ry="2.2" fill="#2c62d8" transform="rotate(15 91.3 28.5)"/>
<ellipse cx="14.6" cy="34.75" rx="3" ry="1.6" fill="#2c62d8" transform="rotate(15 14.6 34.75)"/>
<ellipse cx="82.69" cy="38.18" rx="3.6" ry="1.6" fill="#2c62d8" transform="rotate(-20 82.69 38.18)"/>
<circle cx="63.57" cy="41.83" r="2.1" fill="#2c62d8"/>
<ellipse cx="80.8" cy="46.2" rx="3" ry="1.6" fill="#2c62d8" transform="rotate(80 80.8 46.2)"/>
<ellipse cx="64.4" cy="57.06" rx="2.2" ry="1.5" fill="#2c62d8" transform="rotate(-10 64.4 57.06)"/>
<ellipse cx="29.59" cy="60.12" rx="2.6" ry="1.5" fill="#2c62d8" transform="rotate(15 29.59 60.12)"/>
<ellipse cx="57.32" cy="69.8" rx="3.3" ry="2" fill="#2c62d8" transform="rotate(-35 57.32 69.8)"/>
<ellipse cx="34.31" cy="88.33" rx="2.2" ry="1.4" fill="#2c62d8" transform="rotate(-30 34.31 88.33)"/>
<ellipse cx="24.75" cy="81.25" rx="2" ry="1" fill="#25407f" opacity="0.55" transform="rotate(-50 24.75 81.25)"/>
<ellipse cx="44.93" cy="99.54" rx="2.9" ry="1.4" fill="#2c62d8" transform="rotate(-50 44.93 99.54)"/>
<ellipse cx="93.07" cy="96.94" rx="2.2" ry="1" fill="#25407f" opacity="0.55" transform="rotate(-40 93.07 96.94)"/>
<circle cx="88.59" cy="106.97" r="1.5" fill="#25407f" opacity="0.55"/>
<circle cx="75.26" cy="101.9" r="1.15" fill="#25407f" opacity="0.55"/>
<circle cx="83.87" cy="88.09" r="1.15" fill="#25407f" opacity="0.55"/>
<circle cx="46.7" cy="24.37" r="1.15" fill="#25407f" opacity="0.55"/>
</g>
<g id="g2c3" filter="url(#b1)">
<ellipse cx="74.87" cy="7.12" rx="2.2" ry="1.5" fill="#2c62d8" transform="rotate(-15 74.87 7.12)"/>
<ellipse cx="90.45" cy="16.56" rx="3" ry="1.5" fill="#2c62d8" transform="rotate(-10 90.45 16.56)"/>
<ellipse cx="48.32" cy="10.55" rx="1.8" ry="0.9" fill="#25407f" opacity="0.55" transform="rotate(10 48.32 10.55)"/>
<ellipse cx="110.16" cy="41.58" rx="2.8" ry="1.3" fill="#2c62d8" transform="rotate(80 110.16 41.58)"/>
<ellipse cx="37.94" cy="50.67" rx="3.2" ry="1.8" fill="#2c62d8" transform="rotate(-65 37.94 50.67)"/>
<ellipse cx="42.19" cy="52.44" rx="2" ry="1" fill="#2c62d8" transform="rotate(85 42.19 52.44)"/>
<ellipse cx="78.41" cy="48.9" rx="2" ry="1.5" fill="#2c62d8" transform="rotate(-10 78.41 48.9)"/>
<ellipse cx="50.57" cy="64" rx="2.8" ry="1.3" fill="#2c62d8" transform="rotate(-30 50.57 64)"/>
<ellipse cx="64.02" cy="69.9" rx="3.8" ry="1.5" fill="#2c62d8" transform="rotate(70 64.02 69.9)"/>
<ellipse cx="73.46" cy="70.49" rx="1.9" ry="1.4" fill="#2c62d8" transform="rotate(20 73.46 70.49)"/>
<ellipse cx="103.55" cy="64.59" rx="2.4" ry="2.6" fill="#2c62d8"/>
<ellipse cx="93.16" cy="82.05" rx="3.1" ry="2.7" fill="#2c62d8" transform="rotate(20 93.16 82.05)"/>
<ellipse cx="85.73" cy="83.82" rx="2.5" ry="1.2" fill="#2c62d8" transform="rotate(85 85.73 83.82)"/>
<ellipse cx="47.38" cy="84.41" rx="2.2" ry="1.5" fill="#2c62d8" transform="rotate(80 47.38 84.41)"/>
<ellipse cx="32.63" cy="87.25" rx="2.6" ry="1.2" fill="#2c62d8" transform="rotate(20 32.63 87.25)"/>
<circle cx="7.61" cy="94.09" r="1.3" fill="#25407f" opacity="0.55"/>
<circle cx="15.17" cy="99.4" r="2.6" fill="#2c62d8"/>
<circle cx="46.79" cy="101.41" r="2.9" fill="#2c62d8"/>
<ellipse cx="34.64" cy="103.77" rx="2.6" ry="1.3" fill="#2c62d8" transform="rotate(-25 34.64 103.77)"/>
<ellipse cx="75.11" cy="100.23" rx="3" ry="1.6" fill="#2c62d8" transform="rotate(-30 75.11 100.23)"/>
<ellipse cx="68.97" cy="104.12" rx="2" ry="1.2" fill="#2c62d8" transform="rotate(15 68.97 104.12)"/>
<ellipse cx="67.68" cy="109.43" rx="2.2" ry="1.2" fill="#2c62d8" transform="rotate(-20 67.68 109.43)"/>
</g>
<g id="g2c2g" filter="url(#b2)">
<ellipse cx="61.1" cy="10.81" rx="2.2" ry="1.06" fill="#3cc84a" opacity="0.55" transform="rotate(-25 61.1 10.81)"/>
<ellipse cx="70.06" cy="14.7" rx="2.11" ry="1.76" fill="#3cc84a" opacity="0.7"/>
<ellipse cx="64.99" cy="42.32" rx="3.96" ry="1.76" fill="#3cc84a" opacity="0.85" transform="rotate(35 64.99 42.32)"/>
<ellipse cx="66.52" cy="43.02" rx="1.94" ry="1.14" fill="#3cc84a" opacity="0.9" transform="rotate(35 66.52 43.02)"/>
<ellipse cx="82.1" cy="41.49" rx="3.52" ry="1.06" fill="#3cc84a" opacity="0.5" transform="rotate(-35 82.1 41.49)"/>
<ellipse cx="80.33" cy="46.21" rx="3.08" ry="0.88" fill="#3cc84a" opacity="0.4" transform="rotate(-65 80.33 46.21)"/>
<ellipse cx="63.81" cy="57.77" rx="2.64" ry="1.23" fill="#3cc84a" opacity="0.85" transform="rotate(5 63.81 57.77)"/>
<circle cx="31.12" cy="64.26" r="1.06" fill="#3cc84a" opacity="0.6"/>
<ellipse cx="57.91" cy="70.05" rx="2.64" ry="1.06" fill="#3cc84a" opacity="0.3" transform="rotate(-75 57.91 70.05)"/>
<ellipse cx="34.31" cy="88.69" rx="2.9" ry="1.14" fill="#3cc84a" opacity="0.85" transform="rotate(-40 34.31 88.69)"/>
<ellipse cx="44.69" cy="100.73" rx="2.82" ry="1.41" fill="#3cc84a" opacity="0.85" transform="rotate(-25 44.69 100.73)"/>
</g>
<g id="g3c1" filter="url(#b1)">
<circle cx="10.2" cy="1.44" r="1.15" fill="#2c62d8"/>
<ellipse cx="35.4" cy="4.8" rx="2.6" ry="1.1" fill="#2c62d8" transform="rotate(75 35.4 4.8)"/>
<ellipse cx="46.8" cy="3" rx="2.2" ry="1.4" fill="#2c62d8" transform="rotate(60 46.8 3)"/>
<ellipse cx="50.4" cy="4.8" rx="2.2" ry="1.4" fill="#2c62d8" transform="rotate(70 50.4 4.8)"/>
<circle cx="53.4" cy="2.4" r="1.15" fill="#2c62d8"/>
<circle cx="59.16" cy="4.8" r="1.15" fill="#2c62d8"/>
<ellipse cx="61.2" cy="8.4" rx="2.2" ry="1.4" fill="#2c62d8" transform="rotate(70 61.2 8.4)"/>
<circle cx="73.8" cy="0.6" r="1.15" fill="#2c62d8"/>
<ellipse cx="93.6" cy="4.56" rx="2.3" ry="1.6" fill="#2c62d8" transform="rotate(-30 93.6 4.56)"/>
<ellipse cx="98.4" cy="3" rx="1.6" ry="1" fill="#2c62d8" transform="rotate(70 98.4 3)"/>
<ellipse cx="109.2" cy="4.2" rx="2.2" ry="1.4" fill="#2c62d8" transform="rotate(40 109.2 4.2)"/>
<ellipse cx="18" cy="10.8" rx="3.6" ry="1.2" fill="#2c62d8" transform="rotate(85 18 10.8)"/>
<circle cx="18" cy="15.36" r="2.3" fill="#2c62d8"/>
<ellipse cx="37.8" cy="15.84" rx="2" ry="1.5" fill="#2c62d8"/>
<ellipse cx="53.4" cy="11.64" rx="2.7" ry="1.2" fill="#2c62d8" transform="rotate(-10 53.4 11.64)"/>
<ellipse cx="69.6" cy="19.2" rx="2.2" ry="1.4" fill="#2c62d8" transform="rotate(35 69.6 19.2)"/>
<ellipse cx="62.4" cy="22.2" rx="2.2" ry="1.4" fill="#2c62d8" transform="rotate(-45 62.4 22.2)"/>
<circle cx="59.4" cy="24.6" r="1.4" fill="#2c62d8"/>
<ellipse cx="67.56" cy="26.64" rx="3.1" ry="1.3" fill="#2c62d8" transform="rotate(-25 67.56 26.64)"/>
<ellipse cx="16.8" cy="24" rx="1.7" ry="1.1" fill="#2c62d8" transform="rotate(-40 16.8 24)"/>
<ellipse cx="0" cy="20.4" rx="1.5" ry="2" fill="#2c62d8"/>
<ellipse cx="3" cy="30.6" rx="3" ry="1.3" fill="#2c62d8" transform="rotate(30 3 30.6)"/>
<ellipse cx="18.84" cy="30.84" rx="3" ry="1.4" fill="#2c62d8" transform="rotate(35 18.84 30.84)"/>
<ellipse cx="42.36" cy="30.96" rx="2.2" ry="1.4" fill="#2c62d8" transform="rotate(-35 42.36 30.96)"/>
<ellipse cx="98.16" cy="29.4" rx="2.3" ry="1.6" fill="#2c62d8" transform="rotate(-40 98.16 29.4)"/>
<circle cx="101.4" cy="25.2" r="1.15" fill="#25407f" opacity="0.55"/>
<ellipse cx="92.76" cy="34.56" rx="3.1" ry="1.3" fill="#2c62d8" transform="rotate(-35 92.76 34.56)"/>
<ellipse cx="91.2" cy="41.04" rx="2.3" ry="1.2" fill="#2c62d8" transform="rotate(50 91.2 41.04)"/>
<ellipse cx="53.04" cy="37.8" rx="2.4" ry="1.5" fill="#2c62d8" transform="rotate(-15 53.04 37.8)"/>
<ellipse cx="31.8" cy="40.44" rx="2.3" ry="1.6" fill="#2c62d8" transform="rotate(10 31.8 40.44)"/>
<ellipse cx="20.4" cy="42" rx="2.2" ry="1.6" fill="#2c62d8" transform="rotate(-60 20.4 42)"/>
<ellipse cx="3.6" cy="45" rx="2.5" ry="1.5" fill="#2c62d8" transform="rotate(-35 3.6 45)"/>
<ellipse cx="73.2" cy="41.76" rx="2.7" ry="1.9" fill="#2c62d8" transform="rotate(10 73.2 41.76)"/>
<ellipse cx="61.56" cy="45.96" rx="1.9" ry="1.4" fill="#2c62d8"/>
<ellipse cx="13.44" cy="49.44" rx="3" ry="1.2" fill="#2c62d8" transform="rotate(-60 13.44 49.44)"/>
<ellipse cx="90.84" cy="53.04" rx="2" ry="1.4" fill="#2c62d8" transform="rotate(-20 90.84 53.04)"/>
<circle cx="33.36" cy="58.2" r="1.9" fill="#2c62d8"/>
<ellipse cx="2.4" cy="60" rx="2.6" ry="1.1" fill="#2c62d8" transform="rotate(75 2.4 60)"/>
<ellipse cx="80.64" cy="60" rx="2" ry="1.3" fill="#2c62d8" transform="rotate(40 80.64 60)"/>
<ellipse cx="75.84" cy="65.76" rx="2.3" ry="1.1" fill="#2c62d8" transform="rotate(45 75.84 65.76)"/>
<ellipse cx="111.24" cy="64.44" rx="2" ry="1.4" fill="#2c62d8" transform="rotate(80 111.24 64.44)"/>
<ellipse cx="15.96" cy="71.64" rx="2" ry="1.5" fill="#2c62d8" transform="rotate(80 15.96 71.64)"/>
<ellipse cx="15.36" cy="76.44" rx="2.1" ry="1.5" fill="#2c62d8" transform="rotate(30 15.36 76.44)"/>
<ellipse cx="10.44" cy="80.16" rx="2.8" ry="1.3" fill="#2c62d8" transform="rotate(50 10.44 80.16)"/>
<circle cx="69.6" cy="73.44" r="1.7" fill="#2c62d8"/>
<ellipse cx="78.6" cy="75.36" rx="2" ry="1.2" fill="#2c62d8" transform="rotate(15 78.6 75.36)"/>
<ellipse cx="110.4" cy="78.84" rx="1.6" ry="1.8" fill="#2c62d8"/>
<circle cx="117.24" cy="76.44" r="1.15" fill="#2c62d8"/>
<ellipse cx="53.4" cy="95.4" rx="3" ry="1.2" fill="#2c62d8" transform="rotate(-55 53.4 95.4)"/>
<circle cx="41.04" cy="99.36" r="1.8" fill="#2c62d8"/>
<ellipse cx="56.64" cy="101.4" rx="2" ry="1.3" fill="#2c62d8" transform="rotate(35 56.64 101.4)"/>
<ellipse cx="47.76" cy="106.56" rx="2.1" ry="1.5" fill="#2c62d8" transform="rotate(80 47.76 106.56)"/>
<circle cx="102.24" cy="104.4" r="1.4" fill="#2c62d8"/>
<ellipse cx="104.4" cy="101.4" rx="1.8" ry="0.8" fill="#25407f" opacity="0.55" transform="rotate(60 104.4 101.4)"/>
<ellipse cx="115.2" cy="112.56" rx="1.9" ry="1.2" fill="#2c62d8" transform="rotate(-20 115.2 112.56)"/>
<ellipse cx="0.84" cy="115.8" rx="2.2" ry="1.4" fill="#2c62d8" transform="rotate(-45 0.84 115.8)"/>
<circle cx="36.6" cy="118.2" r="1.15" fill="#2c62d8"/>
<circle cx="48.6" cy="118.56" r="1.15" fill="#2c62d8"/>
<ellipse cx="49.8" cy="42.6" rx="1.8" ry="0.7" fill="#25407f" opacity="0.55" transform="rotate(-60 49.8 42.6)"/>
<circle cx="46.8" cy="54.84" r="1.15" fill="#25407f" opacity="0.55"/>
<circle cx="45" cy="60" r="1.15" fill="#25407f" opacity="0.55"/>
</g>
<g id="g3c2" filter="url(#b1)">
<circle cx="31" cy="0.6" r="1.15" fill="#2c62d8"/>
<ellipse cx="52" cy="1.8" rx="2.2" ry="1.4" fill="#2c62d8" transform="rotate(80 52 1.8)"/>
<ellipse cx="65.8" cy="1.2" rx="4" ry="1.6" fill="#2c62d8"/>
<ellipse cx="109" cy="1.44" rx="2.2" ry="1.4" fill="#2c62d8"/>
<circle cx="113.8" cy="1.2" r="1.15" fill="#2c62d8"/>
<ellipse cx="115" cy="5.4" rx="2.2" ry="1.4" fill="#2c62d8" transform="rotate(70 115 5.4)"/>
<ellipse cx="22.84" cy="10.2" rx="2.1" ry="1.4" fill="#2c62d8" transform="rotate(40 22.84 10.2)"/>
<ellipse cx="28.6" cy="9" rx="2.4" ry="2.3" fill="#2c62d8"/>
<ellipse cx="61.6" cy="10.2" rx="2.3" ry="1.5" fill="#2c62d8" transform="rotate(80 61.6 10.2)"/>
<ellipse cx="60.64" cy="14.64" rx="2.7" ry="2.5" fill="#2c62d8"/>
<ellipse cx="96.64" cy="6.96" rx="2.3" ry="1.4" fill="#2c62d8" transform="rotate(40 96.64 6.96)"/>
<ellipse cx="104.56" cy="9" rx="2.2" ry="1.5" fill="#2c62d8" transform="rotate(-60 104.56 9)"/>
<ellipse cx="110.2" cy="15" rx="2.2" ry="1.2" fill="#2c62d8" transform="rotate(10 110.2 15)"/>
<ellipse cx="109.6" cy="21" rx="2.7" ry="1.1" fill="#2c62d8" transform="rotate(30 109.6 21)"/>
<ellipse cx="1" cy="17.76" rx="2.6" ry="1.3" fill="#2c62d8" transform="rotate(-40 1 17.76)"/>
<ellipse cx="8.2" cy="24.24" rx="2.3" ry="1.8" fill="#2c62d8" transform="rotate(20 8.2 24.24)"/>
<ellipse cx="43" cy="23.04" rx="2.7" ry="1.2" fill="#2c62d8" transform="rotate(-55 43 23.04)"/>
<ellipse cx="57.64" cy="23.04" rx="2.5" ry="1.6" fill="#2c62d8" transform="rotate(-40 57.64 23.04)"/>
<ellipse cx="30.16" cy="27.6" rx="2.2" ry="1.5" fill="#2c62d8" transform="rotate(20 30.16 27.6)"/>
<ellipse cx="23.44" cy="32.76" rx="2.2" ry="1.6" fill="#2c62d8" transform="rotate(-30 23.44 32.76)"/>
<ellipse cx="41.2" cy="32.64" rx="2.6" ry="2.5" fill="#2c62d8"/>
<ellipse cx="16.36" cy="36.6" rx="3.1" ry="1.4" fill="#2c62d8" transform="rotate(40 16.36 36.6)"/>
<ellipse cx="22" cy="38.4" rx="2.6" ry="1" fill="#2c62d8" transform="rotate(45 22 38.4)"/>
<ellipse cx="30.4" cy="39.84" rx="2.2" ry="2.8" fill="#2c62d8" transform="rotate(20 30.4 39.84)"/>
<ellipse cx="110.2" cy="30" rx="2" ry="1.3" fill="#2c62d8" transform="rotate(-40 110.2 30)"/>
<ellipse cx="107.8" cy="33.24" rx="2.3" ry="1.5" fill="#2c62d8" transform="rotate(30 107.8 33.24)"/>
<ellipse cx="107.8" cy="37.44" rx="1.6" ry="0.8" fill="#25407f" opacity="0.55" transform="rotate(30 107.8 37.44)"/>
<ellipse cx="67.84" cy="56.4" rx="3.8" ry="2" fill="#2c62d8" transform="rotate(-75 67.84 56.4)"/>
<circle cx="89.2" cy="62.64" r="2.1" fill="#2c62d8"/>
<ellipse cx="107.56" cy="64.2" rx="2.4" ry="1.4" fill="#2c62d8" transform="rotate(70 107.56 64.2)"/>
<ellipse cx="79" cy="70.56" rx="2" ry="1.4" fill="#2c62d8" transform="rotate(15 79 70.56)"/>
<ellipse cx="85.84" cy="70.44" rx="1.4" ry="1.6" fill="#2c62d8"/>
<ellipse cx="89.44" cy="69" rx="1.5" ry="1.3" fill="#2c62d8"/>
<circle cx="88.84" cy="72" r="1.3" fill="#2c62d8"/>
<ellipse cx="86.8" cy="75" rx="2.2" ry="1.5" fill="#2c62d8"/>
<ellipse cx="98.44" cy="75.84" rx="2.2" ry="1.4" fill="#2c62d8" transform="rotate(80 98.44 75.84)"/>
<ellipse cx="22.96" cy="82.2" rx="2.4" ry="1.3" fill="#2c62d8" transform="rotate(-55 22.96 82.2)"/>
<ellipse cx="77.56" cy="89.76" rx="2.3" ry="1.5" fill="#2c62d8"/>
<ellipse cx="11.2" cy="97.2" rx="2.2" ry="1.4" fill="#2c62d8" transform="rotate(70 11.2 97.2)"/>
<ellipse cx="68.8" cy="103.44" rx="2.4" ry="1.7" fill="#2c62d8" transform="rotate(30 68.8 103.44)"/>
<ellipse cx="71.2" cy="104.64" rx="1.6" ry="0.8" fill="#25407f" opacity="0.55" transform="rotate(20 71.2 104.64)"/>
<ellipse cx="55.6" cy="107.76" rx="2.6" ry="1.6" fill="#2c62d8" transform="rotate(85 55.6 107.76)"/>
<circle cx="13.6" cy="108.24" r="1.5" fill="#2c62d8"/>
<ellipse cx="20.2" cy="108.6" rx="2.9" ry="1.1" fill="#2c62d8" transform="rotate(-60 20.2 108.6)"/>
<circle cx="17.2" cy="113.04" r="1.6" fill="#2c62d8"/>
<circle cx="44.2" cy="116.16" r="1.7" fill="#2c62d8"/>
<ellipse cx="18.4" cy="117" rx="1.8" ry="1" fill="#2c62d8" transform="rotate(70 18.4 117)"/>
<ellipse cx="53.8" cy="114.96" rx="2" ry="0.6" fill="#25407f" opacity="0.55" transform="rotate(30 53.8 114.96)"/>
<circle cx="118" cy="28.2" r="1.15" fill="#2c62d8"/>
<ellipse cx="118" cy="57.24" rx="1.5" ry="1" fill="#2c62d8" transform="rotate(80 118 57.24)"/>
<ellipse cx="118" cy="102.24" rx="1.5" ry="1" fill="#2c62d8" transform="rotate(80 118 102.24)"/>
</g>
<g id="g3c3" filter="url(#b1)">
<ellipse cx="37.8" cy="1.2" rx="1.8" ry="1.4" fill="#2c62d8"/>
<ellipse cx="57.24" cy="4.2" rx="2.2" ry="1" fill="#2c62d8" transform="rotate(65 57.24 4.2)"/>
<ellipse cx="58.44" cy="7.8" rx="1.5" ry="0.8" fill="#2c62d8" transform="rotate(70 58.44 7.8)"/>
<ellipse cx="80.64" cy="4.8" rx="2.5" ry="1.5" fill="#2c62d8" transform="rotate(30 80.64 4.8)"/>
<ellipse cx="19.56" cy="8.76" rx="1.9" ry="1.2" fill="#2c62d8" transform="rotate(-60 19.56 8.76)"/>
<ellipse cx="108.96" cy="11.76" rx="2.1" ry="2" fill="#2c62d8"/>
<ellipse cx="79.2" cy="16.44" rx="3" ry="1.7" fill="#2c62d8"/>
<ellipse cx="30" cy="19.44" rx="2.3" ry="1.6" fill="#2c62d8" transform="rotate(-55 30 19.44)"/>
<circle cx="62.4" cy="19.56" r="1.7" fill="#2c62d8"/>
<ellipse cx="29.64" cy="25.44" rx="2.2" ry="1" fill="#2c62d8" transform="rotate(50 29.64 25.44)"/>
<ellipse cx="35.76" cy="29.64" rx="2.2" ry="1.1" fill="#2c62d8" transform="rotate(40 35.76 29.64)"/>
<circle cx="11.4" cy="30.84" r="1.5" fill="#2c62d8"/>
<ellipse cx="79.8" cy="29.04" rx="2.3" ry="1.4" fill="#2c62d8" transform="rotate(-20 79.8 29.04)"/>
<ellipse cx="24.36" cy="35.16" rx="2" ry="0.9" fill="#2c62d8" transform="rotate(15 24.36 35.16)"/>
<ellipse cx="110.76" cy="36.24" rx="2.2" ry="1.4" fill="#2c62d8" transform="rotate(20 110.76 36.24)"/>
<ellipse cx="59.16" cy="39.6" rx="2.4" ry="1" fill="#2c62d8" transform="rotate(20 59.16 39.6)"/>
<ellipse cx="77.64" cy="45.36" rx="2" ry="1.5" fill="#2c62d8" transform="rotate(25 77.64 45.36)"/>
<ellipse cx="63" cy="48.36" rx="2.2" ry="3" fill="#2c62d8" transform="rotate(-10 63 48.36)"/>
<ellipse cx="28.8" cy="51.84" rx="2.2" ry="1.6" fill="#2c62d8" transform="rotate(45 28.8 51.84)"/>
<ellipse cx="22.56" cy="55.56" rx="2" ry="1.4" fill="#2c62d8" transform="rotate(-50 22.56 55.56)"/>
<circle cx="22.44" cy="63.36" r="1.6" fill="#25407f" opacity="0.55"/>
<ellipse cx="56.4" cy="62.04" rx="2.9" ry="1.3" fill="#2c62d8" transform="rotate(55 56.4 62.04)"/>
<ellipse cx="70.56" cy="92.16" rx="1.8" ry="2.5" fill="#2c62d8"/>
<ellipse cx="82.8" cy="100.8" rx="3" ry="1.5" fill="#2c62d8" transform="rotate(-75 82.8 100.8)"/>
<ellipse cx="110.04" cy="112.8" rx="3.3" ry="2.2" fill="#2c62d8"/>
</g>
<g id="g3c2g" filter="url(#b2)">
<ellipse cx="26.2" cy="8.85" rx="4.4" ry="1.94" fill="#46d63e" opacity="0.85" transform="rotate(-35 26.2 8.85)"/>
<ellipse cx="28" cy="8.25" rx="1.94" ry="1.06" fill="#46d63e" opacity="0.9" transform="rotate(-35 28 8.25)"/>
<ellipse cx="31.6" cy="1.65" rx="2.2" ry="0.88" fill="#46d63e" opacity="0.35" transform="rotate(-50 31.6 1.65)"/>
<ellipse cx="52.6" cy="2.85" rx="1.58" ry="0.88" fill="#46d63e" opacity="0.4" transform="rotate(80 52.6 2.85)"/>
<ellipse cx="62.8" cy="1.05" rx="1.94" ry="0.88" fill="#46d63e" opacity="0.35" transform="rotate(-20 62.8 1.05)"/>
<ellipse cx="61" cy="14.25" rx="3.52" ry="1.76" fill="#46d63e" opacity="0.8" transform="rotate(-70 61 14.25)"/>
<ellipse cx="1.6" cy="16.05" rx="2.64" ry="1.14" fill="#46d63e" opacity="0.7" transform="rotate(-30 1.6 16.05)"/>
<ellipse cx="58" cy="23.85" rx="3.08" ry="1.14" fill="#46d63e" opacity="0.6" transform="rotate(-40 58 23.85)"/>
<ellipse cx="43" cy="22.65" rx="3.52" ry="0.88" fill="#46d63e" opacity="0.45" transform="rotate(-60 43 22.65)"/>
<ellipse cx="30.4" cy="27.21" rx="2.02" ry="1.94" fill="#46d63e" opacity="0.95"/>
<ellipse cx="23.8" cy="32.25" rx="2.02" ry="1.23" fill="#46d63e" opacity="0.55" transform="rotate(-20 23.8 32.25)"/>
<ellipse cx="40.6" cy="32.25" rx="3.52" ry="2.64" fill="#46d63e" opacity="0.55" transform="rotate(30 40.6 32.25)"/>
<ellipse cx="41.8" cy="30.69" rx="1.94" ry="0.88" fill="#46d63e" opacity="0.8" transform="rotate(40 41.8 30.69)"/>
<ellipse cx="16" cy="35.49" rx="2.11" ry="1.32" fill="#46d63e" opacity="0.85" transform="rotate(20 16 35.49)"/>
<ellipse cx="30.64" cy="39.45" rx="4.4" ry="1.76" fill="#46d63e" opacity="0.85" transform="rotate(-65 30.64 39.45)"/>
<ellipse cx="20.8" cy="40.05" rx="2.29" ry="0.88" fill="#46d63e" opacity="0.35" transform="rotate(45 20.8 40.05)"/>
<ellipse cx="8.2" cy="23.85" rx="2.02" ry="1.14" fill="#46d63e" opacity="0.25" transform="rotate(20 8.2 23.85)"/>
<ellipse cx="108.4" cy="30.45" rx="3.08" ry="2.64" fill="#46d63e" opacity="0.4"/>
<ellipse cx="108.4" cy="37.41" rx="2.2" ry="1.32" fill="#46d63e" opacity="1"/>
<ellipse cx="109" cy="20.85" rx="2.64" ry="1.06" fill="#46d63e" opacity="0.45" transform="rotate(40 109 20.85)"/>
<ellipse cx="97" cy="5.85" rx="2.29" ry="1.06" fill="#46d63e" opacity="0.4" transform="rotate(50 97 5.85)"/>
<ellipse cx="114.4" cy="4.65" rx="1.76" ry="0.88" fill="#46d63e" opacity="0.3" transform="rotate(60 114.4 4.65)"/>
<ellipse cx="68.44" cy="55.41" rx="4.84" ry="1.76" fill="#46d63e" opacity="0.8" transform="rotate(-80 68.44 55.41)"/>
<circle cx="67.6" cy="61.65" r="1.06" fill="#46d63e" opacity="1"/>
<ellipse cx="89.8" cy="62.85" rx="2.2" ry="2.64" fill="#46d63e" opacity="0.4"/>
<ellipse cx="107.8" cy="64.05" rx="2.64" ry="0.97" fill="#46d63e" opacity="0.4" transform="rotate(85 107.8 64.05)"/>
<ellipse cx="79.6" cy="70.65" rx="2.46" ry="1.32" fill="#46d63e" opacity="0.6" transform="rotate(-10 79.6 70.65)"/>
<ellipse cx="87.76" cy="72.45" rx="2.64" ry="3.08" fill="#46d63e" opacity="0.8" transform="rotate(20 87.76 72.45)"/>
<ellipse cx="87.4" cy="73.41" rx="1.41" ry="0.88" fill="#46d63e" opacity="1" transform="rotate(40 87.4 73.41)"/>
<ellipse cx="25" cy="80.85" rx="3.52" ry="0.88" fill="#46d63e" opacity="0.4" transform="rotate(-65 25 80.85)"/>
<ellipse cx="77.8" cy="89.85" rx="2.64" ry="1.23" fill="#46d63e" opacity="0.85"/>
<ellipse cx="69.4" cy="103.29" rx="2.64" ry="3.08" fill="#46d63e" opacity="0.6" transform="rotate(40 69.4 103.29)"/>
<circle cx="74.8" cy="100.05" r="1.14" fill="#46d63e" opacity="0.4"/>
<ellipse cx="55.6" cy="108.45" rx="3.52" ry="1.32" fill="#46d63e" opacity="0.65" transform="rotate(80 55.6 108.45)"/>
<ellipse cx="19.6" cy="109.65" rx="5.28" ry="1.32" fill="#46d63e" opacity="0.6" transform="rotate(-70 19.6 109.65)"/>
<ellipse cx="13.6" cy="107.85" rx="1.32" ry="1.58" fill="#46d63e" opacity="0.6"/>
<circle cx="43.6" cy="116.85" r="1.76" fill="#46d63e" opacity="0.6"/>
<ellipse cx="55.6" cy="116.25" rx="1.41" ry="1.14" fill="#46d63e" opacity="0.9"/>
<ellipse cx="12.4" cy="95.25" rx="2.2" ry="0.88" fill="#46d63e" opacity="0.3" transform="rotate(30 12.4 95.25)"/>
<circle cx="97.6" cy="79.05" r="1.06" fill="#46d63e" opacity="0.4"/>
<circle cx="38.8" cy="69.45" r="1.32" fill="#46d63e" opacity="0.25"/>
</g>
<radialGradient id="gh"><stop offset="0" stop-color="#37a03c" stop-opacity="0.07"/><stop offset="0.55" stop-color="#37a03c" stop-opacity="0.03"/><stop offset="1" stop-color="#37a03c" stop-opacity="0"/></radialGradient>
<g id="g3c2h">
<ellipse cx="29.5" cy="25.96" rx="34" ry="28" fill="url(#gh)"/>
<ellipse cx="62.54" cy="14.16" rx="20" ry="22" fill="url(#gh)"/>
<ellipse cx="74.34" cy="66.08" rx="26" ry="26" fill="url(#gh)"/>
<ellipse cx="107.38" cy="29.5" rx="16" ry="24" fill="url(#gh)"/>
<ellipse cx="70.8" cy="106.2" rx="24" ry="18" fill="url(#gh)"/>
<ellipse cx="18.88" cy="106.2" rx="16" ry="22" fill="url(#gh)"/>
<ellipse cx="92.04" cy="70.8" rx="18" ry="18" fill="url(#gh)"/>
<ellipse cx="25.96" cy="80.24" rx="12" ry="16" fill="url(#gh)"/>
</g>
</defs>
<svg x="37" y="781.4" width="117.25" height="116.7">
<rect width="100%" height="100%" fill="#212121"/>
<rect width="100%" height="100%" fill="#101c5c" opacity="0.10"/>
<use href="#g1c1"/>
<rect x="93.75" y="94.25" width="21.75" height="1.3" fill="#c23a35"/>
<text x="106.12" y="93.7" font-size="2.6" text-anchor="middle" fill="#c23a35">50 μm</text>
</svg>
<svg x="37" y="903" width="117.25" height="116.5">
<rect width="100%" height="100%" fill="#212121"/>
<rect x="93.75" y="93.35" width="21.75" height="1.3" fill="#c23a35"/>
<text x="106.12" y="92.8" font-size="2.6" text-anchor="middle" fill="#c23a35">50 μm</text>
</svg>
<svg x="37" y="1025.25" width="117.25" height="116.75">
<rect width="100%" height="100%" fill="#212121"/>
<rect width="100%" height="100%" fill="#101c5c" opacity="0.10"/>
<use href="#g1c1"/>
<rect x="93.75" y="93.35" width="21.75" height="1.3" fill="#c23a35"/>
<text x="106.12" y="92.8" font-size="2.6" text-anchor="middle" fill="#c23a35">50 μm</text>
</svg>
<svg x="158.75" y="781.4" width="117" height="116.7">
<rect width="100%" height="100%" fill="#212121"/>
<use href="#g1c2"/>
<rect x="92.5" y="92.95" width="22.5" height="1.3" fill="#c23a35"/>
<text x="105.25" y="92.4" font-size="2.6" text-anchor="middle" fill="#c23a35">50 μm</text>
</svg>
<svg x="158.75" y="903" width="117" height="116.5">
<rect width="100%" height="100%" fill="#212121"/>
<use href="#g1c2g"/>
<use href="#g1c2d"/>
<rect x="93" y="92.55" width="22.2" height="1.3" fill="#c23a35"/>
<text x="105.6" y="92" font-size="2.6" text-anchor="middle" fill="#c23a35">50 μm</text>
</svg>
<svg x="158.75" y="1025.25" width="117" height="116.75">
<rect width="100%" height="100%" fill="#212121"/>
<use href="#g1c2"/>
<use href="#g1c2d"/>
<rect x="93" y="92.55" width="22.2" height="1.3" fill="#c23a35"/>
<text x="105.6" y="92" font-size="2.6" text-anchor="middle" fill="#c23a35">50 μm</text>
</svg>
<svg x="281.25" y="781.4" width="117" height="116.7">
<rect width="100%" height="100%" fill="#212121"/>
<rect width="100%" height="100%" fill="#0c1850" opacity="0.10"/>
<use href="#g1c3"/>
<rect x="93.2" y="91.75" width="22.4" height="1.3" fill="#c23a35"/>
<text x="105.9" y="91.2" font-size="2.6" text-anchor="middle" fill="#c23a35">50 μm</text>
</svg>
<svg x="281.25" y="903" width="117" height="116.5">
<rect width="100%" height="100%" fill="#212121"/>
<rect x="93.2" y="92.15" width="22.4" height="1.3" fill="#c23a35"/>
<text x="105.9" y="91.6" font-size="2.6" text-anchor="middle" fill="#c23a35">50 μm</text>
</svg>
<svg x="281.25" y="1025.25" width="117" height="116.75">
<rect width="100%" height="100%" fill="#212121"/>
<rect width="100%" height="100%" fill="#0c1850" opacity="0.10"/>
<use href="#g1c3"/>
<rect x="93.2" y="92.55" width="22.4" height="1.3" fill="#c23a35"/>
<text x="105.9" y="92" font-size="2.6" text-anchor="middle" fill="#c23a35">50 μm</text>
</svg>
<svg x="458.25" y="782.5" width="117.35" height="116.8">
<rect width="100%" height="100%" fill="#212121"/>
<use href="#g2c1"/>
<rect x="88.9" y="95.45" width="22.2" height="1.3" fill="#c23a35"/>
<text x="101.5" y="94.9" font-size="2.6" text-anchor="middle" fill="#c23a35">50 μm</text>
</svg>
<svg x="458.25" y="904.3" width="117.35" height="116.6">
<rect width="100%" height="100%" fill="#212121"/>
<rect x="88.9" y="94.95" width="22.2" height="1.3" fill="#c23a35"/>
<text x="101.5" y="94.4" font-size="2.6" text-anchor="middle" fill="#c23a35">50 μm</text>
</svg>
<svg x="458.25" y="1026.1" width="117.35" height="116.9">
<rect width="100%" height="100%" fill="#212121"/>
<use href="#g2c1"/>
<rect x="88.9" y="94.95" width="22.2" height="1.3" fill="#c23a35"/>
<text x="101.5" y="94.4" font-size="2.6" text-anchor="middle" fill="#c23a35">50 μm</text>
</svg>
<svg x="581" y="784" width="115.9" height="115.4">
<rect width="100%" height="100%" fill="#212121"/>
<use href="#g2c2"/>
<rect x="93.5" y="91.85" width="21.7" height="1.3" fill="#c23a35"/>
<text x="105.85" y="91.3" font-size="2.6" text-anchor="middle" fill="#c23a35">50 μm</text>
</svg>
<svg x="579.7" y="904.4" width="117.3" height="116.5">
<rect width="100%" height="100%" fill="#212121"/>
<use href="#g2c2g"/>
<rect x="93.5" y="92.75" width="22.1" height="1.3" fill="#c23a35"/>
<text x="106.05" y="92.2" font-size="2.6" text-anchor="middle" fill="#c23a35">50 μm</text>
</svg>
<svg x="580" y="1026.1" width="117" height="116.9">
<rect width="100%" height="100%" fill="#212121"/>
<use href="#g2c2"/>
<use href="#g2c2g"/>
<rect x="93.5" y="92.75" width="22.1" height="1.3" fill="#c23a35"/>
<text x="106.05" y="92.2" font-size="2.6" text-anchor="middle" fill="#c23a35">50 μm</text>
</svg>
<svg x="703" y="783.9" width="117" height="116.85">
<rect width="100%" height="100%" fill="#212121"/>
<use href="#g2c3"/>
<rect x="93.75" y="93.05" width="21.85" height="1.3" fill="#c23a35"/>
<text x="106.17" y="92.5" font-size="2.6" text-anchor="middle" fill="#c23a35">50 μm</text>
</svg>
<svg x="703" y="904.3" width="117" height="116.7">
<rect width="100%" height="100%" fill="#212121"/>
<rect x="93.75" y="92.65" width="21.85" height="1.3" fill="#c23a35"/>
<text x="106.17" y="92.1" font-size="2.6" text-anchor="middle" fill="#c23a35">50 μm</text>
</svg>
<svg x="703" y="1026.1" width="117" height="116.9">
<rect width="100%" height="100%" fill="#212121"/>
<use href="#g2c3"/>
<rect x="93.75" y="92.65" width="21.85" height="1.3" fill="#c23a35"/>
<text x="106.17" y="92.1" font-size="2.6" text-anchor="middle" fill="#c23a35">50 μm</text>
</svg>
<svg x="872.6" y="783" width="118" height="118.25">
<rect width="100%" height="100%" fill="#212121"/>
<use href="#g3c1"/>
<rect x="95" y="94.15" width="22" height="1.3" fill="#c23a35"/>
<text x="107.5" y="93.6" font-size="2.6" text-anchor="middle" fill="#c23a35">50 μm</text>
</svg>
<svg x="872.6" y="907" width="118" height="117.5">
<rect width="100%" height="100%" fill="#212121"/>
<rect x="95" y="94.15" width="22" height="1.3" fill="#c23a35"/>
<text x="107.5" y="93.6" font-size="2.6" text-anchor="middle" fill="#c23a35">50 μm</text>
</svg>
<svg x="872" y="1031.7" width="118.4" height="118.5">
<rect width="100%" height="100%" fill="#212121"/>
<use href="#g3c1"/>
<rect x="95" y="94.15" width="22" height="1.3" fill="#c23a35"/>
<text x="107.5" y="93.6" font-size="2.6" text-anchor="middle" fill="#c23a35">50 μm</text>
</svg>
<svg x="994.8" y="783" width="118.6" height="118.25">
<rect width="100%" height="100%" fill="#212121"/>
<use href="#g3c2"/>
<rect x="95" y="94.15" width="22" height="1.3" fill="#c23a35"/>
<text x="107.5" y="93.6" font-size="2.6" text-anchor="middle" fill="#c23a35">50 μm</text>
</svg>
<svg x="994.8" y="906.75" width="118.6" height="118.85">
<rect width="100%" height="100%" fill="#212121"/>
<use href="#g3c2h"/>
<use href="#g3c2g"/>
<rect x="95" y="94.15" width="22" height="1.3" fill="#c23a35"/>
<text x="107.5" y="93.6" font-size="2.6" text-anchor="middle" fill="#c23a35">50 μm</text>
</svg>
<svg x="994.3" y="1031" width="119.7" height="121">
<rect width="100%" height="100%" fill="#212121"/>
<use href="#g3c2h"/>
<use href="#g3c2"/>
<use href="#g3c2g"/>
<rect x="95" y="94.15" width="22" height="1.3" fill="#c23a35"/>
<text x="107.5" y="93.6" font-size="2.6" text-anchor="middle" fill="#c23a35">50 μm</text>
</svg>
<svg x="1118.6" y="783" width="118.6" height="118.25">
<rect width="100%" height="100%" fill="#212121"/>
<use href="#g3c3"/>
<rect x="95" y="94.15" width="22" height="1.3" fill="#c23a35"/>
<text x="107.5" y="93.6" font-size="2.6" text-anchor="middle" fill="#c23a35">50 μm</text>
</svg>
<svg x="1118.6" y="906.75" width="118.6" height="117.45">
<rect width="100%" height="100%" fill="#212121"/>
<rect x="95" y="94.15" width="22" height="1.3" fill="#c23a35"/>
<text x="107.5" y="93.6" font-size="2.6" text-anchor="middle" fill="#c23a35">50 μm</text>
</svg>
<svg x="1120" y="1031.7" width="119.5" height="120.3">
<rect width="100%" height="100%" fill="#212121"/>
<use href="#g3c3"/>
<rect x="95" y="94.15" width="22" height="1.3" fill="#c23a35"/>
<text x="107.5" y="93.6" font-size="2.6" text-anchor="middle" fill="#c23a35">50 μm</text>
</svg>
<text x="92.7" y="773.75" font-size="20" text-anchor="middle" fill="#262324">Normal</text>
<text x="217.5" y="773.75" font-size="20" text-anchor="middle" fill="#262324">OA</text>
<text x="339.5" y="773.4" font-size="20" text-anchor="middle" fill="#262324">OA+DSF</text>
<text x="516.25" y="773.75" font-size="20" text-anchor="middle" fill="#262324">Normal</text>
<text x="638.25" y="773.75" font-size="20" text-anchor="middle" fill="#262324">OA</text>
<text x="763.75" y="773.25" font-size="20" text-anchor="middle" fill="#262324">OA+DSF</text>
<text x="935.5" y="774.25" font-size="20" text-anchor="middle" fill="#262324">Normal</text>
<text x="1053.75" y="776.25" font-size="20" text-anchor="middle" fill="#262324">OA</text>
<text x="1179" y="774.25" font-size="20" text-anchor="middle" fill="#262324">OA+DSF</text>
<text x="29.6" y="831.6" font-size="21" text-anchor="middle" fill="#262324" transform="rotate(-90 29.6 831.6)">DAPI</text>
<text x="29.6" y="958.2" font-size="19.7" text-anchor="middle" fill="#262324" transform="rotate(-90 29.6 958.2)">Caspase1</text>
<text x="29.7" y="1085.5" font-size="20.4" text-anchor="middle" fill="#262324" transform="rotate(-90 29.7 1085.5)">MERGE</text>
<text x="445" y="845.2" font-size="21" text-anchor="middle" fill="#262324" transform="rotate(-90 445 845.2)">DAPI</text>
<text x="445" y="973.5" font-size="20.5" text-anchor="middle" fill="#262324" transform="rotate(-90 445 973.5)">IL-1β</text>
<text x="445" y="1088.6" font-size="21" text-anchor="middle" fill="#262324" transform="rotate(-90 445 1088.6)">MERGE</text>
<text x="866.3" y="843.6" font-size="21.2" text-anchor="middle" fill="#262324" transform="rotate(-90 866.3 843.6)">DAPI</text>
<text x="866.3" y="970.6" font-size="20.7" text-anchor="middle" fill="#262324" transform="rotate(-90 866.3 970.6)">ASC</text>
<text x="866.8" y="1093.5" font-size="21.4" text-anchor="middle" fill="#262324" transform="rotate(-90 866.8 1093.5)">MERGE</text>
</g>
</svg></body></html>
